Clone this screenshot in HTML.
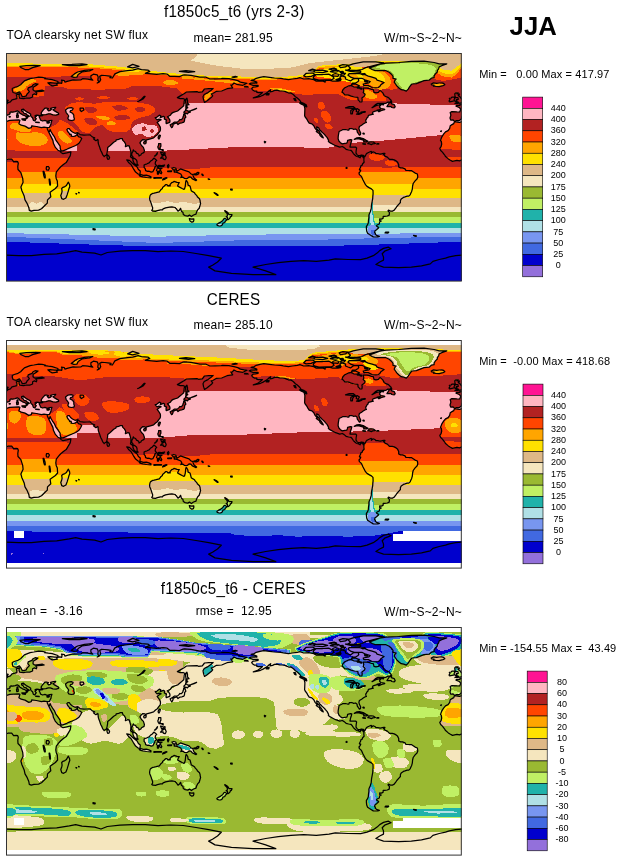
<!DOCTYPE html><html><head><meta charset="utf-8"><title>JJA TOA clearsky net SW flux</title><style>html,body{margin:0;padding:0;background:#fff}svg{display:block;will-change:transform}text{font-family:"Liberation Sans",sans-serif;fill:#000}</style></head><body><svg width="621" height="861" viewBox="0 0 621 861"><rect width="621" height="861" fill="#fff"/><defs><path id="landp" d="M-7.6 68.7L-2.5 69.4L3.8 67.3L12.7 66.9L13.9 67.4L12.9 70.7L15.2 72.2L19 73.1L22.8 75.4L25.3 74.7L25.7 72.8L30.4 73.5L35.5 74.7L38 74.2L41.2 74.5L41.3 76L42.8 79.2L45 83.6L46.9 87.4L47.4 90.3L49.4 94.4L51.9 97.2L54.5 98.4L55 99.4L57 100.7L60.8 99.8L64.9 98.9L64.3 102.6L62.1 106.4L60.2 109.6L57.4 111.5L54.5 114L52.6 116.2L50.3 119.1L49.8 122.9L50.2 125.4L51.3 127.9L51.6 133L49.4 135.5L46.2 137.8L44.1 139.3L44.8 143.8L41.5 146.9L41.3 150.1L39.3 152L35.5 155.8L32.6 157.1L27.9 157.3L25.3 158.1L23.3 157.3L22.8 154.5L20.9 150.1L19 146.9L18.2 143.1L15.8 137.4L14.9 134L17.1 129.2L16.7 125.4L15.5 121.6L14.9 119.7L12 116.5L11.8 113.4L12.3 110.2L11.7 108.7L10.1 108.3L7.6 108.6L5.7 106.1L2.5 106L0 106.9L-2.5 107.9L-5.1 107.4L-9.5 108.4L-12 107L-13.7 105.9L-16.7 103.2L-17.5 101.8L-19.6 99.1L-21.3 97.5L-22.2 95.4L-20.9 93.7L-20.3 91.2L-20.6 88.7L-21.5 87.4L-20.3 84.2L-18.4 81.1L-16.5 78.9L-13.9 77.6L-12.3 75.4L-11.8 72.8L-9.6 71.4L-8.2 70.6ZM448.4 68.7L453.5 69.4L459.8 67.3L468.7 66.9L469.9 67.4L468.9 70.7L471.2 72.2L475 73.1L478.8 75.4L481.3 74.7L481.7 72.8L486.4 73.5L491.5 74.7L494 74.2L497.2 74.5L497.3 76L498.8 79.2L501 83.6L502.9 87.4L503.4 90.3L505.4 94.4L507.9 97.2L510.5 98.4L511 99.4L513 100.7L516.8 99.8L520.9 98.9L520.3 102.6L518.1 106.4L516.2 109.6L513.4 111.5L510.5 114L508.6 116.2L506.3 119.1L505.8 122.9L506.2 125.4L507.3 127.9L507.6 133L505.4 135.5L502.2 137.8L500.1 139.3L500.8 143.8L497.5 146.9L497.3 150.1L495.3 152L491.5 155.8L488.6 157.1L483.9 157.3L481.3 158.1L479.3 157.3L478.8 154.5L476.9 150.1L475 146.9L474.2 143.1L471.8 137.4L470.9 134L473.1 129.2L472.7 125.4L471.5 121.6L470.9 119.7L468 116.5L467.8 113.4L468.3 110.2L467.7 108.7L466.1 108.3L463.6 108.6L461.7 106.1L458.5 106L456 106.9L453.5 107.9L450.9 107.4L446.5 108.4L444 107L442.3 105.9L439.3 103.2L438.5 101.8L436.4 99.1L434.7 97.5L433.8 95.4L435.1 93.7L435.7 91.2L435.4 88.7L434.5 87.4L435.7 84.2L437.6 81.1L439.5 78.9L442.1 77.6L443.7 75.4L444.2 72.8L446.4 71.4L447.8 70.6ZM-11.3 67.1L-12 65L-11.1 62.1L-11.8 59.5L-10.1 58.6L-5.1 58.9L-2.3 59L-1.5 57L-1.5 55.7L-2.8 54.5L-6 53.2L-5.7 52.4L-1.9 52.3L-2 51L0.3 51.3L2 49.7L4.4 48.9L6 46.9L8.9 46.2L10.8 45.6L10.9 43.7L10.3 41.8L13.4 40.9L13 43.1L13.7 45.2L15.2 45.3L17.7 45.6L20.9 45L23.7 45.1L26.6 44L26.6 41.8L28.5 40.9L30.4 41.8L30.8 40.2L29.8 39L31.4 38.6L35.5 38.5L38.3 38L36.1 37.2L32.9 37.5L28.5 38L27 36.7L27.2 34.2L31 31.9L32 31L29.1 30.7L27.2 31.7L26 33.3L22.2 34.8L21.8 36.7L23.4 38.6L20.9 41.2L20.3 42.8L18.1 43.7L16.3 43.7L14.9 40.9L13.4 38.9L10.1 40.4L7.1 39.5L6.3 37.4L6.3 35.5L8.2 34.5L12 33.3L14.6 31.7L16.5 29.8L18.4 27.9L20.9 26.9L24.1 25.6L27.9 25L32.7 24.1L36.1 24.3L39.3 25L38.6 25.7L42.4 26.2L46.2 26.6L51.9 28.5L51.9 29.8L48.8 30.1L44.3 29.6L41.8 29.8L44.1 31.7L46.2 32.9L48.1 32.6L51.3 32.2L50.7 30.7L53.8 29.8L55.7 30.3L56 28.5L55.5 27.1L58.3 27.5L58.9 29.1L62.1 28.1L67.1 26.9L69.7 27.2L74.7 27L76.6 25.7L81.7 26.2L86.8 27.2L84.9 25.3L84.9 22.8L87.4 21.2L91.2 21.8L92.2 24.1L91.8 27.2L93.1 29.1L91.2 30L93.7 28.5L94.7 26.6L93.7 23.4L95.6 22.4L98.8 22.5L102 22.8L105.1 23.4L103.9 24.7L106.4 25L108.9 20.9L114 18.6L121.6 17.7L126.7 17.1L132.1 15.6L135.5 16.7L141.9 17.1L143.8 18.4L139.3 20.3L143.1 20.6L150.7 21.3L157.1 20.6L160.9 21L164 23.4L168.5 23.4L173.5 23.6L176.7 22.2L178.6 21.8L184.9 22.4L190 23.3L193.8 24.2L200.1 24.2L203.9 26L209 25.8L215.3 25.6L216.6 25.3L222.9 25.6L228 26.7L231.8 27.6L234.3 29.1L241 30.3L236.9 32.3L230.5 31.3L228 30L226.1 32.2L224.8 32L226.7 34.8L221 35.7L215.7 38L210.5 38.3L206.8 40.5L205.2 40.8L206.7 42.8L205.2 44.6L202.7 46.6L200.5 48.3L198.5 49.4L197.6 46.9L197 43.7L198.2 41.5L201.4 39.9L204.8 37.6L207.1 35.5L202.7 35.7L198.5 36L196.3 38.9L192.5 39.3L191 38.6L184.3 38.8L180.5 39L178 40.8L174.8 42.6L171.4 44.6L174.2 45.6L177.1 45.5L179.1 46.6L178.2 47.8L178 50.7L177.7 52.8L175.1 55.1L171.6 58L167.2 59.4L165.6 60.4L164.3 62.3L161.5 63.8L162.8 65.2L163.9 67.1L163.9 69L163.1 69.7L160.2 70.6L160 68.8L160.5 67.1L158.3 65.9L158.6 64L157.4 63.3L154.2 64.6L154.8 62.8L153.3 62.2L150.7 64.3L149.2 64.6L150.1 65.9L151.1 66.8L153 66.1L155.2 66.8L153.3 67.8L151.1 69.4L152.6 71.3L154.3 74.1L154.5 76L154.2 77.9L152.6 79.8L151.4 81.7L149.5 83L147.6 84.9L144.4 85.8L140.6 86.8L139.7 88.3L139 86.8L136.8 86.6L135.2 87.9L133.9 89.9L135.5 92.5L137.4 94.4L138.4 97.5L138.1 99.4L135.5 100.8L134.9 102L133 103L132.7 101.3L130.5 100.1L129.6 98.5L127.8 97.9L127.3 96.9L126.7 98.8L125.7 100.7L125.8 102.3L127 103.9L127.3 105.1L128.6 105.4L130.5 107L131.1 108.9L131.1 110.8L132.1 112.2L131.1 112.4L128.3 110.5L127 107.7L127 106.4L126 104.8L124.5 103.9L124.8 102L124.9 98.8L123.8 95L123.1 92.8L121.6 92.7L119.4 93.7L119.7 91.2L118.4 88.9L116.8 87.4L116.3 85.5L114.6 85.5L112.7 86.3L110.2 86.8L109.9 88L107.7 89.3L104.2 92.5L101.7 94.4L101.6 96.9L101.1 99.4L100.7 101L100.1 102.2L99.1 102.7L98.2 103.7L96.6 101.6L95.6 99.1L94.7 97.5L93.7 94.4L92.5 91.2L92.2 89.9L92.1 87.4L91.8 86.4L89.9 87.7L87.4 85.8L88.7 84.9L86.5 84L84.9 82.6L84.2 81.8L81.1 82L77.9 82.1L74.1 81.6L72.5 80.1L71.6 79.7L69 80.3L66.5 79L64.6 77.5L63.3 75.7L61.8 75.6L60.8 76.6L61.7 78.5L63.3 80.3L63.7 81.7L64.9 81.1L65.4 82.3L65 83.2L67.1 83.5L69 83.2L70.9 81.7L71.4 80.7L71.6 82.6L72.8 83.9L74.2 84.1L75.7 85.5L74.5 88L73.2 89.9L71.6 91.2L69.7 92.5L66.1 94L63.3 95.1L60.8 96.3L57 97.8L55.1 97.9L54.2 95.3L54.1 93.1L51.9 89.9L49.7 86.8L48.5 83.9L46.9 81.7L45 78.5L44.1 76.6L43.4 78.8L42.1 77.6L41.3 76L41.2 74.6L43.4 74.4L44.3 72.5L45 71.1L45.3 68.9L45.9 67.4L43.7 67.5L41.2 68.3L38.9 67.4L36.7 68L34.6 67.1L33.9 65.2L33.2 64L33.3 63.1L34.8 62.8L36.7 62.7L36.9 61.8L39.9 61.7L42.4 60.8L44.3 60.8L46.9 61.8L50 62.1L52.6 61.3L52.6 60.2L50.3 58.9L48.1 57.6L46.9 56.7L48.8 55.7L49.7 54.3L47.5 54.5L44.6 55.4L45.3 56.6L44.3 57.3L42.6 57.8L41.3 56.5L42.4 55.7L40.3 55L38.9 55.2L37.6 56.6L36.4 58L35.5 59.3L35.1 60.2L35.6 61.3L36.6 61.9L34.8 62.1L33.2 63.2L32.9 62.3L31 62.2L29.1 62.7L30.4 63.3L28.9 64L29.5 65L30.4 65.9L30 66L29.4 66.6L29.1 67.8L28.4 67.8L27.5 67.4L26.9 66.1L26.6 64.7L25.3 63.7L24.6 62.7L24.7 61.2L23.4 60.2L20.8 58.9L19 57.6L18.1 56.7L17.2 57.1L17.4 56.1L15.6 56.6L15.7 58L17.1 58.8L18 60.3L20.3 60.9L20.3 61.6L21.5 62.1L23.4 63.2L22.7 63.5L21.7 62.7L21 63.6L21.8 64.6L20.9 65.4L19.9 66L20.1 65L20.4 64.5L19.8 63.3L18 62.3L16.5 61.8L15.5 61.1L13.9 60.2L13.3 59.5L13 58.8L11.3 57.8L9.2 58.6L6.7 59.2L5.1 58.9L3.9 59.5L4.1 60.8L2.8 61.6L1 62.1L0 63.6L-0.4 64.1L0.3 65L-0.6 65.5L-1 66.4L-2.4 67.3L-3.2 67.5L-5.6 67.5L-6.8 68.3L-8 67.8L-8.9 66.9ZM444.7 67.1L444 65L444.9 62.1L444.2 59.5L445.9 58.6L450.9 58.9L453.7 59L454.5 57L454.5 55.7L453.2 54.5L450 53.2L450.3 52.4L454.1 52.3L454 51L456.3 51.3L458 49.7L460.4 48.9L462 46.9L464.9 46.2L466.8 45.6L466.9 43.7L466.3 41.8L469.4 40.9L469 43.1L469.7 45.2L471.2 45.3L473.7 45.6L476.9 45L479.7 45.1L482.6 44L482.6 41.8L484.5 40.9L486.4 41.8L486.8 40.2L485.8 39L487.4 38.6L491.5 38.5L494.3 38L492.1 37.2L488.9 37.5L484.5 38L483 36.7L483.2 34.2L487 31.9L488 31L485.1 30.7L483.2 31.7L482 33.3L478.2 34.8L477.8 36.7L479.4 38.6L476.9 41.2L476.3 42.8L474.1 43.7L472.3 43.7L470.9 40.9L469.4 38.9L466.1 40.4L463.1 39.5L462.3 37.4L462.3 35.5L464.2 34.5L468 33.3L470.6 31.7L472.5 29.8L474.4 27.9L476.9 26.9L480.1 25.6L483.9 25L488.7 24.1L492.1 24.3L495.3 25L494.6 25.7L498.4 26.2L502.2 26.6L507.9 28.5L507.9 29.8L504.8 30.1L500.3 29.6L497.8 29.8L500.1 31.7L502.2 32.9L504.1 32.6L507.3 32.2L506.7 30.7L509.8 29.8L511.7 30.3L512 28.5L511.5 27.1L514.3 27.5L514.9 29.1L518.1 28.1L523.1 26.9L525.7 27.2L530.7 27L532.6 25.7L537.7 26.2L542.8 27.2L540.9 25.3L540.9 22.8L543.4 21.2L547.2 21.8L548.2 24.1L547.8 27.2L549.1 29.1L547.2 30L549.7 28.5L550.7 26.6L549.7 23.4L551.6 22.4L554.8 22.5L558 22.8L561.1 23.4L559.9 24.7L562.4 25L564.9 20.9L570 18.6L577.6 17.7L582.7 17.1L588.1 15.6L591.5 16.7L597.9 17.1L599.8 18.4L595.3 20.3L599.1 20.6L606.7 21.3L613.1 20.6L616.9 21L620 23.4L624.5 23.4L629.5 23.6L632.7 22.2L634.6 21.8L640.9 22.4L646 23.3L649.8 24.2L656.1 24.2L659.9 26L665 25.8L671.3 25.6L672.6 25.3L678.9 25.6L684 26.7L687.8 27.6L690.3 29.1L697 30.3L692.9 32.3L686.5 31.3L684 30L682.1 32.2L680.8 32L682.7 34.8L677 35.7L671.7 38L666.5 38.3L662.8 40.5L661.2 40.8L662.7 42.8L661.2 44.6L658.7 46.6L656.5 48.3L654.5 49.4L653.6 46.9L653 43.7L654.2 41.5L657.4 39.9L660.8 37.6L663.1 35.5L658.7 35.7L654.5 36L652.3 38.9L648.5 39.3L647 38.6L640.3 38.8L636.5 39L634 40.8L630.8 42.6L627.4 44.6L630.2 45.6L633.1 45.5L635.1 46.6L634.2 47.8L634 50.7L633.7 52.8L631.1 55.1L627.6 58L623.2 59.4L621.6 60.4L620.3 62.3L617.5 63.8L618.8 65.2L619.9 67.1L619.9 69L619.1 69.7L616.2 70.6L616 68.8L616.5 67.1L614.3 65.9L614.6 64L613.4 63.3L610.2 64.6L610.8 62.8L609.3 62.2L606.7 64.3L605.2 64.6L606.1 65.9L607.1 66.8L609 66.1L611.2 66.8L609.3 67.8L607.1 69.4L608.6 71.3L610.3 74.1L610.5 76L610.2 77.9L608.6 79.8L607.4 81.7L605.5 83L603.6 84.9L600.4 85.8L596.6 86.8L595.7 88.3L595 86.8L592.8 86.6L591.2 87.9L589.9 89.9L591.5 92.5L593.4 94.4L594.4 97.5L594.1 99.4L591.5 100.8L590.9 102L589 103L588.7 101.3L586.5 100.1L585.6 98.5L583.8 97.9L583.3 96.9L582.7 98.8L581.7 100.7L581.8 102.3L583 103.9L583.3 105.1L584.6 105.4L586.5 107L587.1 108.9L587.1 110.8L588.1 112.2L587.1 112.4L584.3 110.5L583 107.7L583 106.4L582 104.8L580.5 103.9L580.8 102L580.9 98.8L579.8 95L579.1 92.8L577.6 92.7L575.4 93.7L575.7 91.2L574.4 88.9L572.8 87.4L572.3 85.5L570.6 85.5L568.7 86.3L566.2 86.8L565.9 88L563.7 89.3L560.2 92.5L557.7 94.4L557.6 96.9L557.1 99.4L556.7 101L556.1 102.2L555.1 102.7L554.2 103.7L552.6 101.6L551.6 99.1L550.7 97.5L549.7 94.4L548.5 91.2L548.2 89.9L548.1 87.4L547.8 86.4L545.9 87.7L543.4 85.8L544.7 84.9L542.5 84L540.9 82.6L540.2 81.8L537.1 82L533.9 82.1L530.1 81.6L528.5 80.1L527.6 79.7L525 80.3L522.5 79L520.6 77.5L519.3 75.7L517.8 75.6L516.8 76.6L517.7 78.5L519.3 80.3L519.7 81.7L520.9 81.1L521.4 82.3L521 83.2L523.1 83.5L525 83.2L526.9 81.7L527.4 80.7L527.6 82.6L528.8 83.9L530.2 84.1L531.7 85.5L530.5 88L529.2 89.9L527.6 91.2L525.7 92.5L522.1 94L519.3 95.1L516.8 96.3L513 97.8L511.1 97.9L510.2 95.3L510.1 93.1L507.9 89.9L505.7 86.8L504.5 83.9L502.9 81.7L501 78.5L500.1 76.6L499.4 78.8L498.1 77.6L497.3 76L497.2 74.6L499.4 74.4L500.3 72.5L501 71.1L501.3 68.9L501.9 67.4L499.7 67.5L497.2 68.3L494.9 67.4L492.7 68L490.6 67.1L489.9 65.2L489.2 64L489.3 63.1L490.8 62.8L492.7 62.7L492.9 61.8L495.9 61.7L498.4 60.8L500.3 60.8L502.9 61.8L506 62.1L508.6 61.3L508.6 60.2L506.3 58.9L504.1 57.6L502.9 56.7L504.8 55.7L505.7 54.3L503.5 54.5L500.6 55.4L501.3 56.6L500.3 57.3L498.6 57.8L497.3 56.5L498.4 55.7L496.3 55L494.9 55.2L493.6 56.6L492.4 58L491.5 59.3L491.1 60.2L491.6 61.3L492.6 61.9L490.8 62.1L489.2 63.2L488.9 62.3L487 62.2L485.1 62.7L486.4 63.3L484.9 64L485.5 65L486.4 65.9L486 66L485.4 66.6L485.1 67.8L484.4 67.8L483.5 67.4L482.9 66.1L482.6 64.7L481.3 63.7L480.6 62.7L480.7 61.2L479.4 60.2L476.8 58.9L475 57.6L474.1 56.7L473.2 57.1L473.4 56.1L471.6 56.6L471.7 58L473.1 58.8L474 60.3L476.3 60.9L476.3 61.6L477.5 62.1L479.4 63.2L478.7 63.5L477.7 62.7L477 63.6L477.8 64.6L476.9 65.4L475.9 66L476.1 65L476.4 64.5L475.8 63.3L474 62.3L472.5 61.8L471.5 61.1L469.9 60.2L469.3 59.5L469 58.8L467.3 57.8L465.2 58.6L462.7 59.2L461.1 58.9L459.9 59.5L460.1 60.8L458.8 61.6L457 62.1L456 63.6L455.6 64.1L456.3 65L455.4 65.5L455 66.4L453.6 67.3L452.8 67.5L450.4 67.5L449.2 68.3L448 67.8L447.1 66.9ZM257.8 23.7L263.5 24.3L268.5 25L274.9 25.3L277.4 25.8L282.5 26.6L286.3 26L291.3 25.3L293.9 24.7L297.7 26L302.7 25.6L307.8 26.6L310.3 28.1L316.7 28L319.2 29.1L319.2 27.6L323 27.2L326.8 28.1L331.9 28.1L334.4 27.6L335 26.6L333.8 24.1L336.3 22.8L339.5 24.1L339.5 26L342 27L344.5 27.9L347.1 26L348.3 25.6L352.1 25.6L352.8 27.2L352.1 28.5L349.6 30L346.4 30L345.2 32.3L342 33.2L338.8 34.8L336.9 36.7L336 39.3L336.9 39.6L338.8 41.8L342 41.8L345.2 43.1L348.3 44L351.8 44.3L352.1 46.9L353.4 48.1L354 49L355.9 48.8L356.2 46.9L355.9 45L358.5 43.1L359.1 41.2L357.2 39.6L357.8 38L357.2 35.1L361 35.1L363.5 35.7L365.4 36.5L367.3 36.7L368 39.3L369.9 39.9L372.4 39.3L373.7 37.6L374.3 37.6L376.8 39.9L378.1 42.4L380 43.7L382.5 44.6L383.8 46L385.3 47.5L384.4 48.8L381.9 49.1L380 50.3L376.2 50.3L371.8 50.4L369.2 51.9L367.3 53.8L366.1 54.6L369.9 52.6L373.7 51.7L374.6 52.3L373.7 53.2L373.7 54.5L374.9 55.5L378.1 56.1L378.7 56.6L375.6 57.5L373 58.8L372.1 58L374.3 56.6L371.1 57L371.1 57.6L368.6 58.3L367.1 58.8L366.3 60.2L367.3 61.2L365.4 61.6L362.5 62.3L362.3 62.7L362 64L361 64.9L360.4 66.1L359.7 67.1L360.1 69L360.4 69.4L358.8 70L357.2 71.1L355.6 72.2L353.4 73.5L352.9 75.4L353.4 77.3L354 78.5L354.7 80.1L354.4 81.7L353.4 82.1L352.4 80.7L351.2 78.8L351.1 77.3L349.6 76L347.7 76.3L345.8 75.5L343.3 75.6L342.9 77L341.4 77L339.5 76.5L336.9 76.5L335.7 77.3L333.1 78.5L332.6 81.1L332.2 83.6L332.1 85.8L332.9 88L334.4 89.7L336.3 90.9L338.8 90.4L340.7 90.2L341.4 88.7L341.6 87.4L344.5 86.6L345.8 86.9L345.2 89.3L344.5 91.2L344.2 93.1L343.9 94L347.1 94L349.6 94L350.6 95L350.2 97.5L350 100.1L350.9 101.3L352.1 102.6L354 102.6L355.3 102L357.2 102.3L358.1 103.2L357.3 104.8L356.7 103.5L355.3 102.7L354 104.8L352.5 103.9L350.9 103.5L350 103L348.3 101.6L347.3 100.3L345.8 98.2L344.9 97.3L342.6 97L340.1 96.3L338.2 94.6L336.3 93.5L333.8 94.1L329.6 92.7L326.8 91.2L324.3 89.9L322.4 88.4L322.6 87.4L321.2 84.6L319.2 82.3L317.4 80.4L316 79.2L315.4 78.5L313.5 76.6L312.6 74.7L310.7 73.8L311 76L312.9 77.9L314.1 79.8L315.4 81.7L316.7 83.6L317.3 84.9L316.3 84.5L314.1 82.6L313.5 80.8L311.6 79.5L310.3 78.5L311.3 77.9L309.1 75.4L307.8 72.8L305.9 70.9L303.2 70.2L301.7 67.8L300.8 66.1L299.2 64L298.6 62.8L298.7 60.8L298.8 58.3L298.9 55.5L298.2 52.8L300.8 53.8L300.2 51.9L298.3 50.7L295.1 49.4L293.9 47.5L291.3 45L289.4 43.7L287.5 41.8L285 39.9L283.1 40.2L281.2 39.3L278.9 38.4L276.1 38L273.6 37.9L271.1 37.1L268.5 37.4L266.6 38.4L264.1 38.9L264.7 36.7L262.8 38L261.6 39.3L259.7 40.5L257.1 42.1L254.6 43.3L251.4 44.1L248.9 44.6L247.3 44.8L249.5 44L252.1 43.1L254.6 41.2L256.5 39.6L255.2 39.5L252.7 39.6L250.8 39.3L250.8 38L248.3 38L246.4 36.7L245.7 35.5L247 34.2L249.5 33.9L252.1 33.3L252.1 32.3L249.5 32.3L247 32.3L245.1 31.7L243.2 30.9L245.1 30.1L248.3 29.8L250.8 30.1L250.8 29.1L248.3 28.2L245.1 27.4L248.3 26.6L250.2 25.3L254 24.3ZM358.1 103.2L358.7 103.9L360.4 100.7L361.3 100.1L362 99.7L365.2 98.3L365.7 99.1L365.3 100.3L367.3 98.8L369.2 99.7L369.9 100.7L371.8 100.6L374.3 101.1L377.5 100.4L377.7 101.6L379 103.2L381.3 104.1L382.5 105.4L383.8 106.4L386.3 106.4L388.2 106.9L390.1 107.9L391.4 108.9L392.7 111.5L392.7 114L394.6 114.9L396.5 114.9L399 115.9L399.9 117.3L402.8 117.5L405.3 117.5L407.2 118.7L409.1 120.1L411.4 121L411.8 124.1L411 126L409.1 127.9L407.2 130.5L406.6 133L406.3 136.2L405.6 138.7L405 139.7L404.1 141.9L402.8 143.1L401.3 143.1L399 143.9L397.4 144.4L395.2 146L394.4 147.6L394.4 149.5L392.7 151.4L390.8 153.5L389.9 154.8L388.2 157.1L386.3 158.2L384.8 158.2L382.5 157.1L382 157.8L383.5 159.6L383.2 162.1L381.3 163L378.7 163.4L377.2 163.3L377.1 165.3L375.2 166.1L373.7 165.9L373.7 167.5L375.3 168L373.7 168.7L373.3 171L371.1 172L370.5 172.9L372.4 174.2L372.7 174.8L370.5 176.7L368.9 178L368.6 179.5L369.4 180.2L369.2 181.1L370.5 182.4L373.4 183.3L371.8 183.8L369.2 184L367.3 183.9L365.4 182.7L363.5 181.5L361.6 180.2L360.7 178L360.4 175.4L360.4 173.3L361.6 171.6L362.3 169.7L362.5 167.2L362.9 164.7L362.9 162.1L363.3 160.9L364.2 159L365.2 155.8L365.4 153.3L365.6 151.4L366.1 148.8L366.7 145.7L366.8 143.8L367.1 140.6L367 137.4L365.4 135.9L363.5 134.9L361 133.4L359.5 131.7L358.2 129.2L356.9 126.7L355.9 124.4L354.9 122.9L353.4 121.6L353 120L354.3 118.3L354.7 117.2L353.4 116.8L354 115.3L354.7 114L354.7 113L356.2 112.1L356.6 110.8L358.1 109.2L357.8 107L358 105.1L357.3 104.8ZM180.5 127.6L181.8 129.8L182.1 132.1L184 133L184.7 135.5L185.3 137.8L186.2 138.4L188.5 139.7L189.1 140.9L191 142.9L191.3 143.8L193.5 145.7L194.1 147.6L194.2 148.8L194.6 150.4L193.8 153.3L193.2 155.2L191.6 156.9L190.6 159L190 161.1L187.5 162L185.4 163.5L183.5 162.1L181.8 163.1L179.2 162.6L177.3 161.5L177 159.6L175.4 158.3L174.8 155.8L174.5 155.3L173.5 157.1L172.3 158.1L172 158.1L170.4 155.8L169.7 155.2L169.1 154.5L165.9 153.9L163.4 154.2L159.6 154.8L157.1 155.8L156.4 156.9L154.5 156.9L151.4 157.6L149.5 158.3L146.9 158.2L145.8 157.4L146.6 156.2L146.6 154.5L145.9 152.6L145.2 150.4L144.4 148.2L143.8 146.9L143.6 145L144.1 142.5L144.7 141.6L146.9 140.3L148.2 140.1L150.2 139.7L153.3 138.8L154.8 136.8L156.4 135.5L156.6 134.5L158.3 133L159.6 131.7L160.9 131.7L162.1 133L162.8 132.7L164.2 132.9L164 131.7L165.7 129.7L167.2 129.2L168 128.3L171 129.3L173.3 129.5L172.3 131.1L171.6 133L173.5 134.1L176.1 135.5L178 136.3L178.5 136L179.2 133.6L179.5 131.1L179.6 129.8L179.9 127.9ZM183.3 165.6L185.6 166.1L187.8 165.8L187.8 167.5L187.3 168.7L185.9 169.2L184.4 168.3L183.9 167.5ZM218.8 157.6L220.8 158.7L222.3 160.2L222.9 161.6L225.5 161.6L226.1 161.8L225.3 163.4L224.2 163.9L224.1 164.9L222.9 166.2L221.9 166.7L221.4 166.3L221.7 165.3L221.4 164.4L220.1 163.8L221.2 163.1L221.4 162.1L221.2 160.9L220.7 160.1L219.1 158.6ZM218.8 165.3L220.4 166.2L220.8 166.9L219.1 168.5L218.9 169.5L217 170.1L216.2 172L214.7 172.9L213.2 173L211.2 172.4L210.9 171.6L212.8 170.1L214.7 169.1L216.6 167.8L217.2 166.8L218 165.7ZM363.5 14.9L369.9 12.7L373.7 11.1L380 10.1L392.7 9.5L405.3 8.4L418 8.1L428.1 9.5L433.2 10.8L440.8 10.8L435.7 12.7L433.2 13.9L432.6 15.8L431.3 17.7L431.3 19L429.4 20.9L428.1 22.8L428.1 24.7L425.6 25.1L423.1 27.2L418 27.7L414.2 29.1L410.4 30.7L406 31L404.7 32.3L403.4 34.2L402.2 36.1L400.3 38.1L397.7 37.2L395.2 36.7L392.7 34.8L390.8 32.9L389.5 31L388.2 29.1L388.9 27.2L390.1 26L387 25.3L387 23.4L385.7 21.5L383.2 19.3L380 17.7L374.9 17.5L369.2 17.7L366.1 16.5ZM425.2 31L427.5 29.9L430.7 30.4L433.2 30L435.7 29.8L437.6 30.4L438.8 31.7L437 32.6L433.2 33.6L430 33.4L427.5 33.1L428.1 32.2L425.6 31.8ZM-7 50.5L-4.4 50.3L-1.3 49.8L1.6 49.1L0.9 48.6L2.2 47.4L0.4 46.9L0 46L-1.5 44.8L-2 43.7L-2.8 43.1L-3.8 42.7L-2.5 41L-4.4 40.9L-5.1 40.8L-3.8 39.8L-6.3 39.8L-7.3 41L-7.1 42.4L-7 43.7L-6.1 44.5L-4.2 44.5L-3.8 45.6L-3.8 46.4L-5.6 46.5L-5.8 47.1L-5.1 47.6L-6.6 48.4L-4.4 48.8L-3.8 49.1L-5.7 49.4ZM449 50.5L451.6 50.3L454.7 49.8L457.6 49.1L456.9 48.6L458.2 47.4L456.4 46.9L456 46L454.5 44.8L454 43.7L453.2 43.1L452.2 42.7L453.5 41L451.6 40.9L450.9 40.8L452.2 39.8L449.7 39.8L448.7 41L448.9 42.4L449 43.7L449.9 44.5L451.8 44.5L452.2 45.6L452.2 46.4L450.4 46.5L450.2 47.1L450.9 47.6L449.4 48.4L451.6 48.8L452.2 49.1L450.3 49.4ZM448.4 47.9L448.1 46.5L448.9 45.1L448 44.1L445.9 44.1L445.2 45L443.3 45.3L444 46.5L443 48.1L443.7 48.8L445.9 48.4ZM165.8 70.9L167.2 69.9L168.5 69L171.6 68.9L173.2 67.4L173.9 66.5L175.4 66.6L176.7 65.2L177.3 63.3L177.7 61.8L179.1 61.6L179.5 63.3L179.9 64L178.6 65.6L178.6 67.1L178.2 68.7L177.3 69.4L177 69.3L175.8 70L173.8 70.2L173.3 70.6L172 71.6L171.3 70.6L170.4 70L168.5 70.6L167.6 71.1L166.9 71.6L167.1 72.5L166.4 74.1L165.6 74.6L164.9 73.5L164.4 72.6L164.2 71.8L165.2 71.2ZM177.6 61.4L178.6 60.2L177.8 59.2L179.4 57.6L179.6 56.5L181.1 57.6L183 58.3L184 57.9L184.3 59.2L182.4 59.7L181.5 60.8L179.6 60.2L178.5 61.1ZM179.9 55.7L181.8 54.7L180.9 53.8L181.1 51.9L183 51.7L181.5 50L181.5 47.5L180.9 45.2L179.9 46.2L179.6 48.8L180 51.3L179.9 53.8ZM120.7 106.9L123.5 107.4L126.7 110.5L131.1 114L132.4 116.5L134.3 118.1L134 121.3L132.4 121.2L129.6 119.1L127.2 115.3L125.1 111.8L122.9 109.8ZM133.3 122.6L134.9 121.6L137.4 122.4L140.3 122.1L142.8 122.9L145 123.9L144.9 124.9L140.6 124.5L136.8 123.9L134.8 123.4ZM138.1 112.1L139 111.5L141 110.8L143.1 109.9L144.4 108.3L146.3 107L147.9 105.1L149.1 106L150.7 107.4L149.5 108.7L149.2 110.8L150.5 112.7L148.8 114L148.8 115.3L147.6 117.2L146.9 118.7L145.2 119.1L143.1 118.2L141.6 118.3L139.6 117.7L139.3 115.9L138.1 114.4ZM151.7 113.1L153 112.4L155.8 112.7L158.6 112L157.7 113.5L154.5 113.4L152.3 113.6L152.6 115.3L154.3 115.1L156.2 115.1L154.5 116.3L153.9 116.5L155.2 118.4L155.8 119.7L155.2 120.8L154 120L153.3 117.8L152.5 118.4L152.5 121L151.4 121L151.4 118.4L150.5 117.4L151.6 114.4ZM165.9 115L167.8 114.5L169.7 115L171 118.2L174.5 115.9L178.6 117.3L183 118.8L184.7 120.7L186.8 121.6L187.2 122.9L188.1 125.1L190.6 127L190 127.6L186.5 126L184.9 124.1L183 123.8L181.8 125.1L180.5 125.7L178.6 125.5L176.7 124.1L174.8 124.5L175.8 122.9L174.8 121L171.6 119.6L169.1 118.8L168.2 119.1L168.2 117.5L169.7 116.9L168.5 116.8L167.2 116.8ZM187.8 121.1L190 120.6L191.9 119.4L192.9 119.7L192.5 121L190.6 121.9L188.7 121.9ZM152.6 90.6L154.8 90.6L154.9 93.1L153.9 95L154.5 96.3L157.1 96.5L157.2 98L155.8 97L154.3 96.5L152.9 96.5L152.8 95.6L152 95L151.9 93.4L152.5 92.5ZM154.5 105.1L156.4 103.1L159 101.7L160.2 104.5L159.6 106.1L159 106.7L157.3 106.1L157.1 104.9ZM154.5 99.1L156.1 99.4L157.1 100.1L159 99.7L159 101.1L157.1 101.3L155.8 102.2L155.2 100.7ZM148.5 103.2L150.1 101.6L151.5 99.7L151.1 101.1L149.5 102.9ZM153.3 82.1L154.4 82.3L153.9 84.2L153 86.1L152.1 84.9L152.4 83.6ZM138.1 88.7L140.3 88.7L139.8 90.6L138.1 90.8L137.6 89.7ZM101.3 101.6L103 103.2L103.6 104.8L102.9 106.1L101.7 106.4L101 104.5L101.1 103.2ZM62.4 129.2L63.6 131.7L63.8 133.6L63 135.5L62.3 138.1L61.1 141.9L59.9 145L57.6 146.3L55.7 145.7L54.8 142.5L55.7 140L56.1 138.1L55.7 135.5L57 134.3L58.9 133.6L60.5 132.4L61.4 130.7ZM348.3 86.3L350.9 84.9L353.4 84.6L357.2 85.6L359.7 87.1L362 88.4L360.4 88.8L357.6 88.9L358.2 87.9L356.6 86.8L354 86.1L352.1 85.6L350.2 85.9ZM361.8 90.7L363.5 88.8L365.2 88.8L367.3 89L369.4 90.4L368.6 90.7L366.7 90.9L365.4 91.6L363.5 90.9ZM356.8 90.7L359.4 90.9L359.4 91.3L356.9 91.2ZM370.9 90.6L372.8 90.7L372.7 91.2L370.9 91.2ZM378.1 29.5L374.9 31.7L373.7 33.6L372.4 34.5L369.9 34.8L366.1 34.5L362.3 32.6L357.8 32.6L357.2 31L362.9 29.8L364.2 28.5L359.7 27.2L355.9 25.3L348.3 25.3L344.5 24.1L342 22.2L343.3 20.5L348.3 20.5L353.4 20.6L358.5 21.5L362.3 23.1L366.1 24.1L369.9 25.3L371.1 27.2L375.6 28.5ZM307.8 23.4L310.3 21.5L316.7 21.5L323 21.2L326.8 23.4L328.1 25.3L325.5 26.9L320.5 26.9L312.9 27.2L309.1 26.2L307.2 25ZM297.7 22.8L300.2 20.3L306.5 20L309.1 21.5L305.3 23.4L300.2 23.8ZM342 17.1L344.5 15.2L342 12.7L347.1 10.8L357.2 8.9L369.9 8.9L377.5 9.9L372.4 11.4L364.8 13.3L359.7 14.6L355.9 16.5L350.9 17.4ZM339.5 17.1L344.5 18.4L354.7 19.4L354.7 18L349.6 17.4ZM307.8 19L316.7 19.6L321.7 18.4L316.7 17.1L309.1 17.4ZM334.4 14.6L339.5 13.9L342 12L336.9 11.7L333.1 12.9ZM334.4 22.2L338.2 21.8L339.5 20.3L335.7 20.1ZM326.8 22.8L331.9 23.4L333.1 21.5L329.3 20.5L326.8 21.5ZM345.8 31L349.6 31L353.4 32.9L350.9 34.2L347.7 33.8L345.8 32.9ZM380.9 53.6L383.2 50L385.7 48.6L385.3 50.7L388.2 51.6L389.2 53.8L388.2 54.8L385.7 54.5L385.1 53.6ZM293.5 49.8L297.7 50.7L299.6 52.6L297.7 52.3L294.5 50.7ZM13.9 13.3L20.3 12.7L27.9 12.3L34.2 12.7L26.6 14.6L22.8 16.5L19 16.5L15.2 14.8ZM65.2 23.4L68.4 20.9L71.6 19L78.5 17.4L86.8 16.5L83.6 18L76 19L72.2 21.5L70.9 24.1L67.8 24.4ZM121.6 13.9L126.7 11.4L133 13.3L126.7 14.8ZM173.5 18.4L179.9 17.7L188.7 18.6L182.4 19.3ZM226.1 24.1L229.3 23.4L231.2 23.8L228 24.3ZM15.8 65.9L19.6 65.6L19.3 67.4L16.5 66.8ZM10.5 62.2L12.3 62.1L12.2 64.3L10.8 64.6ZM11 60L12 59.8L11.8 61.4L11 61.1ZM29.8 69L33.2 69.3L33.2 69.7L29.8 69.4ZM40.9 69.7L43.7 68.9L42.8 70L41.2 70ZM184.9 57.6L188.1 56.4L190.6 55.4L188.1 56.7ZM302.7 17.7L306.5 16.1L309.7 17L306.5 18ZM323 16.2L328.1 15.2L330.6 16.1L326.8 17ZM324.3 18.6L329.3 17.1L333.1 17.7L330.6 19L326.8 19.1ZM333.8 18.7L336.9 18.4L337.6 19.3L334.4 19.4ZM330 26.6L333.1 25.6L335 26.6L332.5 27.2ZM354.7 20.9L358.5 20.5L359.7 21.5L356.6 21.8ZM358.5 27.9L361 27.6L361.6 28.8L359.1 28.9ZM350.9 34.2L354 34.5L354.7 35.5L351.5 35.2ZM354 35.1L355.7 35.1L355.6 36.1L354.3 36ZM374.3 50.8L377.5 51.4L377.7 51.8L374.7 51.3ZM287.8 45.6L289.4 45.6L290.1 47.9L288.5 47.1ZM260.3 40.7L263.1 40.5L262.8 41.8L260.3 41.9ZM238.8 33.3L241.9 33.7L242.2 34.2L238.4 33.8ZM56.4 11.7L65.9 11.4L76 10.8L81.1 11.7L73.5 12.7L63.3 12.7ZM357.2 80.1L358.2 80.4L358.1 81.2L356.9 80.6ZM378.1 100.3L378.9 100.3L378.7 101.2L377.7 101.2ZM380 179L382.8 179.1L381.9 180.1L379 179.9ZM407.6 182.4L410.4 182.8L410.1 183.4L408.1 182.8ZM87 175.7L89.3 176.1L88.9 177L87.1 176.7ZM210.3 140.6L212.2 142.2L211.5 142.4L208.1 139.7ZM224.6 136L226.2 136.2L226.1 137.1L224.6 136.8ZM258.4 88.4L259.7 88.9L258.9 89.9L258.4 89.2ZM196 121L197.3 122.2L197 122.7L195.8 121.6ZM202.4 125.8L203.7 126.4L203 126.5L202.2 125.9ZM161.6 118.2L165.7 117.9L165.3 118.6L162.1 118.7ZM161.5 112.7L162.4 111.5L163 112.7L162.1 114.9L161.6 114ZM157.1 125.8L160.2 124.6L160.9 124.9L158.3 126.4L156.6 127ZM147.9 124.6L150.7 124.5L155.5 124.5L155.5 125.1L150.7 125.1L147.9 125.3ZM434.7 78L435.5 77.9L435.1 78.5L434.6 78.3ZM70 140.5L70.7 140.6L70.4 141.1L69.9 140.7ZM72.6 139.3L73.2 139.5L73 140L72.6 139.8ZM340.1 114.5L340.9 114.4L341 115.3L340.1 115.3ZM3.8 63.5L4.3 63.7L3.8 64.2L3 63.8Z"/><clipPath id="landc"><use href="#landp"/></clipPath><clipPath id="mapc"><rect x="0" y="0" width="456" height="228"/></clipPath><path id="coast" d="M-7.6 68.7L-2.5 69.4L3.8 67.3L12.7 66.9L13.9 67.4L12.9 70.7L15.2 72.2L19 73.1L22.8 75.4L25.3 74.7L25.7 72.8L30.4 73.5L35.5 74.7L38 74.2L41.2 74.5L41.3 76L42.8 79.2L45 83.6L46.9 87.4L47.4 90.3L49.4 94.4L51.9 97.2L54.5 98.4L55 99.4L57 100.7L60.8 99.8L64.9 98.9L64.3 102.6L62.1 106.4L60.2 109.6L57.4 111.5L54.5 114L52.6 116.2L50.3 119.1L49.8 122.9L50.2 125.4L51.3 127.9L51.6 133L49.4 135.5L46.2 137.8L44.1 139.3L44.8 143.8L41.5 146.9L41.3 150.1L39.3 152L35.5 155.8L32.6 157.1L27.9 157.3L25.3 158.1L23.3 157.3L22.8 154.5L20.9 150.1L19 146.9L18.2 143.1L15.8 137.4L14.9 134L17.1 129.2L16.7 125.4L15.5 121.6L14.9 119.7L12 116.5L11.8 113.4L12.3 110.2L11.7 108.7L10.1 108.3L7.6 108.6L5.7 106.1L2.5 106L0 106.9L-2.5 107.9L-5.1 107.4L-9.5 108.4L-12 107L-13.7 105.9L-16.7 103.2L-17.5 101.8L-19.6 99.1L-21.3 97.5L-22.2 95.4L-20.9 93.7L-20.3 91.2L-20.6 88.7L-21.5 87.4L-20.3 84.2L-18.4 81.1L-16.5 78.9L-13.9 77.6L-12.3 75.4L-11.8 72.8L-9.6 71.4L-8.2 70.6ZM448.4 68.7L453.5 69.4L459.8 67.3L468.7 66.9L469.9 67.4L468.9 70.7L471.2 72.2L475 73.1L478.8 75.4L481.3 74.7L481.7 72.8L486.4 73.5L491.5 74.7L494 74.2L497.2 74.5L497.3 76L498.8 79.2L501 83.6L502.9 87.4L503.4 90.3L505.4 94.4L507.9 97.2L510.5 98.4L511 99.4L513 100.7L516.8 99.8L520.9 98.9L520.3 102.6L518.1 106.4L516.2 109.6L513.4 111.5L510.5 114L508.6 116.2L506.3 119.1L505.8 122.9L506.2 125.4L507.3 127.9L507.6 133L505.4 135.5L502.2 137.8L500.1 139.3L500.8 143.8L497.5 146.9L497.3 150.1L495.3 152L491.5 155.8L488.6 157.1L483.9 157.3L481.3 158.1L479.3 157.3L478.8 154.5L476.9 150.1L475 146.9L474.2 143.1L471.8 137.4L470.9 134L473.1 129.2L472.7 125.4L471.5 121.6L470.9 119.7L468 116.5L467.8 113.4L468.3 110.2L467.7 108.7L466.1 108.3L463.6 108.6L461.7 106.1L458.5 106L456 106.9L453.5 107.9L450.9 107.4L446.5 108.4L444 107L442.3 105.9L439.3 103.2L438.5 101.8L436.4 99.1L434.7 97.5L433.8 95.4L435.1 93.7L435.7 91.2L435.4 88.7L434.5 87.4L435.7 84.2L437.6 81.1L439.5 78.9L442.1 77.6L443.7 75.4L444.2 72.8L446.4 71.4L447.8 70.6ZM-11.3 67.1L-12 65L-11.1 62.1L-11.8 59.5L-10.1 58.6L-5.1 58.9L-2.3 59L-1.5 57L-1.5 55.7L-2.8 54.5L-6 53.2L-5.7 52.4L-1.9 52.3L-2 51L0.3 51.3L2 49.7L4.4 48.9L6 46.9L8.9 46.2L10.8 45.6L10.9 43.7L10.3 41.8L13.4 40.9L13 43.1L13.7 45.2L15.2 45.3L17.7 45.6L20.9 45L23.7 45.1L26.6 44L26.6 41.8L28.5 40.9L30.4 41.8L30.8 40.2L29.8 39L31.4 38.6L35.5 38.5L38.3 38L36.1 37.2L32.9 37.5L28.5 38L27 36.7L27.2 34.2L31 31.9L32 31L29.1 30.7L27.2 31.7L26 33.3L22.2 34.8L21.8 36.7L23.4 38.6L20.9 41.2L20.3 42.8L18.1 43.7L16.3 43.7L14.9 40.9L13.4 38.9L10.1 40.4L7.1 39.5L6.3 37.4L6.3 35.5L8.2 34.5L12 33.3L14.6 31.7L16.5 29.8L18.4 27.9L20.9 26.9L24.1 25.6L27.9 25L32.7 24.1L36.1 24.3L39.3 25L38.6 25.7L42.4 26.2L46.2 26.6L51.9 28.5L51.9 29.8L48.8 30.1L44.3 29.6L41.8 29.8L44.1 31.7L46.2 32.9L48.1 32.6L51.3 32.2L50.7 30.7L53.8 29.8L55.7 30.3L56 28.5L55.5 27.1L58.3 27.5L58.9 29.1L62.1 28.1L67.1 26.9L69.7 27.2L74.7 27L76.6 25.7L81.7 26.2L86.8 27.2L84.9 25.3L84.9 22.8L87.4 21.2L91.2 21.8L92.2 24.1L91.8 27.2L93.1 29.1L91.2 30L93.7 28.5L94.7 26.6L93.7 23.4L95.6 22.4L98.8 22.5L102 22.8L105.1 23.4L103.9 24.7L106.4 25L108.9 20.9L114 18.6L121.6 17.7L126.7 17.1L132.1 15.6L135.5 16.7L141.9 17.1L143.8 18.4L139.3 20.3L143.1 20.6L150.7 21.3L157.1 20.6L160.9 21L164 23.4L168.5 23.4L173.5 23.6L176.7 22.2L178.6 21.8L184.9 22.4L190 23.3L193.8 24.2L200.1 24.2L203.9 26L209 25.8L215.3 25.6L216.6 25.3L222.9 25.6L228 26.7L231.8 27.6L234.3 29.1L241 30.3L236.9 32.3L230.5 31.3L228 30L226.1 32.2L224.8 32L226.7 34.8L221 35.7L215.7 38L210.5 38.3L206.8 40.5L205.2 40.8L206.7 42.8L205.2 44.6L202.7 46.6L200.5 48.3L198.5 49.4L197.6 46.9L197 43.7L198.2 41.5L201.4 39.9L204.8 37.6L207.1 35.5L202.7 35.7L198.5 36L196.3 38.9L192.5 39.3L191 38.6L184.3 38.8L180.5 39L178 40.8L174.8 42.6L171.4 44.6L174.2 45.6L177.1 45.5L179.1 46.6L178.2 47.8L178 50.7L177.7 52.8L175.1 55.1L171.6 58L167.2 59.4L165.6 60.4L164.3 62.3L161.5 63.8L162.8 65.2L163.9 67.1L163.9 69L163.1 69.7L160.2 70.6L160 68.8L160.5 67.1L158.3 65.9L158.6 64L157.4 63.3L154.2 64.6L154.8 62.8L153.3 62.2L150.7 64.3L149.2 64.6L150.1 65.9L151.1 66.8L153 66.1L155.2 66.8L153.3 67.8L151.1 69.4L152.6 71.3L154.3 74.1L154.5 76L154.2 77.9L152.6 79.8L151.4 81.7L149.5 83L147.6 84.9L144.4 85.8L140.6 86.8L139.7 88.3L139 86.8L136.8 86.6L135.2 87.9L133.9 89.9L135.5 92.5L137.4 94.4L138.4 97.5L138.1 99.4L135.5 100.8L134.9 102L133 103L132.7 101.3L130.5 100.1L129.6 98.5L127.8 97.9L127.3 96.9L126.7 98.8L125.7 100.7L125.8 102.3L127 103.9L127.3 105.1L128.6 105.4L130.5 107L131.1 108.9L131.1 110.8L132.1 112.2L131.1 112.4L128.3 110.5L127 107.7L127 106.4L126 104.8L124.5 103.9L124.8 102L124.9 98.8L123.8 95L123.1 92.8L121.6 92.7L119.4 93.7L119.7 91.2L118.4 88.9L116.8 87.4L116.3 85.5L114.6 85.5L112.7 86.3L110.2 86.8L109.9 88L107.7 89.3L104.2 92.5L101.7 94.4L101.6 96.9L101.1 99.4L100.7 101L100.1 102.2L99.1 102.7L98.2 103.7L96.6 101.6L95.6 99.1L94.7 97.5L93.7 94.4L92.5 91.2L92.2 89.9L92.1 87.4L91.8 86.4L89.9 87.7L87.4 85.8L88.7 84.9L86.5 84L84.9 82.6L84.2 81.8L81.1 82L77.9 82.1L74.1 81.6L72.5 80.1L71.6 79.7L69 80.3L66.5 79L64.6 77.5L63.3 75.7L61.8 75.6L60.8 76.6L61.7 78.5L63.3 80.3L63.7 81.7L64.9 81.1L65.4 82.3L65 83.2L67.1 83.5L69 83.2L70.9 81.7L71.4 80.7L71.6 82.6L72.8 83.9L74.2 84.1L75.7 85.5L74.5 88L73.2 89.9L71.6 91.2L69.7 92.5L66.1 94L63.3 95.1L60.8 96.3L57 97.8L55.1 97.9L54.2 95.3L54.1 93.1L51.9 89.9L49.7 86.8L48.5 83.9L46.9 81.7L45 78.5L44.1 76.6L43.4 78.8L42.1 77.6L41.3 76L41.2 74.6L43.4 74.4L44.3 72.5L45 71.1L45.3 68.9L45.9 67.4L43.7 67.5L41.2 68.3L38.9 67.4L36.7 68L34.6 67.1L33.9 65.2L33.2 64L33.3 63.1L34.8 62.8L36.7 62.7L36.9 61.8L39.9 61.7L42.4 60.8L44.3 60.8L46.9 61.8L50 62.1L52.6 61.3L52.6 60.2L50.3 58.9L48.1 57.6L46.9 56.7L48.8 55.7L49.7 54.3L47.5 54.5L44.6 55.4L45.3 56.6L44.3 57.3L42.6 57.8L41.3 56.5L42.4 55.7L40.3 55L38.9 55.2L37.6 56.6L36.4 58L35.5 59.3L35.1 60.2L35.6 61.3L36.6 61.9L34.8 62.1L33.2 63.2L32.9 62.3L31 62.2L29.1 62.7L30.4 63.3L28.9 64L29.5 65L30.4 65.9L30 66L29.4 66.6L29.1 67.8L28.4 67.8L27.5 67.4L26.9 66.1L26.6 64.7L25.3 63.7L24.6 62.7L24.7 61.2L23.4 60.2L20.8 58.9L19 57.6L18.1 56.7L17.2 57.1L17.4 56.1L15.6 56.6L15.7 58L17.1 58.8L18 60.3L20.3 60.9L20.3 61.6L21.5 62.1L23.4 63.2L22.7 63.5L21.7 62.7L21 63.6L21.8 64.6L20.9 65.4L19.9 66L20.1 65L20.4 64.5L19.8 63.3L18 62.3L16.5 61.8L15.5 61.1L13.9 60.2L13.3 59.5L13 58.8L11.3 57.8L9.2 58.6L6.7 59.2L5.1 58.9L3.9 59.5L4.1 60.8L2.8 61.6L1 62.1L0 63.6L-0.4 64.1L0.3 65L-0.6 65.5L-1 66.4L-2.4 67.3L-3.2 67.5L-5.6 67.5L-6.8 68.3L-8 67.8L-8.9 66.9ZM444.7 67.1L444 65L444.9 62.1L444.2 59.5L445.9 58.6L450.9 58.9L453.7 59L454.5 57L454.5 55.7L453.2 54.5L450 53.2L450.3 52.4L454.1 52.3L454 51L456.3 51.3L458 49.7L460.4 48.9L462 46.9L464.9 46.2L466.8 45.6L466.9 43.7L466.3 41.8L469.4 40.9L469 43.1L469.7 45.2L471.2 45.3L473.7 45.6L476.9 45L479.7 45.1L482.6 44L482.6 41.8L484.5 40.9L486.4 41.8L486.8 40.2L485.8 39L487.4 38.6L491.5 38.5L494.3 38L492.1 37.2L488.9 37.5L484.5 38L483 36.7L483.2 34.2L487 31.9L488 31L485.1 30.7L483.2 31.7L482 33.3L478.2 34.8L477.8 36.7L479.4 38.6L476.9 41.2L476.3 42.8L474.1 43.7L472.3 43.7L470.9 40.9L469.4 38.9L466.1 40.4L463.1 39.5L462.3 37.4L462.3 35.5L464.2 34.5L468 33.3L470.6 31.7L472.5 29.8L474.4 27.9L476.9 26.9L480.1 25.6L483.9 25L488.7 24.1L492.1 24.3L495.3 25L494.6 25.7L498.4 26.2L502.2 26.6L507.9 28.5L507.9 29.8L504.8 30.1L500.3 29.6L497.8 29.8L500.1 31.7L502.2 32.9L504.1 32.6L507.3 32.2L506.7 30.7L509.8 29.8L511.7 30.3L512 28.5L511.5 27.1L514.3 27.5L514.9 29.1L518.1 28.1L523.1 26.9L525.7 27.2L530.7 27L532.6 25.7L537.7 26.2L542.8 27.2L540.9 25.3L540.9 22.8L543.4 21.2L547.2 21.8L548.2 24.1L547.8 27.2L549.1 29.1L547.2 30L549.7 28.5L550.7 26.6L549.7 23.4L551.6 22.4L554.8 22.5L558 22.8L561.1 23.4L559.9 24.7L562.4 25L564.9 20.9L570 18.6L577.6 17.7L582.7 17.1L588.1 15.6L591.5 16.7L597.9 17.1L599.8 18.4L595.3 20.3L599.1 20.6L606.7 21.3L613.1 20.6L616.9 21L620 23.4L624.5 23.4L629.5 23.6L632.7 22.2L634.6 21.8L640.9 22.4L646 23.3L649.8 24.2L656.1 24.2L659.9 26L665 25.8L671.3 25.6L672.6 25.3L678.9 25.6L684 26.7L687.8 27.6L690.3 29.1L697 30.3L692.9 32.3L686.5 31.3L684 30L682.1 32.2L680.8 32L682.7 34.8L677 35.7L671.7 38L666.5 38.3L662.8 40.5L661.2 40.8L662.7 42.8L661.2 44.6L658.7 46.6L656.5 48.3L654.5 49.4L653.6 46.9L653 43.7L654.2 41.5L657.4 39.9L660.8 37.6L663.1 35.5L658.7 35.7L654.5 36L652.3 38.9L648.5 39.3L647 38.6L640.3 38.8L636.5 39L634 40.8L630.8 42.6L627.4 44.6L630.2 45.6L633.1 45.5L635.1 46.6L634.2 47.8L634 50.7L633.7 52.8L631.1 55.1L627.6 58L623.2 59.4L621.6 60.4L620.3 62.3L617.5 63.8L618.8 65.2L619.9 67.1L619.9 69L619.1 69.7L616.2 70.6L616 68.8L616.5 67.1L614.3 65.9L614.6 64L613.4 63.3L610.2 64.6L610.8 62.8L609.3 62.2L606.7 64.3L605.2 64.6L606.1 65.9L607.1 66.8L609 66.1L611.2 66.8L609.3 67.8L607.1 69.4L608.6 71.3L610.3 74.1L610.5 76L610.2 77.9L608.6 79.8L607.4 81.7L605.5 83L603.6 84.9L600.4 85.8L596.6 86.8L595.7 88.3L595 86.8L592.8 86.6L591.2 87.9L589.9 89.9L591.5 92.5L593.4 94.4L594.4 97.5L594.1 99.4L591.5 100.8L590.9 102L589 103L588.7 101.3L586.5 100.1L585.6 98.5L583.8 97.9L583.3 96.9L582.7 98.8L581.7 100.7L581.8 102.3L583 103.9L583.3 105.1L584.6 105.4L586.5 107L587.1 108.9L587.1 110.8L588.1 112.2L587.1 112.4L584.3 110.5L583 107.7L583 106.4L582 104.8L580.5 103.9L580.8 102L580.9 98.8L579.8 95L579.1 92.8L577.6 92.7L575.4 93.7L575.7 91.2L574.4 88.9L572.8 87.4L572.3 85.5L570.6 85.5L568.7 86.3L566.2 86.8L565.9 88L563.7 89.3L560.2 92.5L557.7 94.4L557.6 96.9L557.1 99.4L556.7 101L556.1 102.2L555.1 102.7L554.2 103.7L552.6 101.6L551.6 99.1L550.7 97.5L549.7 94.4L548.5 91.2L548.2 89.9L548.1 87.4L547.8 86.4L545.9 87.7L543.4 85.8L544.7 84.9L542.5 84L540.9 82.6L540.2 81.8L537.1 82L533.9 82.1L530.1 81.6L528.5 80.1L527.6 79.7L525 80.3L522.5 79L520.6 77.5L519.3 75.7L517.8 75.6L516.8 76.6L517.7 78.5L519.3 80.3L519.7 81.7L520.9 81.1L521.4 82.3L521 83.2L523.1 83.5L525 83.2L526.9 81.7L527.4 80.7L527.6 82.6L528.8 83.9L530.2 84.1L531.7 85.5L530.5 88L529.2 89.9L527.6 91.2L525.7 92.5L522.1 94L519.3 95.1L516.8 96.3L513 97.8L511.1 97.9L510.2 95.3L510.1 93.1L507.9 89.9L505.7 86.8L504.5 83.9L502.9 81.7L501 78.5L500.1 76.6L499.4 78.8L498.1 77.6L497.3 76L497.2 74.6L499.4 74.4L500.3 72.5L501 71.1L501.3 68.9L501.9 67.4L499.7 67.5L497.2 68.3L494.9 67.4L492.7 68L490.6 67.1L489.9 65.2L489.2 64L489.3 63.1L490.8 62.8L492.7 62.7L492.9 61.8L495.9 61.7L498.4 60.8L500.3 60.8L502.9 61.8L506 62.1L508.6 61.3L508.6 60.2L506.3 58.9L504.1 57.6L502.9 56.7L504.8 55.7L505.7 54.3L503.5 54.5L500.6 55.4L501.3 56.6L500.3 57.3L498.6 57.8L497.3 56.5L498.4 55.7L496.3 55L494.9 55.2L493.6 56.6L492.4 58L491.5 59.3L491.1 60.2L491.6 61.3L492.6 61.9L490.8 62.1L489.2 63.2L488.9 62.3L487 62.2L485.1 62.7L486.4 63.3L484.9 64L485.5 65L486.4 65.9L486 66L485.4 66.6L485.1 67.8L484.4 67.8L483.5 67.4L482.9 66.1L482.6 64.7L481.3 63.7L480.6 62.7L480.7 61.2L479.4 60.2L476.8 58.9L475 57.6L474.1 56.7L473.2 57.1L473.4 56.1L471.6 56.6L471.7 58L473.1 58.8L474 60.3L476.3 60.9L476.3 61.6L477.5 62.1L479.4 63.2L478.7 63.5L477.7 62.7L477 63.6L477.8 64.6L476.9 65.4L475.9 66L476.1 65L476.4 64.5L475.8 63.3L474 62.3L472.5 61.8L471.5 61.1L469.9 60.2L469.3 59.5L469 58.8L467.3 57.8L465.2 58.6L462.7 59.2L461.1 58.9L459.9 59.5L460.1 60.8L458.8 61.6L457 62.1L456 63.6L455.6 64.1L456.3 65L455.4 65.5L455 66.4L453.6 67.3L452.8 67.5L450.4 67.5L449.2 68.3L448 67.8L447.1 66.9ZM257.8 23.7L263.5 24.3L268.5 25L274.9 25.3L277.4 25.8L282.5 26.6L286.3 26L291.3 25.3L293.9 24.7L297.7 26L302.7 25.6L307.8 26.6L310.3 28.1L316.7 28L319.2 29.1L319.2 27.6L323 27.2L326.8 28.1L331.9 28.1L334.4 27.6L335 26.6L333.8 24.1L336.3 22.8L339.5 24.1L339.5 26L342 27L344.5 27.9L347.1 26L348.3 25.6L352.1 25.6L352.8 27.2L352.1 28.5L349.6 30L346.4 30L345.2 32.3L342 33.2L338.8 34.8L336.9 36.7L336 39.3L336.9 39.6L338.8 41.8L342 41.8L345.2 43.1L348.3 44L351.8 44.3L352.1 46.9L353.4 48.1L354 49L355.9 48.8L356.2 46.9L355.9 45L358.5 43.1L359.1 41.2L357.2 39.6L357.8 38L357.2 35.1L361 35.1L363.5 35.7L365.4 36.5L367.3 36.7L368 39.3L369.9 39.9L372.4 39.3L373.7 37.6L374.3 37.6L376.8 39.9L378.1 42.4L380 43.7L382.5 44.6L383.8 46L385.3 47.5L384.4 48.8L381.9 49.1L380 50.3L376.2 50.3L371.8 50.4L369.2 51.9L367.3 53.8L366.1 54.6L369.9 52.6L373.7 51.7L374.6 52.3L373.7 53.2L373.7 54.5L374.9 55.5L378.1 56.1L378.7 56.6L375.6 57.5L373 58.8L372.1 58L374.3 56.6L371.1 57L371.1 57.6L368.6 58.3L367.1 58.8L366.3 60.2L367.3 61.2L365.4 61.6L362.5 62.3L362.3 62.7L362 64L361 64.9L360.4 66.1L359.7 67.1L360.1 69L360.4 69.4L358.8 70L357.2 71.1L355.6 72.2L353.4 73.5L352.9 75.4L353.4 77.3L354 78.5L354.7 80.1L354.4 81.7L353.4 82.1L352.4 80.7L351.2 78.8L351.1 77.3L349.6 76L347.7 76.3L345.8 75.5L343.3 75.6L342.9 77L341.4 77L339.5 76.5L336.9 76.5L335.7 77.3L333.1 78.5L332.6 81.1L332.2 83.6L332.1 85.8L332.9 88L334.4 89.7L336.3 90.9L338.8 90.4L340.7 90.2L341.4 88.7L341.6 87.4L344.5 86.6L345.8 86.9L345.2 89.3L344.5 91.2L344.2 93.1L343.9 94L347.1 94L349.6 94L350.6 95L350.2 97.5L350 100.1L350.9 101.3L352.1 102.6L354 102.6L355.3 102L357.2 102.3L358.1 103.2L357.3 104.8L356.7 103.5L355.3 102.7L354 104.8L352.5 103.9L350.9 103.5L350 103L348.3 101.6L347.3 100.3L345.8 98.2L344.9 97.3L342.6 97L340.1 96.3L338.2 94.6L336.3 93.5L333.8 94.1L329.6 92.7L326.8 91.2L324.3 89.9L322.4 88.4L322.6 87.4L321.2 84.6L319.2 82.3L317.4 80.4L316 79.2L315.4 78.5L313.5 76.6L312.6 74.7L310.7 73.8L311 76L312.9 77.9L314.1 79.8L315.4 81.7L316.7 83.6L317.3 84.9L316.3 84.5L314.1 82.6L313.5 80.8L311.6 79.5L310.3 78.5L311.3 77.9L309.1 75.4L307.8 72.8L305.9 70.9L303.2 70.2L301.7 67.8L300.8 66.1L299.2 64L298.6 62.8L298.7 60.8L298.8 58.3L298.9 55.5L298.2 52.8L300.8 53.8L300.2 51.9L298.3 50.7L295.1 49.4L293.9 47.5L291.3 45L289.4 43.7L287.5 41.8L285 39.9L283.1 40.2L281.2 39.3L278.9 38.4L276.1 38L273.6 37.9L271.1 37.1L268.5 37.4L266.6 38.4L264.1 38.9L264.7 36.7L262.8 38L261.6 39.3L259.7 40.5L257.1 42.1L254.6 43.3L251.4 44.1L248.9 44.6L247.3 44.8L249.5 44L252.1 43.1L254.6 41.2L256.5 39.6L255.2 39.5L252.7 39.6L250.8 39.3L250.8 38L248.3 38L246.4 36.7L245.7 35.5L247 34.2L249.5 33.9L252.1 33.3L252.1 32.3L249.5 32.3L247 32.3L245.1 31.7L243.2 30.9L245.1 30.1L248.3 29.8L250.8 30.1L250.8 29.1L248.3 28.2L245.1 27.4L248.3 26.6L250.2 25.3L254 24.3ZM358.1 103.2L358.7 103.9L360.4 100.7L361.3 100.1L362 99.7L365.2 98.3L365.7 99.1L365.3 100.3L367.3 98.8L369.2 99.7L369.9 100.7L371.8 100.6L374.3 101.1L377.5 100.4L377.7 101.6L379 103.2L381.3 104.1L382.5 105.4L383.8 106.4L386.3 106.4L388.2 106.9L390.1 107.9L391.4 108.9L392.7 111.5L392.7 114L394.6 114.9L396.5 114.9L399 115.9L399.9 117.3L402.8 117.5L405.3 117.5L407.2 118.7L409.1 120.1L411.4 121L411.8 124.1L411 126L409.1 127.9L407.2 130.5L406.6 133L406.3 136.2L405.6 138.7L405 139.7L404.1 141.9L402.8 143.1L401.3 143.1L399 143.9L397.4 144.4L395.2 146L394.4 147.6L394.4 149.5L392.7 151.4L390.8 153.5L389.9 154.8L388.2 157.1L386.3 158.2L384.8 158.2L382.5 157.1L382 157.8L383.5 159.6L383.2 162.1L381.3 163L378.7 163.4L377.2 163.3L377.1 165.3L375.2 166.1L373.7 165.9L373.7 167.5L375.3 168L373.7 168.7L373.3 171L371.1 172L370.5 172.9L372.4 174.2L372.7 174.8L370.5 176.7L368.9 178L368.6 179.5L369.4 180.2L369.2 181.1L370.5 182.4L373.4 183.3L371.8 183.8L369.2 184L367.3 183.9L365.4 182.7L363.5 181.5L361.6 180.2L360.7 178L360.4 175.4L360.4 173.3L361.6 171.6L362.3 169.7L362.5 167.2L362.9 164.7L362.9 162.1L363.3 160.9L364.2 159L365.2 155.8L365.4 153.3L365.6 151.4L366.1 148.8L366.7 145.7L366.8 143.8L367.1 140.6L367 137.4L365.4 135.9L363.5 134.9L361 133.4L359.5 131.7L358.2 129.2L356.9 126.7L355.9 124.4L354.9 122.9L353.4 121.6L353 120L354.3 118.3L354.7 117.2L353.4 116.8L354 115.3L354.7 114L354.7 113L356.2 112.1L356.6 110.8L358.1 109.2L357.8 107L358 105.1L357.3 104.8ZM180.5 127.6L181.8 129.8L182.1 132.1L184 133L184.7 135.5L185.3 137.8L186.2 138.4L188.5 139.7L189.1 140.9L191 142.9L191.3 143.8L193.5 145.7L194.1 147.6L194.2 148.8L194.6 150.4L193.8 153.3L193.2 155.2L191.6 156.9L190.6 159L190 161.1L187.5 162L185.4 163.5L183.5 162.1L181.8 163.1L179.2 162.6L177.3 161.5L177 159.6L175.4 158.3L174.8 155.8L174.5 155.3L173.5 157.1L172.3 158.1L172 158.1L170.4 155.8L169.7 155.2L169.1 154.5L165.9 153.9L163.4 154.2L159.6 154.8L157.1 155.8L156.4 156.9L154.5 156.9L151.4 157.6L149.5 158.3L146.9 158.2L145.8 157.4L146.6 156.2L146.6 154.5L145.9 152.6L145.2 150.4L144.4 148.2L143.8 146.9L143.6 145L144.1 142.5L144.7 141.6L146.9 140.3L148.2 140.1L150.2 139.7L153.3 138.8L154.8 136.8L156.4 135.5L156.6 134.5L158.3 133L159.6 131.7L160.9 131.7L162.1 133L162.8 132.7L164.2 132.9L164 131.7L165.7 129.7L167.2 129.2L168 128.3L171 129.3L173.3 129.5L172.3 131.1L171.6 133L173.5 134.1L176.1 135.5L178 136.3L178.5 136L179.2 133.6L179.5 131.1L179.6 129.8L179.9 127.9ZM183.3 165.6L185.6 166.1L187.8 165.8L187.8 167.5L187.3 168.7L185.9 169.2L184.4 168.3L183.9 167.5ZM218.8 157.6L220.8 158.7L222.3 160.2L222.9 161.6L225.5 161.6L226.1 161.8L225.3 163.4L224.2 163.9L224.1 164.9L222.9 166.2L221.9 166.7L221.4 166.3L221.7 165.3L221.4 164.4L220.1 163.8L221.2 163.1L221.4 162.1L221.2 160.9L220.7 160.1L219.1 158.6ZM218.8 165.3L220.4 166.2L220.8 166.9L219.1 168.5L218.9 169.5L217 170.1L216.2 172L214.7 172.9L213.2 173L211.2 172.4L210.9 171.6L212.8 170.1L214.7 169.1L216.6 167.8L217.2 166.8L218 165.7ZM363.5 14.9L369.9 12.7L373.7 11.1L380 10.1L392.7 9.5L405.3 8.4L418 8.1L428.1 9.5L433.2 10.8L440.8 10.8L435.7 12.7L433.2 13.9L432.6 15.8L431.3 17.7L431.3 19L429.4 20.9L428.1 22.8L428.1 24.7L425.6 25.1L423.1 27.2L418 27.7L414.2 29.1L410.4 30.7L406 31L404.7 32.3L403.4 34.2L402.2 36.1L400.3 38.1L397.7 37.2L395.2 36.7L392.7 34.8L390.8 32.9L389.5 31L388.2 29.1L388.9 27.2L390.1 26L387 25.3L387 23.4L385.7 21.5L383.2 19.3L380 17.7L374.9 17.5L369.2 17.7L366.1 16.5ZM425.2 31L427.5 29.9L430.7 30.4L433.2 30L435.7 29.8L437.6 30.4L438.8 31.7L437 32.6L433.2 33.6L430 33.4L427.5 33.1L428.1 32.2L425.6 31.8ZM-7 50.5L-4.4 50.3L-1.3 49.8L1.6 49.1L0.9 48.6L2.2 47.4L0.4 46.9L0 46L-1.5 44.8L-2 43.7L-2.8 43.1L-3.8 42.7L-2.5 41L-4.4 40.9L-5.1 40.8L-3.8 39.8L-6.3 39.8L-7.3 41L-7.1 42.4L-7 43.7L-6.1 44.5L-4.2 44.5L-3.8 45.6L-3.8 46.4L-5.6 46.5L-5.8 47.1L-5.1 47.6L-6.6 48.4L-4.4 48.8L-3.8 49.1L-5.7 49.4ZM449 50.5L451.6 50.3L454.7 49.8L457.6 49.1L456.9 48.6L458.2 47.4L456.4 46.9L456 46L454.5 44.8L454 43.7L453.2 43.1L452.2 42.7L453.5 41L451.6 40.9L450.9 40.8L452.2 39.8L449.7 39.8L448.7 41L448.9 42.4L449 43.7L449.9 44.5L451.8 44.5L452.2 45.6L452.2 46.4L450.4 46.5L450.2 47.1L450.9 47.6L449.4 48.4L451.6 48.8L452.2 49.1L450.3 49.4ZM448.4 47.9L448.1 46.5L448.9 45.1L448 44.1L445.9 44.1L445.2 45L443.3 45.3L444 46.5L443 48.1L443.7 48.8L445.9 48.4ZM165.8 70.9L167.2 69.9L168.5 69L171.6 68.9L173.2 67.4L173.9 66.5L175.4 66.6L176.7 65.2L177.3 63.3L177.7 61.8L179.1 61.6L179.5 63.3L179.9 64L178.6 65.6L178.6 67.1L178.2 68.7L177.3 69.4L177 69.3L175.8 70L173.8 70.2L173.3 70.6L172 71.6L171.3 70.6L170.4 70L168.5 70.6L167.6 71.1L166.9 71.6L167.1 72.5L166.4 74.1L165.6 74.6L164.9 73.5L164.4 72.6L164.2 71.8L165.2 71.2ZM177.6 61.4L178.6 60.2L177.8 59.2L179.4 57.6L179.6 56.5L181.1 57.6L183 58.3L184 57.9L184.3 59.2L182.4 59.7L181.5 60.8L179.6 60.2L178.5 61.1ZM179.9 55.7L181.8 54.7L180.9 53.8L181.1 51.9L183 51.7L181.5 50L181.5 47.5L180.9 45.2L179.9 46.2L179.6 48.8L180 51.3L179.9 53.8ZM120.7 106.9L123.5 107.4L126.7 110.5L131.1 114L132.4 116.5L134.3 118.1L134 121.3L132.4 121.2L129.6 119.1L127.2 115.3L125.1 111.8L122.9 109.8ZM133.3 122.6L134.9 121.6L137.4 122.4L140.3 122.1L142.8 122.9L145 123.9L144.9 124.9L140.6 124.5L136.8 123.9L134.8 123.4ZM138.1 112.1L139 111.5L141 110.8L143.1 109.9L144.4 108.3L146.3 107L147.9 105.1L149.1 106L150.7 107.4L149.5 108.7L149.2 110.8L150.5 112.7L148.8 114L148.8 115.3L147.6 117.2L146.9 118.7L145.2 119.1L143.1 118.2L141.6 118.3L139.6 117.7L139.3 115.9L138.1 114.4ZM151.7 113.1L153 112.4L155.8 112.7L158.6 112L157.7 113.5L154.5 113.4L152.3 113.6L152.6 115.3L154.3 115.1L156.2 115.1L154.5 116.3L153.9 116.5L155.2 118.4L155.8 119.7L155.2 120.8L154 120L153.3 117.8L152.5 118.4L152.5 121L151.4 121L151.4 118.4L150.5 117.4L151.6 114.4ZM165.9 115L167.8 114.5L169.7 115L171 118.2L174.5 115.9L178.6 117.3L183 118.8L184.7 120.7L186.8 121.6L187.2 122.9L188.1 125.1L190.6 127L190 127.6L186.5 126L184.9 124.1L183 123.8L181.8 125.1L180.5 125.7L178.6 125.5L176.7 124.1L174.8 124.5L175.8 122.9L174.8 121L171.6 119.6L169.1 118.8L168.2 119.1L168.2 117.5L169.7 116.9L168.5 116.8L167.2 116.8ZM187.8 121.1L190 120.6L191.9 119.4L192.9 119.7L192.5 121L190.6 121.9L188.7 121.9ZM152.6 90.6L154.8 90.6L154.9 93.1L153.9 95L154.5 96.3L157.1 96.5L157.2 98L155.8 97L154.3 96.5L152.9 96.5L152.8 95.6L152 95L151.9 93.4L152.5 92.5ZM154.5 105.1L156.4 103.1L159 101.7L160.2 104.5L159.6 106.1L159 106.7L157.3 106.1L157.1 104.9ZM154.5 99.1L156.1 99.4L157.1 100.1L159 99.7L159 101.1L157.1 101.3L155.8 102.2L155.2 100.7ZM148.5 103.2L150.1 101.6L151.5 99.7L151.1 101.1L149.5 102.9ZM153.3 82.1L154.4 82.3L153.9 84.2L153 86.1L152.1 84.9L152.4 83.6ZM138.1 88.7L140.3 88.7L139.8 90.6L138.1 90.8L137.6 89.7ZM101.3 101.6L103 103.2L103.6 104.8L102.9 106.1L101.7 106.4L101 104.5L101.1 103.2ZM62.4 129.2L63.6 131.7L63.8 133.6L63 135.5L62.3 138.1L61.1 141.9L59.9 145L57.6 146.3L55.7 145.7L54.8 142.5L55.7 140L56.1 138.1L55.7 135.5L57 134.3L58.9 133.6L60.5 132.4L61.4 130.7ZM348.3 86.3L350.9 84.9L353.4 84.6L357.2 85.6L359.7 87.1L362 88.4L360.4 88.8L357.6 88.9L358.2 87.9L356.6 86.8L354 86.1L352.1 85.6L350.2 85.9ZM361.8 90.7L363.5 88.8L365.2 88.8L367.3 89L369.4 90.4L368.6 90.7L366.7 90.9L365.4 91.6L363.5 90.9ZM356.8 90.7L359.4 90.9L359.4 91.3L356.9 91.2ZM370.9 90.6L372.8 90.7L372.7 91.2L370.9 91.2ZM378.1 29.5L374.9 31.7L373.7 33.6L372.4 34.5L369.9 34.8L366.1 34.5L362.3 32.6L357.8 32.6L357.2 31L362.9 29.8L364.2 28.5L359.7 27.2L355.9 25.3L348.3 25.3L344.5 24.1L342 22.2L343.3 20.5L348.3 20.5L353.4 20.6L358.5 21.5L362.3 23.1L366.1 24.1L369.9 25.3L371.1 27.2L375.6 28.5ZM307.8 23.4L310.3 21.5L316.7 21.5L323 21.2L326.8 23.4L328.1 25.3L325.5 26.9L320.5 26.9L312.9 27.2L309.1 26.2L307.2 25ZM297.7 22.8L300.2 20.3L306.5 20L309.1 21.5L305.3 23.4L300.2 23.8ZM342 17.1L344.5 15.2L342 12.7L347.1 10.8L357.2 8.9L369.9 8.9L377.5 9.9L372.4 11.4L364.8 13.3L359.7 14.6L355.9 16.5L350.9 17.4ZM339.5 17.1L344.5 18.4L354.7 19.4L354.7 18L349.6 17.4ZM307.8 19L316.7 19.6L321.7 18.4L316.7 17.1L309.1 17.4ZM334.4 14.6L339.5 13.9L342 12L336.9 11.7L333.1 12.9ZM334.4 22.2L338.2 21.8L339.5 20.3L335.7 20.1ZM326.8 22.8L331.9 23.4L333.1 21.5L329.3 20.5L326.8 21.5ZM345.8 31L349.6 31L353.4 32.9L350.9 34.2L347.7 33.8L345.8 32.9ZM380.9 53.6L383.2 50L385.7 48.6L385.3 50.7L388.2 51.6L389.2 53.8L388.2 54.8L385.7 54.5L385.1 53.6ZM293.5 49.8L297.7 50.7L299.6 52.6L297.7 52.3L294.5 50.7ZM13.9 13.3L20.3 12.7L27.9 12.3L34.2 12.7L26.6 14.6L22.8 16.5L19 16.5L15.2 14.8ZM65.2 23.4L68.4 20.9L71.6 19L78.5 17.4L86.8 16.5L83.6 18L76 19L72.2 21.5L70.9 24.1L67.8 24.4ZM121.6 13.9L126.7 11.4L133 13.3L126.7 14.8ZM173.5 18.4L179.9 17.7L188.7 18.6L182.4 19.3ZM226.1 24.1L229.3 23.4L231.2 23.8L228 24.3ZM15.8 65.9L19.6 65.6L19.3 67.4L16.5 66.8ZM10.5 62.2L12.3 62.1L12.2 64.3L10.8 64.6ZM11 60L12 59.8L11.8 61.4L11 61.1ZM29.8 69L33.2 69.3L33.2 69.7L29.8 69.4ZM40.9 69.7L43.7 68.9L42.8 70L41.2 70ZM184.9 57.6L188.1 56.4L190.6 55.4L188.1 56.7ZM302.7 17.7L306.5 16.1L309.7 17L306.5 18ZM323 16.2L328.1 15.2L330.6 16.1L326.8 17ZM324.3 18.6L329.3 17.1L333.1 17.7L330.6 19L326.8 19.1ZM333.8 18.7L336.9 18.4L337.6 19.3L334.4 19.4ZM330 26.6L333.1 25.6L335 26.6L332.5 27.2ZM354.7 20.9L358.5 20.5L359.7 21.5L356.6 21.8ZM358.5 27.9L361 27.6L361.6 28.8L359.1 28.9ZM350.9 34.2L354 34.5L354.7 35.5L351.5 35.2ZM354 35.1L355.7 35.1L355.6 36.1L354.3 36ZM374.3 50.8L377.5 51.4L377.7 51.8L374.7 51.3ZM287.8 45.6L289.4 45.6L290.1 47.9L288.5 47.1ZM260.3 40.7L263.1 40.5L262.8 41.8L260.3 41.9ZM238.8 33.3L241.9 33.7L242.2 34.2L238.4 33.8ZM56.4 11.7L65.9 11.4L76 10.8L81.1 11.7L73.5 12.7L63.3 12.7ZM357.2 80.1L358.2 80.4L358.1 81.2L356.9 80.6ZM378.1 100.3L378.9 100.3L378.7 101.2L377.7 101.2ZM380 179L382.8 179.1L381.9 180.1L379 179.9ZM407.6 182.4L410.4 182.8L410.1 183.4L408.1 182.8ZM87 175.7L89.3 176.1L88.9 177L87.1 176.7ZM210.3 140.6L212.2 142.2L211.5 142.4L208.1 139.7ZM224.6 136L226.2 136.2L226.1 137.1L224.6 136.8ZM258.4 88.4L259.7 88.9L258.9 89.9L258.4 89.2ZM196 121L197.3 122.2L197 122.7L195.8 121.6ZM202.4 125.8L203.7 126.4L203 126.5L202.2 125.9ZM161.6 118.2L165.7 117.9L165.3 118.6L162.1 118.7ZM161.5 112.7L162.4 111.5L163 112.7L162.1 114.9L161.6 114ZM157.1 125.8L160.2 124.6L160.9 124.9L158.3 126.4L156.6 127ZM147.9 124.6L150.7 124.5L155.5 124.5L155.5 125.1L150.7 125.1L147.9 125.3ZM434.7 78L435.5 77.9L435.1 78.5L434.6 78.3ZM70 140.5L70.7 140.6L70.4 141.1L69.9 140.7ZM72.6 139.3L73.2 139.5L73 140L72.6 139.8ZM340.1 114.5L340.9 114.4L341 115.3L340.1 115.3ZM3.8 63.5L4.3 63.7L3.8 64.2L3 63.8ZM59.5 57L62.1 55.1L65.2 54.7L67.1 55.4L66.5 57L64.6 57.6L64 58.9L66.5 60.2L67.8 62.1L67.8 64L68.4 65.9L67.8 67.1L65.2 67.5L62.7 66.8L61.8 65.2L62.7 63L61.4 61.1L60.2 59.5ZM74.1 55.1L77.3 55.1L77.9 57L75.4 58.5L74.1 57.3ZM131.7 48.5L134.3 47.5L137.4 45.6L139.1 43.4L138.1 43.4L135.5 46.2L133 48.1ZM339.5 54.8L343.3 53.5L347.1 53.5L349 55.1L346.4 55.4L343.3 55.1ZM344.8 60.8L344.8 57.6L347.1 56L348.3 56.1L346.7 58.3L346.4 60.8ZM349 56L351.5 55.7L353.4 57L352.1 59.3L350.2 58.5L350.5 57ZM350.5 61.1L353.4 60.2L355.9 59.8L355.9 60.2L352.8 61.4ZM355 59.2L358.5 58.5L359.4 58.9L358.5 59.3ZM40.5 113.6L42.4 113.5L43.4 115L42.4 117.2L40.5 116.9L40.2 115.3ZM37.1 118.4L37.9 118.4L39.1 122.2L39.3 124.8L38.5 124.8L37.7 122.2ZM43.1 126.2L43.7 126.2L44.3 129.2L44.5 132L43.8 132L43.4 129.2ZM0 202L12.7 202.7L25.3 202.7L38 201.4L50.7 200.8L63.3 198.9L69.7 197.6L76 199.2L88.7 200.1L95 202L101.3 199.5L114 198.2L126.7 197.6L139.3 197.6L152 198.6L164.7 198L177.3 198.5L190 200.5L202.7 202.7L209 203.9L215.3 205.2L211.5 209L206.5 212.2L202.7 214.1L209 217.9L225.5 220.4L247 221.7L269.8 221.7L259.7 217.9L247 214.1L259.7 211.5L272.3 209.6L285 208.4L297.7 207.7L310.3 208.4L323 207.1L329.3 205.8L342 206.5L354.7 206.7L361 205.2L367.3 202.7L371.1 200.1L373.7 197.6L377.5 195.4L382.5 194.2L385.1 195.7L378.7 198.2L376.2 200.8L377.5 203.9L377.5 207.1L373.7 209L369.9 211.5L377.5 214.1L392.7 214.7L405.3 214.1L415.5 212.8L424.3 210.9L426.9 208.4L433.2 206.5L439.5 205.2L443.3 203.9L449.7 202.7L456 202"/></defs><g transform="translate(6,53)"><g clip-path="url(#mapc)" shape-rendering="crispEdges"><rect x="0" y="0" width="456" height="228" fill="#DEB887"/><path d="M190 -1.3L191.3 2.5L184.9 7.6L200.1 10.8L215.3 13.3L234.3 15.5L262.2 15.8L285 14.6L304 10.1L331.9 7L367.3 3.2L390.1 -1.3Z" fill="#F5E6BE"/><path d="M0 10.1L60.8 11L86.1 11.4L110.2 13.4L126.7 15.2L152 18.6L177.3 21.3L202.7 22.8L228 23.3L259.7 24.3L285 23.4L304 20.8L312.9 12.7L342 10.8L380 7.6L418 7.6L428.1 11.4L437 16.5L445.9 17.7L450.9 13.9L456 10.1L456 229.3L0 229.3Z" fill="#FFE100"/><path d="M0 12.7L60.8 12.9L86.1 13.6L110.2 15.5L126.7 17.4L152 20.5L177.3 22.8L202.7 24.2L228 25L259.7 25.7L285 24.8L304 22.4L312.9 13.9L342 12L380 8.9L418 10.1L428.1 15.2L437 20.3L445.9 21.5L450.9 17.7L456 12.7L456 229.3L0 229.3Z" fill="#FFA500"/><path d="M0 13.9L60.8 14.2L86.1 14.9L110.2 16.8L126.7 18.7L152 21.8L177.3 23.8L202.7 25.3L228 26.1L259.7 26.9L285 26L304 23.6L312.9 15.2L342 13.3L380 10.1L418 12.7L428.1 18.4L437 23.4L445.9 24.7L450.9 20.9L456 13.9L456 229.3L0 229.3Z" fill="#FF4500"/><path d="M0 24.4L38 24.1L76 22.8L152 27.9L190 34.2L228 34.8L253.3 35.5L304 35.5L354.7 32.9L373.7 35.5L386.3 36.7L402.8 32.9L411.7 27.9L424.3 25.3L437 27.9L445.9 26.6L456 24.4L456 229.3L0 229.3Z" fill="#B22222"/><path d="M298.9 22.8C300 21.4 305.3 19.3 310.3 17.7C315.4 16.2 321.9 14.1 329.3 13.3C336.7 12.5 347.9 12.3 354.7 12.7C361.4 13 365.6 13.9 369.9 15.2C374.1 16.5 377.5 18.2 380 20.3C382.5 22.4 384.6 25.5 385.1 27.9C385.5 30.2 384.2 32.7 382.5 34.2C380.8 35.7 378.5 36.7 374.9 36.7C371.3 36.7 365.4 35 361 34.2C356.6 33.4 353.2 32.5 348.3 31.7C343.5 30.8 337.1 29.9 331.9 29.1C326.6 28.4 321.3 27.8 316.7 27.2C312 26.7 307 26.7 304 26C301 25.2 297.9 24.2 298.9 22.8Z" fill="#FFA500"/><path d="M304 21.5C304.8 20.2 311.4 17.7 316.7 16.5C321.9 15.2 328.9 14.2 335.7 13.9C342.4 13.6 351.5 13.9 357.2 14.6C362.9 15.2 366.5 16.4 369.9 17.7C373.2 19.1 376 21 377.5 22.8C378.9 24.6 379.6 27.2 378.7 28.5C377.9 29.8 375.4 30.5 372.4 30.4C369.4 30.3 365.6 28.3 361 27.9C356.4 27.4 350.2 28.2 344.5 27.9C338.8 27.6 332.3 26.5 326.8 26C321.3 25.4 315.4 25.4 311.6 24.7C307.8 24 303.2 22.9 304 21.5Z" fill="#FFE100"/><path d="M0 52.6L70.9 54.5L71.1 97.5L100.1 97.5L100.2 85.5L125.4 85.5L125.5 54.5L164.7 53.2L181.1 50.2L297.7 50.2L380 50.2L418 51.3L456 52.6L456 229.3L0 229.3Z" fill="#FFB6C1"/><path d="M0 82.3L40.5 82.3L41.8 97.5L125.4 97.5L152 97.9L181.1 96.6L228 94.2L291.3 94.2L319.2 95.5L331.9 92.5L335.7 90.6L380 87.4L435.7 82L456 82.3L456 229.3L0 229.3Z" fill="#B22222"/><path d="M0 108.9L15.2 110.2L25.3 114L152 114.6L171 115.9L190 115.9L209 114L456 114L456 229.3L0 229.3Z" fill="#FF4500"/><path d="M0 125L456 125L456 229.3L0 229.3Z" fill="#FFA500"/><path d="M0 135.5L456 135.5L456 229.3L0 229.3Z" fill="#FFE100"/><path d="M0 145.3L456 145.3L456 229.3L0 229.3Z" fill="#DEB887"/><path d="M0 154.4L456 154.4L456 229.3L0 229.3Z" fill="#F5E6BE"/><path d="M0 159.2L456 159.2L456 229.3L0 229.3Z" fill="#9AB932"/><path d="M0 164.2L456 164.2L456 229.3L0 229.3Z" fill="#C0F064"/><path d="M0 169.7L456 169.7L456 229.3L0 229.3Z" fill="#20B2AA"/><path d="M0 174.7L456 174.7L456 229.3L0 229.3Z" fill="#B0E0E6"/><path d="M0 180.1L76 181.8L152 183.7L228 181.8L304 181.1L380 180.6L456 180.1L456 229.3L0 229.3Z" fill="#7896F0"/><path d="M0 183.7L76 186.8L152 190L228 187.5L304 187L380 184.9L456 183.7L456 229.3L0 229.3Z" fill="#4169E1"/><path d="M0 188.7L76 191.3L152 193.5L228 193L304 193.5L380 191.3L456 188.7L456 229.3L0 229.3Z" fill="#0000CD"/><g clip-path="url(#landc)"><rect x="0" y="0" width="456" height="228" fill="#DEB887"/><path d="M190 -1.3L191.3 2.5L184.9 7.6L200.1 10.8L215.3 13.3L234.3 15.5L262.2 15.8L285 14.6L304 10.1L331.9 7L367.3 3.2L390.1 -1.3Z" fill="#F5E6BE"/><path d="M0 10.1L60.8 11L86.1 11.4L110.2 13.4L126.7 15.2L152 18.6L177.3 21.3L202.7 22.8L228 23.3L259.7 24.3L285 23.4L304 20.8L312.9 12.7L342 10.8L380 7.6L418 7.6L428.1 11.4L437 16.5L445.9 17.7L450.9 13.9L456 10.1L456 229.3L0 229.3Z" fill="#FFE100"/><path d="M0 12.7L60.8 12.9L86.1 13.6L110.2 15.5L126.7 17.4L152 20.5L177.3 22.8L202.7 24.2L228 25L259.7 25.7L285 24.8L304 22.4L312.9 13.9L342 12L380 8.9L418 10.1L428.1 15.2L437 20.3L445.9 21.5L450.9 17.7L456 12.7L456 229.3L0 229.3Z" fill="#FFA500"/><path d="M0 13.9L60.8 14.2L86.1 14.9L110.2 16.8L126.7 18.7L152 21.8L177.3 23.8L202.7 25.3L228 26.1L259.7 26.9L285 26L304 23.6L312.9 15.2L342 13.3L380 10.1L418 12.7L428.1 18.4L437 23.4L445.9 24.7L450.9 20.9L456 13.9L456 229.3L0 229.3Z" fill="#FF4500"/><path d="M0 40.5L5.1 40.5L6.3 45.6L38 43.1L39.3 32.9L57 34.2L63.3 36.1L95 36.7L120.3 35.5L126.7 32.9L152 32.9L171 35.5L177.3 41.8L209 50.7L240.7 50.7L247 38L272.3 38L285 39.9L297.7 41.8L316.7 41.2L331.9 40.5L336.9 43.7L344.5 46.9L361 48.1L380 48.1L381.3 40.5L430.7 40.5L456 40.5L456 229.3L0 229.3Z" fill="#B22222"/><path d="M7.6 36.1C7.8 35.4 9.9 35.1 11.4 34.2C12.9 33.2 14.8 31.6 16.5 30.4C18.2 29.2 19.8 27.9 21.5 27.2C23.2 26.5 25.1 26.1 26.6 26.2C28.1 26.3 30.6 27.2 30.4 27.9C30.2 28.6 27 29.4 25.3 30.4C23.6 31.3 21.5 32.5 20.3 33.6C19 34.6 18.8 35.9 17.7 36.7C16.7 37.6 15.2 38.3 13.9 38.6C12.7 39 11.2 39.1 10.1 38.6C9.1 38.2 7.4 36.8 7.6 36.1Z" fill="#FFA500"/><path d="M108.9 20.3C110 19.3 116.5 17.9 120.3 17.1C124.1 16.3 127.9 15.3 131.7 15.5C135.5 15.6 141.4 16.8 143.1 17.7C144.8 18.6 144.6 20.2 141.9 20.9C139.1 21.6 131.3 21.9 126.7 22.2C122 22.5 117 23.1 114 22.8C111 22.5 107.9 21.2 108.9 20.3Z" fill="#FFA500"/><path d="M114 19C114.2 18.6 119.9 17.4 122.9 16.8C125.8 16.3 129 15.6 131.7 15.7C134.5 15.8 139.3 16.8 139.3 17.4C139.3 17.9 134.7 18.4 131.7 18.7C128.8 19.1 124.6 19.5 121.6 19.5C118.6 19.5 113.8 19.4 114 19Z" fill="#FFE100"/><path d="M65.9 23.4C65.7 22.8 68 21.2 69.7 20.3C71.4 19.3 73.3 18.4 76 17.7C78.7 17.1 84.9 16.4 86.1 16.5C87.4 16.6 85.5 17.6 83.6 18.2C81.7 18.9 76.8 19.3 74.7 20.3C72.6 21.2 72.4 23.5 70.9 24.1C69.5 24.6 66.1 24.1 65.9 23.4Z" fill="#FFA500"/><path d="M177.3 24.1C179.4 23.9 184.7 24.3 190 24.7C195.3 25.1 202.7 26.1 209 26.6C215.3 27.1 223.1 27.3 228 27.9C232.9 28.4 238.1 29.3 238.1 29.8C238.1 30.2 232.9 30.6 228 30.4C223.1 30.2 215.3 29.1 209 28.5C202.7 27.9 195.3 27 190 26.6C184.7 26.2 179.4 26.4 177.3 26C175.2 25.5 175.2 24.3 177.3 24.1Z" fill="#FFA500"/><path d="M158.3 27.9C159.8 27.2 164.9 26.8 167.2 27.2C169.5 27.7 172.7 29.6 172.3 30.4C171.8 31.2 167 32.2 164.7 32.3C162.3 32.4 159.4 31.8 158.3 31C157.3 30.3 156.9 28.5 158.3 27.9Z" fill="#FFA500"/><path d="M198.9 43.1C199.5 41.8 201.4 40.6 202.7 39.9C203.9 39.2 206.3 38.1 206.5 38.6C206.7 39.2 204.8 41.8 203.9 43.1C203.1 44.3 202.2 45.5 201.4 46.2C200.6 47 199.3 48 198.9 47.5C198.4 47 198.2 44.3 198.9 43.1Z" fill="#FFA500"/><path d="M59.5 54.5C60 53.3 64.2 50.5 65.9 50C67.5 49.5 73.7 49.3 76 49.4C78.3 49.5 86.1 50.7 88.7 50.7C91.2 50.6 98.5 49 101.3 48.8C104.1 48.6 113.5 48.7 116.5 48.8C119.6 48.8 128.9 49.1 131.7 49.4C134.5 49.7 142.6 51.2 144.4 51.9C146.2 52.7 149.5 56 149.5 57C149.5 58 145.9 61.3 144.4 62.1C142.9 62.8 136 64 134.3 64.6C132.5 65.2 127.7 67.3 126.7 68.4C125.7 69.5 124.9 74.9 124.1 76C123.4 77.1 120.6 78.8 119.1 79.2C117.5 79.5 110.7 79.4 108.9 79.2C107.2 78.9 102.6 77.3 101.3 76.6C100.1 75.9 97.5 72.4 96.3 72.2C95 72 89.9 74 88.7 74.7C87.4 75.5 84.9 79.4 83.6 79.8C82.3 80.2 77.3 79.3 76 78.5C74.7 77.8 71.9 73.3 70.9 72.2C69.9 71.1 66.9 68.1 65.9 67.1C64.9 66.1 61.4 63.3 60.8 62.1C60.2 60.8 59 55.7 59.5 54.5Z" fill="#FF4500"/><path d="M78.5 55.1C79 54 84 53.4 86.1 53.8C88.2 54.3 91.6 56.6 91.2 57.6C90.8 58.7 85.7 60.6 83.6 60.2C81.5 59.7 78.1 56.2 78.5 55.1Z" fill="#B22222"/><path d="M106.4 53.2C107.2 52.4 114 52.1 116.5 52.6C119.1 53 122.4 54.9 121.6 55.7C120.8 56.6 114 58.1 111.5 57.6C108.9 57.2 105.6 54 106.4 53.2Z" fill="#B22222"/><path d="M129.2 55.1C130 54.4 135.1 54 136.8 54.5C138.5 54.9 140.2 56.9 139.3 57.6C138.5 58.4 133.4 59.3 131.7 58.9C130 58.5 128.4 55.8 129.2 55.1Z" fill="#B22222"/><path d="M78.5 65.9C79.4 64.9 84 64.7 86.1 65.2C88.2 65.8 90.8 67.9 91.2 69C91.6 70.2 90.4 71.9 88.7 72.2C87 72.5 82.8 72 81.1 70.9C79.4 69.9 77.7 66.8 78.5 65.9Z" fill="#B22222"/><path d="M108.9 63.3C110.4 62.6 116.5 61.8 119.1 62.1C121.6 62.4 124.6 64.4 124.1 65.2C123.7 66.1 118.9 66.9 116.5 67.1C114.2 67.3 111.5 67.1 110.2 66.5C108.9 65.9 107.5 64.1 108.9 63.3Z" fill="#B22222"/><path d="M89.9 63.3C90.4 62.8 93.9 62.4 96.3 62.7C98.6 63 103 64.5 103.9 65.2C104.7 66 103 67 101.3 67.1C99.6 67.2 95.6 66.5 93.7 65.9C91.8 65.2 89.5 63.9 89.9 63.3Z" fill="#FFA500"/><path d="M101.3 69C102.2 68.5 104.9 68.2 106.4 68.4C107.9 68.6 110.2 69.7 110.2 70.3C110.2 70.9 107.9 72 106.4 72.2C104.9 72.4 102.2 72.1 101.3 71.6C100.5 71 100.5 69.6 101.3 69Z" fill="#FFA500"/><path d="M68.4 45.6C68.4 45.1 71.8 44.3 73.5 44.3C75.2 44.3 78.5 45.1 78.5 45.6C78.5 46.1 75.2 47.5 73.5 47.5C71.8 47.5 68.4 46.1 68.4 45.6Z" fill="#FF4500"/><path d="M91.2 44.3C91.6 43.8 96.7 43 98.8 43.1C100.9 43.2 104.3 44.4 103.9 45C103.4 45.5 98.4 46.3 96.3 46.2C94.2 46.1 90.8 44.9 91.2 44.3Z" fill="#FF4500"/><path d="M121.6 45C122.4 44.5 127.5 44.1 129.2 44.3C130.9 44.5 132.6 45.8 131.7 46.2C130.9 46.7 125.8 47.1 124.1 46.9C122.4 46.7 120.8 45.4 121.6 45Z" fill="#FF4500"/><path d="M125.4 76C125.5 75 129.3 72.1 130.5 71.6C131.6 71 135.5 70.2 136.8 70.3C138.1 70.4 141.7 71.9 143.1 72.2C144.5 72.5 149.8 72.2 150.7 72.8C151.6 73.5 152.3 77.6 152 78.5C151.7 79.5 149.2 81.8 148.2 82.3C147.2 82.9 143.1 84.4 141.9 84.2C140.6 84.1 136.8 81.3 135.5 81.1C134.3 80.8 130.2 82.2 129.2 81.7C128.2 81.2 125.3 77 125.4 76Z" fill="#FFB6C1"/><path d="M135.5 74.7C136 74 138.5 73.2 139.3 73.5C140.2 73.8 141 75.9 140.6 76.6C140.2 77.4 137.6 78.2 136.8 77.9C136 77.6 135.1 75.5 135.5 74.7Z" fill="#B22222"/><path d="M144.4 76.6C144.7 76 146.4 75.6 146.9 76C147.5 76.4 147.9 78.5 147.6 79.2C147.2 79.8 145.6 80.2 145 79.8C144.5 79.4 144.1 77.3 144.4 76.6Z" fill="#B22222"/><path d="M-22.8 67.8L15.2 66.5L44.3 68.4L55.7 67.1L60.8 69.7L73.5 79.8L76 86.1L69.7 93.7L55.7 97.9L38 98.4L19 98.2L0 96.9L-22.8 96Z" fill="#FF4500"/><path d="M433.2 67.8L471.2 66.5L500.3 68.4L511.7 67.1L516.8 69.7L529.5 79.8L532 86.1L525.7 93.7L511.7 97.9L494 98.4L475 98.2L456 96.9L433.2 96Z" fill="#FF4500"/><path d="M5.1 70.9C6.5 70.2 9.7 69.9 12.7 70.3C15.6 70.7 20.7 72.2 22.8 73.5C24.9 74.7 26.2 77 25.3 77.9C24.5 78.9 20.3 79.3 17.7 79.2C15.2 79.1 12.5 78 10.1 77.3C7.8 76.5 4.6 75.8 3.8 74.7C3 73.7 3.6 71.7 5.1 70.9Z" fill="#FFA500"/><path d="M10.1 79.8C11.6 78.6 16.9 80.5 20.3 80.4C23.6 80.3 27.2 78.8 30.4 79.2C33.6 79.5 37.4 81 39.3 82.3C41.2 83.7 42 85.8 41.8 87.4C41.6 89 40.3 90.9 38 91.8C35.7 92.8 31.2 93.2 27.9 93.1C24.5 93 20.5 92.2 17.7 91.2C15 90.2 12.7 89.3 11.4 87.4C10.1 85.5 8.7 81 10.1 79.8Z" fill="#FFA500"/><path d="M-12.7 83C-12 81.9 -8.4 81.6 -6.3 81.7C-4.2 81.8 -1.3 82.6 0 83.6C1.3 84.5 1.9 86.5 1.3 87.4C0.6 88.4 -1.9 89.2 -3.8 89.3C-5.7 89.4 -8.7 89.1 -10.1 88C-11.6 87 -13.3 84 -12.7 83Z" fill="#FFA500"/><path d="M443.3 83C444 81.9 447.6 81.6 449.7 81.7C451.8 81.8 454.7 82.6 456 83.6C457.3 84.5 457.9 86.5 457.3 87.4C456.6 88.4 454.1 89.2 452.2 89.3C450.3 89.4 447.3 89.1 445.9 88C444.4 87 442.7 84 443.3 83Z" fill="#FFA500"/><path d="M51.9 79.2C52.6 78.2 55.3 77.8 57 78.5C58.7 79.3 60.6 82 62.1 83.6C63.5 85.2 65.9 86.9 65.9 88C65.9 89.2 63.5 90.5 62.1 90.6C60.6 90.7 58.5 89.7 57 88.7C55.5 87.6 54 85.8 53.2 84.2C52.4 82.7 51.3 80.1 51.9 79.2Z" fill="#FFA500"/><path d="M38 71.6C38.2 70.4 43.1 68 45.6 67.1C48.1 66.3 52.4 65.9 53.2 66.5C54 67.1 52.1 69.7 50.7 70.9C49.2 72.2 46.4 74 44.3 74.1C42.2 74.2 37.8 72.7 38 71.6Z" fill="#B22222"/><path d="M0 104.5L38 105.1L65.9 105.1L76 114L354.7 114L380 114.6L418 114L431.9 112.7L432.1 103.9L456 104.5L456 229.3L0 229.3Z" fill="#FF4500"/><path d="M0 119.1L69.7 119.1L76 125L139.3 125L145.7 126.7L202.7 126.7L209 125L342 125L348.3 119.1L418 119.1L424.3 125L456 125L456 229.3L0 229.3Z" fill="#FFA500"/><path d="M0 131.1L69.7 131.1L76 135.5L139.3 135.5L141.9 133.6L198.9 133.6L202.7 135.5L342 135.5L348.3 131.1L418 131.1L424.3 135.5L456 135.5L456 229.3L0 229.3Z" fill="#FFE100"/><path d="M0 139.7L50.7 139.7L53.2 138.1L69.7 138.1L76 145.3L139.3 145.3L141.9 139.7L198.9 139.7L202.7 145.3L342 145.3L348.3 141.9L418 141.9L424.3 145.3L456 145.3L456 229.3L0 229.3Z" fill="#DEB887"/><path d="M0 159.6L76 159.6L139.3 154.4L141.9 148.8L152 150.1L162.1 148.2L169.7 150.1L177.3 148.8L187.5 150.7L198.9 150.1L202.7 154.4L342 154.4L348.3 152L418 152L424.3 154.4L456 154.4L456 229.3L0 229.3Z" fill="#F5E6BE"/><path d="M0 160.9L139.3 159.2L141.9 156.8L198.9 156.8L202.7 159.2L205.2 157.1L228 157.1L230.5 159.2L342 159.2L348.3 157.8L418 157.8L424.3 159.2L456 159.2L456 229.3L0 229.3Z" fill="#9AB932"/><path d="M0 164.2L205.2 164.2L207.7 162.1L228 162.1L230.5 164.2L342 164.2L348.3 164.9L418 164.9L424.3 164.2L456 164.2L456 229.3L0 229.3Z" fill="#C0F064"/><path d="M0 169.7L205.2 169.7L207.7 165.9L228 165.9L230.5 169.7L342 169.7L348.3 169.7L418 169.7L424.3 169.7L456 169.7L456 229.3L0 229.3Z" fill="#20B2AA"/><path d="M0 174.7L205.2 174.7L207.7 171L228 171L230.5 174.7L342 174.7L348.3 174.7L418 174.7L424.3 174.7L456 174.7L456 229.3L0 229.3Z" fill="#B0E0E6"/><path d="M0 180.1L342 181.1L348.3 180.5L418 180.5L424.3 180.1L456 180.1L456 229.3L0 229.3Z" fill="#7896F0"/><path d="M0 183.7L152 190L342 187L348.3 184.9L418 184.9L424.3 183.7L456 183.7L456 229.3L0 229.3Z" fill="#4169E1"/><path d="M0 188.7L152 193.5L342 193.5L348.3 190L418 190L424.3 188.7L456 188.7L456 229.3L0 229.3Z" fill="#0000CD"/><path d="M364.8 100.7C366.3 100.1 370.1 100.8 372.4 101.3C374.7 101.9 378.1 102.9 378.7 103.9C379.4 104.8 377.9 106.4 376.2 107C374.5 107.7 370.7 108 368.6 107.7C366.5 107.3 364.2 106.3 363.5 105.1C362.9 104 363.3 101.3 364.8 100.7Z" fill="#FF4500"/><path d="M380 107.7C381.3 107.1 385.7 107.7 387.6 108.3C389.5 108.9 391.8 110.6 391.4 111.5C391 112.3 387 113.4 385.1 113.4C383.2 113.4 380.8 112.4 380 111.5C379.2 110.5 378.7 108.2 380 107.7Z" fill="#FF4500"/><path d="M23.4 151.4C23.7 150.7 25.9 148.9 26.6 148.8C27.3 148.8 29.6 150.7 30.4 150.7C31.2 150.7 33.4 148.8 34.2 148.8C35 148.9 37.9 150.7 38 151.4C38.1 152.1 36.5 155.2 35.5 155.8C34.5 156.4 29 157.8 27.9 157.8C26.7 157.8 24.5 156.4 24.1 155.8C23.6 155.2 23.2 152.1 23.4 151.4Z" fill="#F5E6BE"/><path d="M363.5 149.5C364.2 147.8 366.1 147.8 366.7 149.5C367.3 151.2 367 156.4 367.3 159.6C367.7 162.8 368.2 165.7 368.6 168.5C369 171.2 370.1 174.2 369.9 176.1C369.7 178 368.4 179.2 367.3 179.9C366.3 180.5 364.4 181.3 363.5 179.9C362.7 178.4 362.4 174.4 362.3 171C362.1 167.6 362.4 163.2 362.6 159.6C362.9 156 362.9 151.2 363.5 149.5Z" fill="#20B2AA"/><path d="M363.9 155.8C364.3 154.3 365.6 154.3 366.1 155.8C366.5 157.3 366.4 161.9 366.7 164.7C367 167.4 368.2 170.8 368 172.3C367.8 173.7 366.1 174.8 365.4 173.5C364.8 172.3 364.2 167.6 363.9 164.7C363.7 161.7 363.6 157.3 363.9 155.8Z" fill="#B0E0E6"/><path d="M362.9 172.9C364.1 172.3 367.1 171.5 368.6 172.3C370.1 173 371.3 175.6 371.8 177.3C372.2 179 372.1 181.2 371.1 182.4C370.2 183.6 367.5 184.5 366.1 184.3C364.6 184.1 363 182.5 362.3 181.1C361.5 179.8 361.5 177.4 361.6 176.1C361.7 174.7 361.7 173.5 362.9 172.9Z" fill="#7896F0"/><path d="M364.8 177.3C365.2 176.5 367.9 176.7 368.6 177.3C369.3 178 369.7 180.3 369.2 181.1C368.8 182 366.8 183 366.1 182.4C365.3 181.8 364.4 178.2 364.8 177.3Z" fill="#4169E1"/><path d="M311.6 50.7C312 49.5 314.1 48.3 315.4 48.8C316.7 49.2 319 51.9 319.2 53.2C319.4 54.5 317.7 55.9 316.7 56.4C315.6 56.8 313.7 56.7 312.9 55.7C312 54.8 311.2 51.8 311.6 50.7Z" fill="#FF4500"/><path d="M315.4 58.9C316.2 58.1 319 57.7 320.5 58.3C321.9 58.8 323.4 60.6 324.3 62.1C325.1 63.5 326 65.9 325.5 67.1C325.1 68.4 323 69.7 321.7 69.7C320.5 69.7 319 68.2 317.9 67.1C316.9 66.1 315.8 64.7 315.4 63.3C315 62 314.6 59.7 315.4 58.9Z" fill="#FF4500"/><path d="M319.2 70.9C320 70.5 323 70.9 324.3 71.6C325.5 72.2 327 74 326.8 74.7C326.6 75.5 324.3 76.1 323 76C321.7 75.9 319.8 74.9 319.2 74.1C318.6 73.3 318.4 71.4 319.2 70.9Z" fill="#FF4500"/><path d="M307.8 64.6C308.2 64.1 311 65 311.6 65.9C312.2 66.7 312 69.1 311.6 69.7C311.2 70.2 309.7 69.9 309.1 69C308.4 68.2 307.4 65.1 307.8 64.6Z" fill="#FF4500"/><path d="M355.9 37.4C356.8 36.6 359.1 36.3 361 36.7C362.9 37.2 365.6 38.7 367.3 39.9C369 41.1 371.3 42.6 371.1 43.7C370.9 44.8 368 46.1 366.1 46.2C364.2 46.3 361.4 45.2 359.7 44.3C358 43.5 356.6 42.3 355.9 41.2C355.3 40 355.1 38.1 355.9 37.4Z" fill="#FFA500"/><path d="M263.5 35.5C263.7 35 269.4 34.6 272.3 34.8C275.3 35 278.5 36.1 281.2 36.7C283.9 37.4 288.8 38.3 288.8 38.6C288.8 39 284.2 38.8 281.2 38.6C278.2 38.4 274 37.9 271.1 37.4C268.1 36.8 263.3 35.9 263.5 35.5Z" fill="#FFA500"/><path d="M271.1 36.4C271.3 36.2 276.6 36.5 278.7 36.7C280.8 37 283.9 37.8 283.7 38C283.5 38.2 279.5 38 277.4 37.7C275.3 37.5 270.9 36.5 271.1 36.4Z" fill="#FFE100"/><path d="M301.5 17.7C304 16.5 311 14.9 316.7 13.9C322.4 13 329.3 12 335.7 12C342 12 350.4 12.6 354.7 13.9C358.9 15.3 360.4 18.2 361 20.3C361.6 22.4 360.6 25 358.5 26.6C356.4 28.2 351.9 29.6 348.3 29.8C344.7 30 340.9 28.6 336.9 27.9C332.9 27.1 328.7 26.1 324.3 25.3C319.8 24.6 314.1 24.1 310.3 23.4C306.5 22.8 302.9 22.5 301.5 21.5C300 20.6 298.9 19 301.5 17.7Z" fill="#FFE100"/><path d="M323 21.5C324.1 20.5 331.4 19.2 335.7 19C339.9 18.8 345.6 19.2 348.3 20.3C351.1 21.3 353.2 24.2 352.1 25.3C351.1 26.5 345.8 27.2 342 27.2C338.2 27.2 332.5 26.3 329.3 25.3C326.2 24.4 321.9 22.6 323 21.5Z" fill="#FFA500"/><path d="M357.2 22.8C358.7 22 364.6 21.5 367.3 22.2C370.1 22.8 372.4 25 373.7 26.6C374.9 28.2 375.8 30.4 374.9 31.7C374.1 32.9 370.7 34.3 368.6 34.2C366.5 34.1 364 32.2 362.3 31C360.6 29.9 359.3 28.6 358.5 27.2C357.6 25.9 355.7 23.6 357.2 22.8Z" fill="#FFA500"/><path d="M342 8.2C345.2 7.6 355.1 8 361 8.2C366.9 8.4 376.4 8.8 377.5 9.5C378.5 10.2 371.6 11.9 367.3 12.7C363.1 13.4 356.4 14 352.1 13.9C347.9 13.8 343.7 13 342 12C340.3 11.1 338.8 8.9 342 8.2Z" fill="#DEB887"/><path d="M363.5 14.9L369.9 12.7L373.7 11.1L380 10.1L392.7 9.5L405.3 8.4L418 8.1L428.1 9.5L433.2 10.8L440.8 10.8L435.7 12.7L433.2 13.9L432.6 15.8L431.3 17.7L431.3 19L429.4 20.9L428.1 22.8L428.1 24.7L425.6 25.1L423.1 27.2L418 27.7L414.2 29.1L410.4 30.7L406 31L404.7 32.3L403.4 34.2L402.2 36.1L400.3 38.1L397.7 37.2L395.2 36.7L392.7 34.8L390.8 32.9L389.5 31L388.2 29.1L388.9 27.2L390.1 26L387 25.3L387 23.4L385.7 21.5L383.2 19.3L380 17.7L374.9 17.5L369.2 17.7L366.1 16.5Z" fill="#9AB932"/><path d="M369.9 13.9C370.7 13.2 375.1 12 380 11.4C384.9 10.8 392.7 10.5 399 10.4C405.3 10.3 413.1 10.3 418 10.8C422.9 11.3 426.2 12.1 428.1 13.3C430 14.5 429.6 16.2 429.4 17.7C429.2 19.3 427.9 21.3 426.9 22.8C425.8 24.3 425.6 25.7 423.1 26.6C420.5 27.6 414.6 27.7 411.7 28.5C408.7 29.3 406.8 30.5 405.3 31.7C403.9 32.8 403.6 34.5 402.8 35.5C402 36.5 401.3 37.6 400.3 37.6C399.2 37.6 397.7 36.7 396.5 35.5C395.2 34.3 393.9 31.9 392.7 30.4C391.4 28.9 389.7 28.1 388.9 26.6C388 25.1 388.4 23 387.6 21.5C386.8 20.1 385.9 18.7 383.8 17.7C381.7 16.8 377.3 16.5 374.9 15.8C372.6 15.2 369 14.7 369.9 13.9Z" fill="#C0F064"/><path d="M426.9 30.4C427.7 30 431.3 30.2 433.2 30.4C435.1 30.6 438.5 31.1 438.3 31.7C438.1 32.2 433.6 33.4 431.9 33.6C430.2 33.7 429 33.2 428.1 32.7C427.3 32.2 426 30.8 426.9 30.4Z" fill="#FFA500"/></g><path d="M59.5 57L62.1 55.1L65.2 54.7L67.1 55.4L66.5 57L64.6 57.6L64 58.9L66.5 60.2L67.8 62.1L67.8 64L68.4 65.9L67.8 67.1L65.2 67.5L62.7 66.8L61.8 65.2L62.7 63L61.4 61.1L60.2 59.5Z" fill="#FFB6C1"/></g><g clip-path="url(#mapc)"><use href="#coast" fill="none" stroke="#000" stroke-width="1.25" stroke-linejoin="round"/></g><rect x="0.5" y="0.5" width="454.8" height="227.6" fill="none" stroke="#333" stroke-width="1"/></g><g transform="translate(6,340)"><g clip-path="url(#mapc)" shape-rendering="crispEdges"><rect x="0" y="0" width="456" height="228" fill="#DEB887"/><path d="M217.9 3.8L222.9 7.6L240.7 9.5L266 10.1L293.9 10.1L307.8 8.9L314.1 6.3L311.6 3.8Z" fill="#F5E6BE"/><path d="M0 9.8L12.7 10.4L27.9 9.8L53.2 9.5L81.1 9.8L110.2 10.8L117.8 12L126.7 13.2L152 14.8L171 15.7L202.7 17.1L228 18.4L259.7 20.3L285 20.9L297.7 20.3L306.5 12.7L342 9.5L380 8.2L418 8.9L437 9.5L456 9.8L456 229.3L0 229.3Z" fill="#FFE100"/><path d="M0 10.9L12.7 13.3L22.8 13.3L30.4 11.1L50.7 11.4L58.3 13.9L81.1 14.2L110.2 15.2L117.8 16.5L126.7 17.4L152 19L171 19.9L202.7 20.5L228 21.5L259.7 22.8L285 22.8L297.7 21.8L306.5 13.9L342 10.8L380 9.5L418 10.1L437 10.8L456 10.9L456 229.3L0 229.3Z" fill="#FFA500"/><path d="M0 11.9L12.7 14.2L22.8 14.2L30.4 12.2L50.7 12.4L58.3 15.2L81.1 15.6L110.2 16.5L117.8 17.7L126.7 18.6L152 20.3L171 21.2L202.7 22.2L228 23.3L259.7 24.3L285 24.1L297.7 23.1L306.5 15.2L342 12L380 10.8L418 11.4L437 12L456 11.9L456 229.3L0 229.3Z" fill="#FF4500"/><path d="M0 34.2L38 32.9L50.7 35.5L73.5 39.9L97.5 36.7L152 36.7L171 38L209 35.5L221.7 30.4L228 27L249.5 27L253.3 34.2L304 36.7L331.9 34.2L342 30.4L354.7 32.9L373.7 35.5L386.3 38L402.8 36.7L411.7 35.5L424.3 36.1L437 35.5L445.9 34.8L456 34.2L456 229.3L0 229.3Z" fill="#B22222"/><path d="M304 20.3C304.8 19.1 309.5 17 314.1 15.8C318.8 14.7 325.1 13.7 331.9 13.3C338.6 12.9 348.8 12.8 354.7 13.3C360.6 13.8 364.4 15.1 367.3 16.5C370.3 17.8 372.4 20.2 372.4 21.5C372.4 22.9 370.3 24.5 367.3 24.7C364.4 24.9 359.3 23.1 354.7 22.8C350 22.5 345 22.9 339.5 22.8C334 22.7 326.8 22.2 321.7 22.2C316.7 22.2 312 23.1 309.1 22.8C306.1 22.5 303.2 21.4 304 20.3Z" fill="#FFA500"/><path d="M326.8 19C326.8 18.2 331 16.5 334.4 15.8C337.8 15.2 342.8 15 347.1 15.2C351.3 15.4 357.2 16.3 359.7 17.1C362.3 17.9 364 19.6 362.3 20.3C360.6 20.9 354.2 20.8 349.6 20.9C345 21 338.2 21.2 334.4 20.9C330.6 20.6 326.8 19.8 326.8 19Z" fill="#FFE100"/><path d="M0 52.6L70.9 54.5L71.1 84.9L92.5 84.9L92.6 97.5L100.1 97.5L100.2 85.5L125.4 85.5L125.5 54.5L164.7 53.2L181.1 51.4L297.7 51.4L380 50.2L418 51.3L456 52.6L456 229.3L0 229.3Z" fill="#FFB6C1"/><path d="M0 82.3L40.5 82.3L41.8 97.5L70.9 97.5L71.1 93.1L92.5 93.1L92.6 97.5L125.4 97.5L152 97.9L181.1 95.5L228 95L291.3 92.5L319.2 91.8L331.9 92.5L335.7 91.8L380 90.6L435.7 88.2L456 86.1L456 229.3L0 229.3Z" fill="#B22222"/><path d="M0 108.9L15.2 110.2L25.3 114L152 114.6L171 115.9L190 115.9L209 114L456 114L456 229.3L0 229.3Z" fill="#FF4500"/><path d="M0 125L456 125L456 229.3L0 229.3Z" fill="#FFA500"/><path d="M0 135.3L456 135.3L456 229.3L0 229.3Z" fill="#FFE100"/><path d="M0 145.2L456 145.2L456 229.3L0 229.3Z" fill="#DEB887"/><path d="M0 153.6L456 153.6L456 229.3L0 229.3Z" fill="#F5E6BE"/><path d="M0 159.2L456 159.2L456 229.3L0 229.3Z" fill="#9AB932"/><path d="M0 164.3L456 164.3L456 229.3L0 229.3Z" fill="#C0F064"/><path d="M0 169.7L456 169.7L456 229.3L0 229.3Z" fill="#20B2AA"/><path d="M0 174.5L456 174.5L456 229.3L0 229.3Z" fill="#B0E0E6"/><path d="M0 180.9L456 180.9L456 229.3L0 229.3Z" fill="#7896F0"/><path d="M0 186.2L456 186.2L456 229.3L0 229.3Z" fill="#4169E1"/><path d="M0 191.3L76 191.9L152 192.9L221.7 192.5L230.5 195.1L253.3 196.3L272.3 195.1L291.3 196.7L316.7 195.7L342 196.7L367.3 195.7L380 193.8L392.7 191.3L456 191.3L456 229.3L0 229.3Z" fill="#0000CD"/><path d="M73.5 12C74.7 11.4 79.4 11.2 83.6 11C87.8 10.9 93.7 10.9 98.8 11C103.9 11.2 109.4 11.5 114 12C118.6 12.5 123.9 13.1 126.7 13.9C129.4 14.8 131.3 16.3 130.5 17.1C129.6 17.9 126 18.5 121.6 18.6C117.2 18.8 109.8 18.2 103.9 18C98 17.7 90.8 17.7 86.1 17.1C81.5 16.5 78.1 15.4 76 14.6C73.9 13.7 72.2 12.6 73.5 12Z" fill="#FFA500"/><path d="M83.6 11.4C85.3 10.9 92.9 10.9 96.3 11.1C99.6 11.4 103.9 12.4 103.9 12.9C103.9 13.5 99.2 14.4 96.3 14.6C93.3 14.7 88.2 14.5 86.1 13.9C84 13.4 81.9 11.9 83.6 11.4Z" fill="#FFE100"/><path d="M108.9 12.3C110.8 11.9 117.6 12.4 120.3 12.9C123.1 13.4 126 14.8 125.4 15.5C124.8 16.1 119.3 16.8 116.5 16.7C113.8 16.7 110.2 15.9 108.9 15.2C107.7 14.5 107 12.7 108.9 12.3Z" fill="#FFE100"/><g clip-path="url(#landc)"><rect x="0" y="0" width="456" height="228" fill="#DEB887"/><path d="M217.9 3.8L222.9 7.6L240.7 9.5L266 10.1L293.9 10.1L307.8 8.9L314.1 6.3L311.6 3.8Z" fill="#F5E6BE"/><path d="M0 9.8L12.7 10.4L27.9 9.8L53.2 9.5L81.1 9.8L110.2 10.8L117.8 12L126.7 13.2L152 14.8L171 15.7L202.7 17.1L228 18.4L259.7 20.3L285 20.9L297.7 20.3L306.5 12.7L342 9.5L380 8.2L418 8.9L437 9.5L456 9.8L456 229.3L0 229.3Z" fill="#FFE100"/><path d="M0 10.9L12.7 13.3L22.8 13.3L30.4 11.1L50.7 11.4L58.3 13.9L81.1 14.2L110.2 15.2L117.8 16.5L126.7 17.4L152 19L171 19.9L202.7 20.5L228 21.5L259.7 22.8L285 22.8L297.7 21.8L306.5 13.9L342 10.8L380 9.5L418 10.1L437 10.8L456 10.9L456 229.3L0 229.3Z" fill="#FFA500"/><path d="M0 11.9L12.7 14.2L22.8 14.2L30.4 12.2L50.7 12.4L58.3 15.2L81.1 15.6L110.2 16.5L117.8 17.7L126.7 18.6L152 20.3L171 21.2L202.7 22.2L228 23.3L259.7 24.3L285 24.1L297.7 23.1L306.5 15.2L342 12L380 10.8L418 11.4L437 12L456 11.9L456 229.3L0 229.3Z" fill="#FF4500"/><path d="M0 40.5L5.1 40.5L6.3 45.6L15.2 45.6L16.5 36.7L38 35.5L50.7 36.7L73.5 40.5L97.5 37.4L126.7 36.7L152 36.7L171 38L190 39.3L209 40.5L240.7 40.5L247 36.7L272.3 36.1L285 38L297.7 39.3L316.7 38L331.9 36.7L336.9 40.5L344.5 44.3L361 45.6L380 45.6L381.3 40.5L430.7 40.5L456 40.5L456 229.3L0 229.3Z" fill="#B22222"/><path d="M111.5 19.6C110.8 19.1 117 17.8 120.3 17.1C123.7 16.4 128.1 15.3 131.7 15.5C135.3 15.6 141 17 141.9 17.7C142.7 18.4 139.8 19.2 136.8 19.6C133.8 20.1 128.4 20.3 124.1 20.3C119.9 20.3 112.1 20.2 111.5 19.6Z" fill="#FFA500"/><path d="M116.5 18.4C115.7 18.1 121.6 17.2 124.1 16.7C126.7 16.3 129.6 15.6 131.7 15.7C133.8 15.8 137.2 16.9 136.8 17.4C136.4 17.8 132.6 18.1 129.2 18.2C125.8 18.4 117.4 18.6 116.5 18.4Z" fill="#FFE100"/><path d="M67.1 23.4C67.1 22.8 69.2 21.2 70.9 20.3C72.6 19.3 74.7 18.4 77.3 17.7C79.8 17.1 85.1 16.4 86.1 16.5C87.2 16.6 85.5 17.6 83.6 18.2C81.7 18.9 76.8 19.3 74.7 20.3C72.6 21.2 72.2 23.3 70.9 23.8C69.7 24.3 67.1 24 67.1 23.4Z" fill="#FFA500"/><path d="M162.1 22.8C163.6 22.5 168 23 171 22.8C174 22.6 176.7 21.7 179.9 21.8C183 21.9 186.2 22.9 190 23.4C193.8 23.9 200.6 24.3 202.7 24.7C204.8 25.1 205.2 26 202.7 26C200.1 26 192.1 25 187.5 24.7C182.8 24.4 179 24.1 174.8 24.1C170.6 24 164.2 24.5 162.1 24.3C160 24.1 160.7 23.1 162.1 22.8Z" fill="#FFA500"/><path d="M68.4 55.7C69 54.3 71.6 53.9 73.5 53.8C75.4 53.7 78.1 54.1 79.8 55.1C81.5 56.1 83.4 58 83.6 59.5C83.8 61.1 82.5 63.5 81.1 64.6C79.6 65.7 76.6 66.2 74.7 65.9C72.8 65.5 70.7 64.4 69.7 62.7C68.6 61 67.8 57.2 68.4 55.7Z" fill="#FF4500"/><path d="M78.5 72.8C79.2 71.6 82.8 71.4 84.9 71.6C87 71.8 89.9 72.8 91.2 74.1C92.5 75.4 93.1 78 92.5 79.2C91.8 80.3 89.3 81.1 87.4 81.1C85.5 81.1 82.5 80.5 81.1 79.2C79.6 77.8 77.9 74.1 78.5 72.8Z" fill="#FF4500"/><path d="M96.3 63.3C97.1 61.9 100.9 61.4 103.9 61.2C106.8 61 110.8 61.5 114 62.1C117.2 62.6 121.6 63.3 122.9 64.6C124.1 65.9 123.1 68.4 121.6 69.7C120.1 70.9 116.7 71.7 114 72.2C111.3 72.7 107.7 73.3 105.1 72.8C102.6 72.4 100.3 71.2 98.8 69.7C97.3 68.1 95.4 64.7 96.3 63.3Z" fill="#FF4500"/><path d="M129.2 57.6C130.5 56.8 134.3 56.3 136.8 56.4C139.3 56.5 143.6 57.3 144.4 58.3C145.2 59.2 143.6 61.2 141.9 62.1C140.2 62.9 136.4 63.4 134.3 63.3C132.2 63.2 130 62.4 129.2 61.4C128.4 60.5 127.9 58.5 129.2 57.6Z" fill="#FF4500"/><path d="M55.7 64.6C56.2 63.6 59.1 63.4 60.8 64C62.5 64.5 64.2 66.4 65.9 67.8C67.6 69.1 69.7 70.6 70.9 72.2C72.2 73.8 73.9 76.2 73.5 77.3C73 78.3 70.1 79 68.4 78.5C66.7 78.1 65 76.2 63.3 74.7C61.6 73.3 59.5 71.4 58.3 69.7C57 68 55.3 65.5 55.7 64.6Z" fill="#FF4500"/><path d="M-22.8 67.8L15.2 66.5L44.3 68.4L53.2 67.1L59.5 70.9L72.2 79.8L76 86.1L69.7 93.7L55.7 97.9L38 98.2L19 97.9L0 97.5L-22.8 96.9Z" fill="#FF4500"/><path d="M433.2 67.8L471.2 66.5L500.3 68.4L509.2 67.1L515.5 70.9L528.2 79.8L532 86.1L525.7 93.7L511.7 97.9L494 98.2L475 97.9L456 97.5L433.2 96.9Z" fill="#FF4500"/><path d="M5.1 71.6C6.5 70.7 9.7 70.4 11.4 70.9C13.1 71.5 14.8 73.3 15.2 74.7C15.6 76.2 15 78.3 13.9 79.8C12.9 81.3 10.6 83.4 8.9 83.6C7.2 83.8 4.9 82.3 3.8 81.1C2.7 79.8 2.3 77.6 2.5 76C2.7 74.4 3.6 72.4 5.1 71.6Z" fill="#FFA500"/><path d="M21.5 77.3C23 75.6 26.4 75.8 29.1 76C31.9 76.2 36.1 76.8 38 78.5C39.9 80.2 40.5 83.6 40.5 86.1C40.5 88.7 39.7 92.2 38 93.7C36.3 95.3 32.9 95.5 30.4 95.3C27.9 95 24.5 94 22.8 92.5C21.1 90.9 20.5 88.7 20.3 86.1C20.1 83.6 20.1 79 21.5 77.3Z" fill="#FFA500"/><path d="M-15.2 79.2C-13.6 77.9 -9.9 77.8 -7.6 77.9C-5.3 78 -3 78.5 -1.3 79.8C0.4 81.1 2.3 83.6 2.5 85.5C2.7 87.4 1.7 89.9 0 91.2C-1.7 92.5 -5.3 93.1 -7.6 93.1C-9.9 93.1 -12.4 92.5 -13.9 91.2C-15.5 89.9 -16.9 87.5 -17.1 85.5C-17.3 83.5 -16.8 80.4 -15.2 79.2Z" fill="#FFA500"/><path d="M440.8 79.2C442.4 77.9 446.1 77.8 448.4 77.9C450.7 78 453 78.5 454.7 79.8C456.4 81.1 458.3 83.6 458.5 85.5C458.7 87.4 457.7 89.9 456 91.2C454.3 92.5 450.7 93.1 448.4 93.1C446.1 93.1 443.6 92.5 442.1 91.2C440.5 89.9 439.1 87.5 438.9 85.5C438.7 83.5 439.2 80.4 440.8 79.2Z" fill="#FFA500"/><path d="M445.9 83.6C446.6 83 448.7 82.7 449.7 83C450.6 83.3 451.7 84.8 451.6 85.5C451.5 86.2 450.1 87.2 449 87.4C448 87.6 445.8 87.4 445.2 86.8C444.7 86.1 445.1 84.2 445.9 83.6Z" fill="#FFE100"/><path d="M50.7 72.2C51.5 70.3 54 70.3 55.7 70.9C57.4 71.6 58.9 74.1 60.8 76C62.7 77.9 65.4 80.2 67.1 82.3C68.8 84.4 71.1 86.8 70.9 88.7C70.7 90.6 68 92.7 65.9 93.7C63.8 94.8 60.4 95.4 58.3 95C56.2 94.6 54.5 93.3 53.2 91.2C51.9 89.1 51.1 85.5 50.7 82.3C50.2 79.2 49.8 74.1 50.7 72.2Z" fill="#FFA500"/><path d="M38 71.6C38.2 70.5 43.1 68 45.6 67.1C48.1 66.3 52.4 66.1 53.2 66.5C54 66.9 52.1 68.5 50.7 69.7C49.2 70.9 46.4 73.4 44.3 73.7C42.2 74 37.8 72.7 38 71.6Z" fill="#B22222"/><path d="M16.5 98.8C17.3 98.2 21.5 98.1 24.1 98.2C26.6 98.3 31 98.8 31.7 99.4C32.3 100.1 30 101.6 27.9 102C25.8 102.3 20.9 102.2 19 101.7C17.1 101.2 15.6 99.4 16.5 98.8Z" fill="#B22222"/><path d="M0 101.6L38 102L65.9 102.6L76 114L354.7 114L358.5 102.6L392.7 102.6L395.2 114L418 114L431.9 112.7L432.1 101.3L456 101.6L456 229.3L0 229.3Z" fill="#FF4500"/><path d="M0 119.1L69.7 119.1L76 125L139.3 125L145.7 126.7L202.7 126.7L209 125L342 125L348.3 120.6L418 120.6L424.3 125L456 125L456 229.3L0 229.3Z" fill="#FFA500"/><path d="M0 131.7L69.7 131.7L76 135.3L139.3 135.3L141.9 132.4L198.9 132.4L202.7 135.3L342 135.3L348.3 132.1L418 132.1L424.3 135.3L456 135.3L456 229.3L0 229.3Z" fill="#FFE100"/><path d="M0 138.7L50.7 138.7L53.2 138.1L69.7 138.1L76 145.2L139.3 145.2L141.9 140.6L198.9 140.6L202.7 145.2L342 145.2L348.3 141.9L418 141.9L424.3 145.2L456 145.2L456 229.3L0 229.3Z" fill="#DEB887"/><path d="M0 159.6L76 159.6L139.3 153.6L141.9 148.8L152 150.1L162.1 148.2L169.7 150.1L177.3 148.8L187.5 150.7L198.9 150.1L202.7 153.6L342 153.6L348.3 152L418 152L424.3 153.6L456 153.6L456 229.3L0 229.3Z" fill="#F5E6BE"/><path d="M0 160.9L139.3 159.2L141.9 157.7L198.9 157.7L202.7 159.2L205.2 157.1L228 157.1L230.5 159.2L342 159.2L348.3 157.8L418 157.8L424.3 159.2L456 159.2L456 229.3L0 229.3Z" fill="#9AB932"/><path d="M0 164.3L205.2 164.3L207.7 162.1L228 162.1L230.5 164.3L342 164.3L348.3 164.9L418 164.9L424.3 164.3L456 164.3L456 229.3L0 229.3Z" fill="#C0F064"/><path d="M0 169.7L205.2 169.7L207.7 165.9L228 165.9L230.5 169.7L342 169.7L348.3 169.7L418 169.7L424.3 169.7L456 169.7L456 229.3L0 229.3Z" fill="#20B2AA"/><path d="M0 174.5L205.2 174.5L207.7 171L228 171L230.5 174.5L342 174.5L348.3 174.5L418 174.5L424.3 174.5L456 174.5L456 229.3L0 229.3Z" fill="#B0E0E6"/><path d="M0 180.9L342 180.9L348.3 180.5L418 180.5L424.3 180.9L456 180.9L456 229.3L0 229.3Z" fill="#7896F0"/><path d="M0 186.2L342 186.2L348.3 184.9L418 184.9L424.3 186.2L456 186.2L456 229.3L0 229.3Z" fill="#4169E1"/><path d="M0 191.3L152 192.9L342 196.3L456 191.3L456 229.3L0 229.3Z" fill="#0000CD"/><path d="M24.1 151.4C24.9 150.5 27.4 150 29.1 149.8C30.8 149.7 32.6 150.4 34.2 150.7C35.8 151.1 38.4 151.2 38.6 152C38.8 152.8 37.3 154.9 35.5 155.8C33.7 156.8 29.8 157.8 27.9 157.7C26 157.6 24.7 156.2 24.1 155.2C23.4 154.1 23.2 152.3 24.1 151.4Z" fill="#F5E6BE"/><path d="M363.5 149.5C364.2 147.8 366.1 147.8 366.7 149.5C367.3 151.2 367 156.4 367.3 159.6C367.7 162.8 368.2 165.7 368.6 168.5C369 171.2 370.1 174.2 369.9 176.1C369.7 178 368.4 179.2 367.3 179.9C366.3 180.5 364.4 181.3 363.5 179.9C362.7 178.4 362.4 174.4 362.3 171C362.1 167.6 362.4 163.2 362.6 159.6C362.9 156 362.9 151.2 363.5 149.5Z" fill="#20B2AA"/><path d="M363.9 155.8C364.3 154.3 365.6 154.3 366.1 155.8C366.5 157.3 366.4 161.9 366.7 164.7C367 167.4 368.2 170.8 368 172.3C367.8 173.7 366.1 174.8 365.4 173.5C364.8 172.3 364.2 167.6 363.9 164.7C363.7 161.7 363.6 157.3 363.9 155.8Z" fill="#B0E0E6"/><path d="M362.9 172.9C364.1 172.3 367.1 171.5 368.6 172.3C370.1 173 371.3 175.6 371.8 177.3C372.2 179 372.1 181.2 371.1 182.4C370.2 183.6 367.5 184.5 366.1 184.3C364.6 184.1 363 182.5 362.3 181.1C361.5 179.8 361.5 177.4 361.6 176.1C361.7 174.7 361.7 173.5 362.9 172.9Z" fill="#7896F0"/><path d="M364.8 177.3C365.2 176.5 367.9 176.7 368.6 177.3C369.3 178 369.7 180.3 369.2 181.1C368.8 182 366.8 183 366.1 182.4C365.3 181.8 364.4 178.2 364.8 177.3Z" fill="#4169E1"/><path d="M73.5 12C74.7 11.4 79.4 11.2 83.6 11C87.8 10.9 93.7 10.9 98.8 11C103.9 11.2 109.4 11.5 114 12C118.6 12.5 123.9 13.1 126.7 13.9C129.4 14.8 131.3 16.3 130.5 17.1C129.6 17.9 126 18.5 121.6 18.6C117.2 18.8 109.8 18.2 103.9 18C98 17.7 90.8 17.7 86.1 17.1C81.5 16.5 78.1 15.4 76 14.6C73.9 13.7 72.2 12.6 73.5 12Z" fill="#FFA500"/><path d="M83.6 11.4C85.3 10.9 92.9 10.9 96.3 11.1C99.6 11.4 103.9 12.4 103.9 12.9C103.9 13.5 99.2 14.4 96.3 14.6C93.3 14.7 88.2 14.5 86.1 13.9C84 13.4 81.9 11.9 83.6 11.4Z" fill="#FFE100"/><path d="M108.9 12.3C110.8 11.9 117.6 12.4 120.3 12.9C123.1 13.4 126 14.8 125.4 15.5C124.8 16.1 119.3 16.8 116.5 16.7C113.8 16.7 110.2 15.9 108.9 15.2C107.7 14.5 107 12.7 108.9 12.3Z" fill="#FFE100"/><path d="M315.4 58.9C315.8 57.7 318.1 57.7 319.2 58.3C320.3 58.8 321.5 60.8 321.7 62.1C321.9 63.3 321.3 65.3 320.5 65.9C319.6 66.4 317.5 66.4 316.7 65.2C315.8 64.1 315 60.1 315.4 58.9Z" fill="#FF4500"/><path d="M307.8 65.2C308.2 64.6 310.8 65.5 311.6 66.5C312.4 67.5 313.3 70.3 312.9 70.9C312.4 71.6 309.9 71.2 309.1 70.3C308.2 69.3 307.4 65.9 307.8 65.2Z" fill="#FF4500"/><path d="M358.5 39.3C359.1 38.6 362.1 38.3 363.5 38.6C365 39 367.1 40.3 367.3 41.2C367.5 42 366.1 43.5 364.8 43.7C363.5 43.9 360.8 43.2 359.7 42.4C358.7 41.7 357.8 39.9 358.5 39.3Z" fill="#FFA500"/><path d="M268.5 36.1C269.2 35.8 273.6 35.6 276.1 35.8C278.7 36.1 281.6 36.9 283.7 37.4C285.8 37.8 289.2 38.5 288.8 38.6C288.4 38.8 283.9 38.6 281.2 38.4C278.5 38.2 274.4 37.7 272.3 37.4C270.2 37 267.9 36.4 268.5 36.1Z" fill="#FFA500"/><path d="M304 19C305.7 17.9 311.4 16.1 316.7 15.2C321.9 14.2 329.8 13.4 335.7 13.3C341.6 13.2 348.5 13.6 352.1 14.6C355.7 15.5 357.6 17.6 357.2 19C356.8 20.4 353.4 22.3 349.6 22.8C345.8 23.3 339.5 22.4 334.4 22.2C329.3 22 323.8 21.6 319.2 21.5C314.6 21.4 309.1 22 306.5 21.5C304 21.1 302.3 20.1 304 19Z" fill="#FFA500"/><path d="M321.7 17.7C322.6 17 328.1 15.6 331.9 15.2C335.7 14.8 341.6 14.7 344.5 15.2C347.5 15.7 350.4 17.5 349.6 18.4C348.8 19.2 343.3 20.1 339.5 20.3C335.7 20.5 329.8 20.1 326.8 19.6C323.8 19.2 320.9 18.5 321.7 17.7Z" fill="#FFE100"/><path d="M331.9 24.1C332.7 23.4 337.8 23 339.5 23.4C341.2 23.9 342.8 26 342 26.6C341.2 27.2 336.1 27.7 334.4 27.2C332.7 26.8 331 24.7 331.9 24.1Z" fill="#FFA500"/><path d="M331.9 26.6C333.1 25.8 339 25.1 342 25.3C345 25.5 349.2 26.9 349.6 27.9C350 28.8 347.1 30.6 344.5 31C342 31.5 336.5 31.1 334.4 30.4C332.3 29.7 330.6 27.4 331.9 26.6Z" fill="#FF4500"/><path d="M357.2 22.8C358.3 22.1 363.5 21.7 366.1 22.2C368.6 22.6 371.6 24.2 372.4 25.3C373.2 26.5 372.4 28.4 371.1 29.1C369.9 29.9 366.7 30.2 364.8 29.8C362.9 29.3 361 27.8 359.7 26.6C358.5 25.4 356.1 23.5 357.2 22.8Z" fill="#FFE100"/><path d="M339.5 8.2C343.1 7.6 354.7 8 361 8.2C367.3 8.4 376.4 8.8 377.5 9.5C378.5 10.2 371.6 11.9 367.3 12.7C363.1 13.4 356.8 14 352.1 13.9C347.5 13.8 341.6 13 339.5 12C337.4 11.1 335.9 8.9 339.5 8.2Z" fill="#DEB887"/><path d="M363.5 14.9L369.9 12.7L373.7 11.1L380 10.1L392.7 9.5L405.3 8.4L418 8.1L428.1 9.5L433.2 10.8L440.8 10.8L435.7 12.7L433.2 13.9L432.6 15.8L431.3 17.7L431.3 19L429.4 20.9L428.1 22.8L428.1 24.7L425.6 25.1L423.1 27.2L418 27.7L414.2 29.1L410.4 30.7L406 31L404.7 32.3L403.4 34.2L402.2 36.1L400.3 38.1L397.7 37.2L395.2 36.7L392.7 34.8L390.8 32.9L389.5 31L388.2 29.1L388.9 27.2L390.1 26L387 25.3L387 23.4L385.7 21.5L383.2 19.3L380 17.7L374.9 17.5L369.2 17.7L366.1 16.5Z" fill="#DEB887"/><path d="M368.6 13.3C369.7 12.6 374.9 11.4 380 10.8C385.1 10.2 392.2 9.9 399 9.8C405.8 9.6 415.3 9.6 420.5 10.1C425.8 10.6 428.8 11.4 430.7 12.7C432.6 13.9 432.4 15.9 431.9 17.7C431.5 19.5 429.4 22 428.1 23.4C426.9 24.9 426.9 25.7 424.3 26.6C421.8 27.5 415.9 27.9 412.9 28.8C410 29.6 408.3 30.5 406.6 31.7C404.9 32.8 403.9 34.5 402.8 35.5C401.7 36.4 401.3 37.5 400.3 37.4C399.2 37.3 397.7 36 396.5 34.8C395.2 33.7 393.9 31.9 392.7 30.4C391.4 28.9 389.7 27.4 388.9 26C388 24.5 388.7 23 387.6 21.5C386.5 20.1 384.9 18.2 382.5 17.1C380.2 16 376 15.8 373.7 15.2C371.3 14.6 367.5 14 368.6 13.3Z" fill="#F5E6BE"/><path d="M374.9 14.6C374.9 13.8 380.8 12.6 385.1 12C389.3 11.4 394.8 11.1 400.3 11C405.8 11 413.6 11.1 418 11.7C422.4 12.2 425.4 13.2 426.9 14.6C428.3 15.9 427.5 17.9 426.9 19.6C426.2 21.3 425.4 23.4 423.1 24.7C420.7 26 415.7 26.3 412.9 27.2C410.2 28.2 408.2 29.3 406.6 30.4C405 31.5 404.5 32.7 403.4 33.6C402.4 34.4 401.2 35.6 400.3 35.5C399.3 35.4 398.7 34 397.7 32.9C396.8 31.9 395.6 30.5 394.6 29.1C393.5 27.8 392.1 26.2 391.4 24.7C390.7 23.2 391.2 21.6 390.1 20.3C389.1 18.9 387.6 17.4 385.1 16.5C382.5 15.5 374.9 15.3 374.9 14.6Z" fill="#9AB932"/><path d="M381.3 14.6C381.3 13.8 386.5 13 390.1 12.7C393.7 12.3 398.4 12.2 402.8 12.3C407.2 12.4 413.4 12.6 416.7 13.3C420.1 14 422.1 15.2 423.1 16.5C424 17.7 423.3 19.5 422.4 20.9C421.6 22.3 420 24 418 25C416 25.9 412.5 25.9 410.4 26.6C408.3 27.3 406.7 28.3 405.3 29.1C404 30 403.1 31.6 402.2 31.7C401.2 31.8 400.6 30.7 399.6 29.8C398.7 28.8 397.4 27.3 396.5 26C395.5 24.6 395 23 393.9 21.5C392.9 20.1 392.2 18.3 390.1 17.1C388 15.9 381.3 15.3 381.3 14.6Z" fill="#C0F064"/><path d="M426.9 30.4C427.7 30 431.3 30.2 433.2 30.4C435.1 30.6 438.5 31.1 438.3 31.7C438.1 32.2 433.6 33.4 431.9 33.6C430.2 33.7 429 33.2 428.1 32.7C427.3 32.2 426 30.8 426.9 30.4Z" fill="#FFA500"/></g><path d="M59.5 57L62.1 55.1L65.2 54.7L67.1 55.4L66.5 57L64.6 57.6L64 58.9L66.5 60.2L67.8 62.1L67.8 64L68.4 65.9L67.8 67.1L65.2 67.5L62.7 66.8L61.8 65.2L62.7 63L61.4 61.1L60.2 59.5Z" fill="#FFB6C1"/><rect x="0" y="-1.3" width="456" height="6.3" fill="#FFFFFF"/><rect x="0" y="223.2" width="456" height="6.1" fill="#FFFFFF"/><rect x="8.2" y="190.9" width="10" height="6.8" fill="#FFFFFF"/><path d="M-69.2 194.2L-58.9 194.2L-58.9 190.9L1.3 190.9L1.3 201.4L-69.2 201.4Z" fill="#FFFFFF"/><path d="M386.8 194.2L397.1 194.2L397.1 190.9L457.3 190.9L457.3 201.4L386.8 201.4Z" fill="#FFFFFF"/><path d="M5.3 212.8L7.3 212.8L5.3 215.3Z" fill="#9370DB"/><path d="M36.7 212.8L38.8 212.8L36.7 215.3Z" fill="#9370DB"/></g><g clip-path="url(#mapc)"><use href="#coast" fill="none" stroke="#000" stroke-width="1.25" stroke-linejoin="round"/></g><rect x="0.5" y="0.5" width="454.8" height="227.6" fill="none" stroke="#333" stroke-width="1"/></g><g transform="translate(6,627)"><g clip-path="url(#mapc)" shape-rendering="crispEdges"><rect x="0" y="0" width="456" height="228" fill="#9AB932"/><path d="M0 5.1L456 5.1L456 8.9L380 7.6L304 11.4L293.9 17.7L285 12.7L222.9 7.6L152 10.1L76 9.5L0 9.5Z" fill="#F5E6BE"/><path d="M0 5.1L15.2 5.1L15.2 9.5L0 9.5Z" fill="#C0F064"/><path d="M304 5.1L456 5.1L456 8.5L380 7.6L304 7.6Z" fill="#9AB932"/><path d="M152 5.7C156.2 5.1 171 5.3 177.3 5.7C183.7 6.1 191.1 7.5 190 8.2C188.9 9 177.3 9.9 171 10.1C164.7 10.3 155.2 10.2 152 9.5C148.8 8.8 147.8 6.3 152 5.7Z" fill="#DEB887"/><path d="M282.5 8.9C283.7 7.7 288.2 7.2 291.3 7C294.5 6.8 299.4 6.6 301.5 7.6C303.6 8.5 304.6 11 304 12.7C303.4 14.4 300.2 17 297.7 17.7C295.1 18.5 291.1 17.7 288.8 17.1C286.5 16.5 284.8 15.3 283.7 13.9C282.7 12.6 281.2 10 282.5 8.9Z" fill="#DEB887"/><path d="M184.9 4.4C189.8 3 210.3 3.8 221.7 3.8C233.1 3.8 243 3.8 253.3 4.4C263.7 5.1 278.2 5.8 283.7 7.6C289.2 9.4 288.2 12.9 286.3 15.2C284.4 17.5 277.8 20.8 272.3 21.5C266.8 22.3 260.7 20.3 253.3 19.6C245.9 19 235.4 18.4 228 17.7C220.6 17.1 214.9 16.7 209 15.8C203.1 15 196.5 14.6 192.5 12.7C188.5 10.8 180.1 5.9 184.9 4.4Z" fill="#C0F064"/><path d="M192.5 5.7C196.5 4.5 212.6 4.5 221.7 4.4C230.7 4.3 238.8 4.3 247 5.1C255.2 5.8 266.6 7 271.1 8.9C275.5 10.8 275.3 14.7 273.6 16.5C271.9 18.3 266.4 19.3 260.9 19.6C255.4 19.9 247 18.9 240.7 18.4C234.3 17.8 228.4 17.1 222.9 16.5C217.4 15.8 212 15.4 207.7 14.6C203.5 13.7 200.1 12.9 197.6 11.4C195.1 9.9 188.5 6.9 192.5 5.7Z" fill="#20B2AA"/><path d="M205.2 8.2C206.3 7.4 216.6 7 221.7 7C226.7 7 230.7 7.5 235.6 8.2C240.5 9 248.7 10.3 250.8 11.4C252.9 12.5 251.6 14.2 248.3 14.6C244.9 14.9 236 13.7 230.5 13.3C225 12.9 219.6 12.9 215.3 12C211.1 11.2 204.1 9.1 205.2 8.2Z" fill="#B0E0E6"/><path d="M258.4 7C260.7 6.8 268.5 7.8 271.1 8.9C273.6 9.9 274.9 12.7 273.6 13.3C272.3 13.9 266.2 13.2 263.5 12.7C260.7 12.1 258 11.1 257.1 10.1C256.3 9.2 256.1 7.2 258.4 7Z" fill="#C0F064"/><path d="M2.5 8.9L76 8.9L126.7 9.2L152 9.9L171 12.4L190 15.6L209 16.8L228 18.1L253.3 20L285 22.5L285 27.4L272.3 29.9L253.3 31.8L234.3 33.7L215.3 32.4L202.7 29.9L190 26.7L158.3 25.5L145.7 24.8L141.9 31.2L120.3 31.2L110.2 29.5L76 29.5L63.3 28.6L54.5 22.9L38 20.4L25.3 19.8L2.5 18.5Z" fill="#C0F064"/><path d="M6.3 9L76 9L126.7 9.4L152 10L171 12.5L190 15.7L209 17L228 18.2L253.3 20.1L283.7 22.7L283.7 26.6L272.3 29.1L253.3 31L234.3 32.9L215.3 31.7L202.7 29.1L190 26L158.3 24.7L145.7 24.1L141.9 30.4L120.3 30.4L110.2 28.8L76 28.8L63.3 27.9L54.5 22.2L38 19.6L25.3 19L6.3 17.7Z" fill="#20B2AA"/><path d="M10.1 9.1L76 9.1L126.7 9.5L152 10.1L171 12.7L190 15.8L209 17.1L228 18.4L253.3 20.3L282.5 22.8L282.5 26L272.3 28.5L253.3 30.4L234.3 32.3L215.3 31L202.7 28.5L190 25.3L158.3 24.1L145.7 23.4L141.9 29.8L120.3 29.8L110.2 28.1L76 28.1L63.3 27.2L54.5 21.5L38 19L25.3 18.4L10.1 17.1Z" fill="#7896F0"/><path d="M13.9 9.5L76 9.5L126.7 9.9L152 10.5L171 13L190 16.2L209 17.5L228 18.7L253.3 20.6L281.2 23.2L281.2 25.1L272.3 27.6L253.3 29.5L234.3 31.4L215.3 30.1L202.7 27.6L190 24.4L158.3 23.2L145.7 22.5L141.9 28.9L120.3 28.9L110.2 27.2L76 27.2L63.3 26.3L54.5 20.6L38 18.1L25.3 17.5L13.9 16.2Z" fill="#4169E1"/><path d="M17.7 10.4L76 10.4L126.7 10.8L152 11.4L171 13.9L190 17.1L209 18.4L228 19.6L253.3 21.5L276.1 24.1L276.1 23.7L272.3 26.2L253.3 28.1L234.3 30L215.3 28.8L202.7 26.2L190 23.1L158.3 21.8L145.7 21.2L141.9 27.5L120.3 27.5L110.2 25.8L76 25.8L63.3 25L54.5 19.3L38 16.7L25.3 16.1L17.7 14.8Z" fill="#0000CD"/><path d="M27.9 10.8C31 10 43.5 10.2 50.7 10.1C57.8 10.1 64.8 10.3 70.9 10.6C77.1 11 84.9 11.4 87.4 12.3C89.9 13.2 89.7 15.2 86.1 16.1C82.5 16.9 72.2 17.2 65.9 17.4C59.5 17.5 53.8 17.2 48.1 16.7C42.4 16.3 35 15.6 31.7 14.6C28.3 13.6 24.7 11.5 27.9 10.8Z" fill="#9370DB"/><path d="M67.1 15.5C69.2 14.7 76.2 15.1 81.1 15.5C85.9 15.8 91.2 16.6 96.3 17.4C101.3 18.1 109.1 18.7 111.5 19.9C113.8 21.1 113.2 23.6 110.2 24.6C107.2 25.5 99.2 25.5 93.7 25.6C88.2 25.7 81.5 25.8 77.3 25C73 24.1 70.1 21.8 68.4 20.3C66.7 18.7 65 16.3 67.1 15.5Z" fill="#9370DB"/><path d="M112.7 10.5C114.8 9.8 123.3 9.9 126.7 10.5C130 11.1 133.4 13 133 13.9C132.6 14.9 127.3 16 124.1 16.2C121 16.4 115.9 15.9 114 14.9C112.1 14 110.6 11.3 112.7 10.5Z" fill="#9370DB"/><path d="M148.2 13.9C151.2 12.9 164 14 171 14.6C178 15.1 185.1 16 190 17.1C194.9 18.2 199.9 19.7 200.1 20.9C200.3 22.1 196.1 23.6 191.3 24.1C186.4 24.5 177.3 24 171 23.4C164.7 22.9 157.1 22.5 153.3 20.9C149.5 19.3 145.2 15 148.2 13.9Z" fill="#9370DB"/><path d="M228 19C229.9 17.9 236 18.3 240.7 18.6C245.3 19 253.5 19.9 255.9 21.2C258.2 22.4 257.1 25.2 254.6 26.3C252.1 27.5 244.9 28 240.7 27.9C236.4 27.7 231.4 26.8 229.3 25.3C227.2 23.9 226.1 20.1 228 19Z" fill="#9370DB"/><path d="M131.7 12.7C133 11.8 138.9 11.9 141.9 12.3C144.8 12.7 149 14.2 149.5 15.2C149.9 16.2 146.9 17.9 144.4 18.4C141.9 18.8 136.4 18.7 134.3 17.7C132.2 16.8 130.5 13.6 131.7 12.7Z" fill="#4169E1"/><path d="M202.7 17.1C204.4 16.3 211.5 16.8 215.3 17.4C219.1 17.9 225 19.3 225.5 20.3C225.9 21.3 221.2 23.1 217.9 23.4C214.5 23.8 207.7 23.2 205.2 22.2C202.7 21.1 201 17.9 202.7 17.1Z" fill="#4169E1"/><path d="M116.5 19C117.6 17.7 122.9 17.9 126.7 18.4C130.5 18.8 136.8 20.2 139.3 21.5C141.9 22.9 143.1 25.5 141.9 26.6C140.6 27.7 135.3 28 131.7 27.9C128.1 27.8 122.9 27.4 120.3 26C117.8 24.5 115.5 20.3 116.5 19Z" fill="#7896F0"/><path d="M121.6 21.5C122 20.8 127.1 20.5 129.2 20.9C131.3 21.3 134.7 23.3 134.3 24.1C133.8 24.8 128.8 25.8 126.7 25.3C124.6 24.9 121.2 22.3 121.6 21.5Z" fill="#20B2AA"/><path d="M200.1 27.2C202.9 26.9 210.3 27.6 215.3 27.9C220.4 28.2 227.2 28.4 230.5 29.1C233.9 29.9 236.9 31.5 235.6 32.3C234.3 33.1 227.6 34.2 222.9 34.2C218.3 34.2 211.7 33 207.7 32.3C203.7 31.6 200.1 30.6 198.9 29.8C197.6 28.9 197.4 27.6 200.1 27.2Z" fill="#4169E1"/><path d="M293.9 13.9C295.6 12.5 301 12.5 304 12.7C307 12.9 310.8 13.1 311.6 15.2C312.4 17.3 311.2 23.6 309.1 25.3C307 27 301.5 26 298.9 25.3C296.4 24.7 294.7 23.4 293.9 21.5C293 19.6 292.2 15.4 293.9 13.9Z" fill="#4169E1"/><path d="M288.8 20.9C289.6 20 296.1 16.9 298.9 15.8C301.7 14.8 313.4 11.1 316.7 10.1C320 9.1 328.1 6.2 331.9 5.7C335.7 5.2 350.1 5 354.7 5.1C359.2 5.1 374.4 5.6 377.5 6.3C380.5 7.1 383.9 11 385.1 12.7C386.2 14.3 388.4 20.5 388.9 22.8C389.4 25.1 390.4 33.1 390.1 35.5C389.9 37.9 387.3 45.4 386.3 46.9C385.3 48.3 381.4 50 380 50C378.6 50 374.2 46.8 372.4 46.9C370.6 46.9 364.3 50.3 362.3 50.7C360.2 51 354.2 51 352.1 50.7C350.1 50.3 343.8 48.1 342 46.9C340.2 45.6 335.4 39.6 334.4 38C333.4 36.4 333.6 31.3 331.9 30.4C330.1 29.4 319.7 28.9 316.7 28.5C313.6 28.1 304 26.3 301.5 26C298.9 25.6 292.6 25.2 291.3 24.7C290.1 24.2 288 21.8 288.8 20.9Z" fill="#C0F064"/><path d="M290.1 21.5C290.8 20.8 297.4 17.5 300.2 16.5C303 15.4 314.8 11.8 317.9 10.8C321.1 9.8 328.2 6.8 331.9 6.3C335.5 5.8 350.2 5.6 354.7 5.7C359.1 5.8 373.3 6.3 376.2 7C379.1 7.7 382.7 11.1 383.8 12.7C384.9 14.2 387.1 20.5 387.6 22.8C388.1 25.1 389.1 33.2 388.9 35.5C388.6 37.7 386 44.3 385.1 45.6C384.2 46.9 381.3 48.3 380 48.1C378.7 48 374.2 44.2 372.4 44.3C370.6 44.5 364.3 48.9 362.3 49.4C360.2 49.9 354 49.8 352.1 49.4C350.2 49 344.9 46.8 343.3 45.6C341.6 44.4 336.7 39 335.7 37.4C334.7 35.8 335 30.7 333.1 29.8C331.2 28.8 319.8 28.3 316.7 27.9C313.5 27.4 303.9 25.7 301.5 25.3C299.1 25 293.7 24.4 292.6 24.1C291.5 23.7 289.3 22.3 290.1 21.5Z" fill="#20B2AA"/><path d="M291.3 21.5C292.1 20.9 298.7 18.1 301.5 17.1C304.3 16.1 315.9 12.4 319.2 11.4C322.5 10.4 330.9 7.7 334.4 7.2C337.9 6.7 350.6 6.3 354.7 6.3C358.7 6.4 372.1 7 374.9 7.6C377.7 8.2 381.4 11.1 382.5 12.7C383.7 14.2 385.8 20.5 386.3 22.8C386.8 25.1 387.9 33.3 387.6 35.5C387.3 37.6 384.6 43.3 383.8 44.3C383 45.4 380.9 46.5 380 46.2C379.1 46 375.9 42.9 374.9 41.8C373.9 40.7 371.4 36.1 369.9 35.5C368.3 34.8 361.5 35.2 359.7 35.5C358 35.7 353.7 38 352.1 38C350.6 38 346.1 36 344.5 35.5C343 35 337.9 33.6 336.9 32.9C335.9 32.3 336.4 29.7 334.4 29.1C332.4 28.5 320 27.4 316.7 27C313.4 26.5 303.7 25.1 301.5 24.7C299.2 24.3 294.9 23.8 293.9 23.4C292.9 23.1 290.6 22.2 291.3 21.5Z" fill="#0000CD"/><path d="M374.9 15.2C376.2 13.5 381.9 15.2 383.8 17.7C385.7 20.3 386.1 26.6 386.3 30.4C386.5 34.2 385.9 38.2 385.1 40.5C384.2 42.9 382.5 44.8 381.3 44.3C380 43.9 378.3 40.7 377.5 38C376.6 35.3 376.6 31.7 376.2 27.9C375.8 24.1 373.7 16.9 374.9 15.2Z" fill="#4169E1"/><path d="M293.9 21.2C294.1 19.8 300.2 17.7 304 16.5C307.8 15.2 312.7 13.8 316.7 13.6C320.7 13.3 326 13.3 328.1 14.8C330.2 16.4 331.2 21 329.3 22.8C327.4 24.6 321.1 25.3 316.7 25.6C312.2 25.8 306.5 25.1 302.7 24.3C298.9 23.6 293.7 22.5 293.9 21.2Z" fill="#9370DB"/><path d="M326.8 12.7C327.9 11.2 331 9.4 334.4 8.9C337.8 8.3 344.5 8.6 347.1 9.5C349.6 10.4 350.4 12.7 349.6 14.6C348.8 16.5 345 19.7 342 20.9C339 22.1 334.2 22.1 331.9 21.5C329.5 21 328.9 19.2 328.1 17.7C327.2 16.3 325.7 14.1 326.8 12.7Z" fill="#9370DB"/><path d="M342 20.9C344.1 20.1 350 20.1 354.7 20.3C359.3 20.5 366.3 20.9 369.9 22.2C373.5 23.4 375.8 26 376.2 27.9C376.6 29.8 375.1 32.6 372.4 33.6C369.7 34.5 363.7 34.1 359.7 33.6C355.7 33 351.3 31.8 348.3 30.4C345.4 29 343.1 26.9 342 25.3C340.9 23.8 339.9 21.7 342 20.9Z" fill="#9370DB"/><path d="M354.7 9.5C356.8 8.6 366.1 8.3 369.9 8.9C373.7 9.4 377.5 11.4 377.5 12.7C377.5 13.9 373.2 16.1 369.9 16.5C366.5 16.8 359.7 15.7 357.2 14.6C354.7 13.4 352.6 10.4 354.7 9.5Z" fill="#9370DB"/><path d="M336.9 32.3C338.2 30.7 343.5 30.3 347.1 30.4C350.7 30.5 355.5 31.7 358.5 32.9C361.4 34.2 364.2 36 364.8 38C365.4 40 364 43.3 362.3 45C360.6 46.7 357.2 48 354.7 48.1C352.1 48.2 349.6 47 347.1 45.6C344.5 44.2 341.2 42.1 339.5 39.9C337.8 37.7 335.7 33.9 336.9 32.3Z" fill="#4169E1"/><path d="M339.5 35.5C340.7 34.5 345.4 33.4 348.3 33.6C351.3 33.8 355.3 35.4 357.2 36.7C359.1 38.1 360.4 40.3 359.7 41.8C359.1 43.3 355.7 45.4 353.4 45.6C351.1 45.8 347.9 44.1 345.8 43.1C343.7 42 341.8 40.5 340.7 39.3C339.7 38 338.2 36.4 339.5 35.5Z" fill="#7896F0"/><path d="M344.5 39.9C344.7 39.1 349.2 38.3 350.9 38.6C352.6 39 354.9 41 354.7 41.8C354.5 42.6 351.3 44 349.6 43.7C347.9 43.4 344.3 40.7 344.5 39.9Z" fill="#B0E0E6"/><path d="M350.9 16.2C351.3 16 353 16 353.4 16.2C353.8 16.4 353.8 17.3 353.4 17.5C353 17.7 351.3 17.7 350.9 17.5C350.4 17.3 350.4 16.4 350.9 16.2Z" fill="#FFE100"/><path d="M-38 5.7C-34 4.2 -20.3 5.8 -12.7 6.3C-5.1 6.9 3.6 7.4 7.6 8.9C11.6 10.3 12.2 12.9 11.4 15.2C10.6 17.5 6.5 20.6 2.5 22.8C-1.5 25 -8 27.1 -12.7 28.5C-17.3 29.9 -21.7 31.6 -25.3 31C-28.9 30.5 -32.3 28 -34.2 25.3C-36.1 22.7 -36.1 18.5 -36.7 15.2C-37.4 11.9 -42 7.2 -38 5.7Z" fill="#C0F064"/><path d="M418 5.7C422 4.2 435.7 5.8 443.3 6.3C450.9 6.9 459.6 7.4 463.6 8.9C467.6 10.3 468.2 12.9 467.4 15.2C466.6 17.5 462.5 20.6 458.5 22.8C454.5 25 448 27.1 443.3 28.5C438.7 29.9 434.3 31.6 430.7 31C427.1 30.5 423.7 28 421.8 25.3C419.9 22.7 419.9 18.5 419.3 15.2C418.6 11.9 414 7.2 418 5.7Z" fill="#C0F064"/><path d="M-36.7 6.3C-32.9 5 -19.4 6.4 -12.7 7C-5.9 7.5 0.6 8.1 3.8 9.5C7 10.9 7 13.1 6.3 15.2C5.7 17.3 3.2 20.2 0 22.2C-3.2 24.2 -8.4 26 -12.7 27.2C-16.9 28.5 -22 30.1 -25.3 29.8C-28.7 29.5 -31.2 27.8 -32.9 25.3C-34.6 22.9 -34.8 18.4 -35.5 15.2C-36.1 12 -40.5 7.7 -36.7 6.3Z" fill="#20B2AA"/><path d="M419.3 6.3C423.1 5 436.6 6.4 443.3 7C450.1 7.5 456.6 8.1 459.8 9.5C463 10.9 463 13.1 462.3 15.2C461.7 17.3 459.2 20.2 456 22.2C452.8 24.2 447.6 26 443.3 27.2C439.1 28.5 434 30.1 430.7 29.8C427.3 29.5 424.8 27.8 423.1 25.3C421.4 22.9 421.2 18.4 420.5 15.2C419.9 12 415.5 7.7 419.3 6.3Z" fill="#20B2AA"/><path d="M421.8 7.6C425 6.4 437.9 7.8 443.3 8.2C448.7 8.7 452.1 9 454.1 10.1C456.1 11.3 455.9 13.3 455.4 15.2C454.8 17.1 453.4 19.7 450.9 21.5C448.5 23.3 444 24.9 440.8 26C437.6 27 434.3 28.4 431.9 27.9C429.6 27.3 428.1 24.9 426.9 22.8C425.6 20.7 425.2 17.7 424.3 15.2C423.5 12.7 418.6 8.8 421.8 7.6Z" fill="#0000CD"/><path d="M426.9 9.5C429.2 8.2 439.1 9.6 443.3 10.1C447.6 10.7 450.9 11.4 452.2 12.7C453.5 13.9 452.8 16 450.9 17.7C449 19.4 443.8 21.9 440.8 22.8C437.8 23.8 435.1 24.3 433.2 23.4C431.3 22.6 430.5 20.1 429.4 17.7C428.3 15.4 424.5 10.8 426.9 9.5Z" fill="#9370DB"/><path d="M-46.9 30.4C-43.9 29.6 -32.3 31.9 -25.3 31.7C-18.4 31.5 -10.6 30.2 -5.1 29.1C0.4 28.1 5.1 24.7 7.6 25.3C10.1 26 11 30.4 10.1 32.9C9.3 35.5 6.8 38.8 2.5 40.5C-1.7 42.2 -10.1 43.1 -15.2 43.1C-20.3 43.1 -23.2 41.6 -27.9 40.5C-32.5 39.5 -39.9 38.4 -43.1 36.7C-46.2 35 -49.8 31.2 -46.9 30.4Z" fill="#F5E6BE"/><path d="M409.1 30.4C412.1 29.6 423.7 31.9 430.7 31.7C437.6 31.5 445.4 30.2 450.9 29.1C456.4 28.1 461.1 24.7 463.6 25.3C466.1 26 467 30.4 466.1 32.9C465.3 35.5 462.8 38.8 458.5 40.5C454.3 42.2 445.9 43.1 440.8 43.1C435.7 43.1 432.8 41.6 428.1 40.5C423.5 39.5 416.1 38.4 412.9 36.7C409.8 35 406.2 31.2 409.1 30.4Z" fill="#F5E6BE"/><path d="M-44.3 29.8C-42.2 28.6 -33.1 28.2 -27.9 28.1C-22.6 28 -17.3 29.1 -12.7 29.1C-8 29.2 -3.4 28.3 0 28.5C3.4 28.7 6.8 29.1 7.6 30.4C8.4 31.7 8 34.8 5.1 36.1C2.1 37.4 -4.6 37.8 -10.1 38C-15.6 38.2 -22.8 37.9 -27.9 37.4C-32.9 36.8 -37.8 36.1 -40.5 34.8C-43.3 33.6 -46.4 30.9 -44.3 29.8Z" fill="#DEB887"/><path d="M411.7 29.8C413.8 28.6 422.9 28.2 428.1 28.1C433.4 28 438.7 29.1 443.3 29.1C448 29.2 452.6 28.3 456 28.5C459.4 28.7 462.8 29.1 463.6 30.4C464.4 31.7 464 34.8 461.1 36.1C458.1 37.4 451.4 37.8 445.9 38C440.4 38.2 433.2 37.9 428.1 37.4C423.1 36.8 418.2 36.1 415.5 34.8C412.7 33.6 409.6 30.9 411.7 29.8Z" fill="#DEB887"/><path d="M0 24.1C4.2 22.9 15.8 23.2 25.3 23.4C34.8 23.6 48.6 24.6 57 25.3C65.4 26.1 72.8 26.9 76 27.9C79.2 28.8 80.2 30.4 76 31C71.8 31.7 59.1 31.8 50.7 31.7C42.2 31.6 33.8 30.6 25.3 30.4C16.9 30.2 4.2 31.5 0 30.4C-4.2 29.3 -4.2 25.2 0 24.1Z" fill="#F5E6BE"/><path d="M-10.1 25.3C-8.9 23.8 -3.8 22.6 0 22.2C3.8 21.7 9.9 21.4 12.7 22.8C15.4 24.2 16.3 27.7 16.5 30.4C16.7 33.1 15.8 37.5 13.9 39.3C12 41.1 7.8 41.4 5.1 41.2C2.3 41 -0.4 39.6 -2.5 38C-4.6 36.4 -6.3 33.8 -7.6 31.7C-8.9 29.6 -11.4 26.9 -10.1 25.3Z" fill="#FFE100"/><path d="M445.9 25.3C447.1 23.8 452.2 22.6 456 22.2C459.8 21.7 465.9 21.4 468.7 22.8C471.4 24.2 472.3 27.7 472.5 30.4C472.7 33.1 471.8 37.5 469.9 39.3C468 41.1 463.8 41.4 461.1 41.2C458.3 41 455.6 39.6 453.5 38C451.4 36.4 449.7 33.8 448.4 31.7C447.1 29.6 444.6 26.9 445.9 25.3Z" fill="#FFE100"/><path d="M-62.1 43.1C-59.7 41.3 -53.8 39.5 -48.1 38.6C-42.4 37.8 -34.2 37.7 -27.9 38C-21.5 38.3 -15.6 39.7 -10.1 40.5C-4.6 41.4 2.1 41 5.1 43.1C8 45.2 8.9 50.8 7.6 53.2C6.3 55.6 2.1 56.7 -2.5 57.6C-7.2 58.6 -14.4 59 -20.3 58.9C-26.2 58.8 -32.5 57.8 -38 57C-43.5 56.2 -49.2 55.1 -53.2 53.8C-57.2 52.6 -60.6 51.2 -62.1 49.4C-63.5 47.6 -64.4 44.9 -62.1 43.1Z" fill="#F5E6BE"/><path d="M393.9 43.1C396.3 41.3 402.2 39.5 407.9 38.6C413.6 37.8 421.8 37.7 428.1 38C434.5 38.3 440.4 39.7 445.9 40.5C451.4 41.4 458.1 41 461.1 43.1C464 45.2 464.9 50.8 463.6 53.2C462.3 55.6 458.1 56.7 453.5 57.6C448.8 58.6 441.6 59 435.7 58.9C429.8 58.8 423.5 57.8 418 57C412.5 56.2 406.8 55.1 402.8 53.8C398.8 52.6 395.4 51.2 393.9 49.4C392.5 47.6 391.6 44.9 393.9 43.1Z" fill="#F5E6BE"/><path d="M380 63.3C381.3 62.5 390.6 61.4 395.2 61.4C399.8 61.4 406.6 62.6 407.9 63.3C409.1 64.1 406.2 65.3 402.8 65.9C399.4 66.4 391.4 66.9 387.6 66.5C383.8 66.1 378.7 64.2 380 63.3Z" fill="#F5E6BE"/><path d="M372.4 80.4C375.4 79 385.5 78.6 392.7 78.5C399.8 78.4 408.3 79 415.5 79.8C422.6 80.6 432.8 82 435.7 83.6C438.7 85.2 437 88.1 433.2 89.3C429.4 90.5 420.1 90.5 412.9 90.6C405.8 90.7 396.5 90.5 390.1 89.9C383.8 89.4 377.9 89 374.9 87.4C372 85.8 369.4 81.9 372.4 80.4Z" fill="#C0F064"/><path d="M149.5 78.5C149.2 77.8 157.8 70.2 159.6 68.4C161.4 66.6 165.4 62.3 167.2 60.8C169 59.3 176.6 55 177.3 53.2C178.1 51.4 174.2 44.8 174.8 43.1C175.4 41.3 180.2 36.5 183.7 35.5C187.1 34.5 203.3 33.2 209 32.9C214.7 32.7 234.3 32.7 240.7 32.9C247 33.2 266.6 35 272.3 35.5C278 36 293.2 36.7 297.7 38C302.1 39.3 314 45.3 316.7 48.1C319.3 50.9 322.7 62.8 324.3 65.9C325.8 68.9 331.6 76.3 331.9 78.5C332.1 80.8 328.1 86.9 326.8 88.7C325.5 90.4 321.5 94.9 319.2 96.3C316.9 97.6 307.4 101.3 304 102C300.6 102.6 288.2 102.5 285 102.6C281.8 102.7 273.9 103.2 272.3 102.6C270.8 102 270.1 98.2 269.8 96.3C269.5 94.4 269.4 85.8 269.2 83.6C268.9 81.4 268.3 76 267.3 74.7C266.2 73.5 261.1 71.4 258.4 70.9C255.7 70.5 244.2 70 240.7 69.9C237.1 69.9 226 70.1 222.9 70.3C219.9 70.5 212.3 71.2 210.3 71.6C208.2 71.9 206 73.8 202.7 74.1C199.4 74.4 181.4 73.9 177.3 74.1C173.3 74.3 164.9 75.6 162.1 76C159.3 76.4 149.7 79.3 149.5 78.5Z" fill="#F5E6BE"/><path d="M207.7 51.3C209.6 50.5 214.9 50.2 217.9 50.7C220.8 51.1 224.6 52.6 225.5 53.8C226.3 55.1 225 57.4 222.9 58.3C220.8 59.1 215.5 59.3 212.8 58.9C210.1 58.5 207.3 57 206.5 55.7C205.6 54.5 205.8 52.1 207.7 51.3Z" fill="#DEB887"/><path d="M278.7 83C280.8 82.1 287.5 81.6 291.3 81.7C295.1 81.8 300.2 82.4 301.5 83.6C302.7 84.8 301.5 87.7 298.9 88.7C296.4 89.6 289.6 89.6 286.3 89.3C282.9 89 279.9 87.8 278.7 86.8C277.4 85.7 276.6 83.8 278.7 83Z" fill="#DEB887"/><path d="M288.8 72.2C290.5 71.1 296.4 70.3 298.9 70.9C301.5 71.6 304.4 74.5 304 76C303.6 77.5 298.9 79.6 296.4 79.8C293.9 80 290.1 78.5 288.8 77.3C287.5 76 287.1 73.3 288.8 72.2Z" fill="#9AB932"/><path d="M222.9 30.4C224.4 29.4 231 28.8 234.3 29.1C237.7 29.4 243 31.2 243.2 32.3C243.4 33.4 238.6 35 235.6 35.5C232.6 35.9 227.6 35.7 225.5 34.8C223.4 34 221.5 31.3 222.9 30.4Z" fill="#C0F064"/><path d="M131.7 83.6C134 82.1 146.4 81 149.5 81.1C152.5 81.1 159.3 83.8 162.1 84.2C164.9 84.7 173.5 85.4 177.3 85.5C181.1 85.6 196.7 84.9 200.1 85.1C203.6 85.3 210 86.3 211.5 87.4C213.1 88.5 214.8 94.2 215.3 96.3C215.8 98.3 216.3 105.5 216.6 107.7C216.9 109.8 218.5 116.4 217.9 117.8C217.2 119.2 211.8 121.3 210.3 121.6C208.7 121.9 204.3 121 202.7 120.3C201 119.6 196.3 115.3 193.8 114.6C191.3 114 180 114.4 177.3 114C174.7 113.6 169.2 110.7 167.2 110.2C165.2 109.7 159.6 108.8 157.1 108.9C154.5 109.1 144.5 111.7 141.9 111.5C139.2 111.2 132 107.9 130.5 106.4C128.9 104.9 126.5 98.5 126.7 96.3C126.8 94 129.5 85.1 131.7 83.6Z" fill="#F5E6BE"/><ellipse cx="232.2" cy="107.7" rx="6.7" ry="4.3" fill="#F5E6BE"/><ellipse cx="252.1" cy="107.3" rx="5.1" ry="3.8" fill="#F5E6BE"/><ellipse cx="270.4" cy="106.7" rx="6.1" ry="4.3" fill="#F5E6BE"/><ellipse cx="288.8" cy="106.7" rx="5.1" ry="4.3" fill="#F5E6BE"/><path d="M293.9 101.3C296.4 100.4 306.1 99.4 311.6 98.8C317.1 98.2 323.4 97.3 326.8 97.5C330.2 97.7 332.3 98.9 331.9 100.1C331.4 101.2 328.1 103.7 324.3 104.5C320.5 105.3 313.7 105.1 309.1 105.1C304.4 105.1 298.9 105.1 296.4 104.5C293.9 103.9 291.3 102.3 293.9 101.3Z" fill="#F5E6BE"/><path d="M65.9 96.3C66.7 92.5 72.6 88.2 76 86.1C79.4 84 82.8 82.3 86.1 83.6C89.5 84.9 93.9 90.4 96.3 93.7C98.6 97.1 96.7 104.7 100.1 103.9C103.4 103 112.3 89.9 116.5 88.7C120.8 87.4 124.3 92.9 125.4 96.3C126.5 99.6 124.8 105.6 122.9 108.9C121 112.3 118 115.7 114 116.5C110 117.4 103.9 114 98.8 114C93.7 114 88.2 117.4 83.6 116.5C79 115.7 73.9 112.3 70.9 108.9C68 105.6 65 100.1 65.9 96.3Z" fill="#F5E6BE"/><path d="M301.5 104.5C304.4 103.8 313.3 103.8 319.2 103.9C325.1 104 331.4 104.8 336.9 105.1C342.4 105.5 349.4 105.1 352.1 105.8C354.9 106.4 355.9 108.3 353.4 108.9C350.9 109.6 343.1 109.5 336.9 109.6C330.8 109.6 322.6 109.4 316.7 109.2C310.8 109 304 109.1 301.5 108.3C298.9 107.5 298.5 105.2 301.5 104.5Z" fill="#F5E6BE"/><path d="M-15.2 123.5C-13.5 122.4 -8.9 122.8 -5.1 122.9C-1.3 123 5.1 122.9 7.6 124.1C10.1 125.4 10.6 128.6 10.1 130.5C9.7 132.4 8 134.8 5.1 135.5C2.1 136.3 -4.2 136 -7.6 134.9C-11 133.8 -13.9 131.1 -15.2 129.2C-16.5 127.3 -16.9 124.6 -15.2 123.5Z" fill="#F5E6BE"/><path d="M440.8 123.5C442.5 122.4 447.1 122.8 450.9 122.9C454.7 123 461.1 122.9 463.6 124.1C466.1 125.4 466.6 128.6 466.1 130.5C465.7 132.4 464 134.8 461.1 135.5C458.1 136.3 451.8 136 448.4 134.9C445 133.8 442.1 131.1 440.8 129.2C439.5 127.3 439.1 124.6 440.8 123.5Z" fill="#F5E6BE"/><path d="M397.7 58.3C400.7 57.3 410.8 56.6 418 56.4C425.2 56.2 436.6 56 440.8 57C445 58 445 60.8 443.3 62.1C441.6 63.3 435.7 64.3 430.7 64.6C425.6 64.9 418 64.4 412.9 64C407.9 63.5 402.8 63 400.3 62.1C397.7 61.1 394.8 59.2 397.7 58.3Z" fill="#F5E6BE"/><path d="M418 67.1C419.9 66.4 426.7 66.3 430.7 66.5C434.7 66.7 440.4 67.4 442.1 68.4C443.8 69.3 443.1 71.5 440.8 72.2C438.5 72.9 431.7 73 428.1 72.8C424.5 72.6 421 71.9 419.3 70.9C417.6 70 416.1 67.9 418 67.1Z" fill="#F5E6BE"/><path d="M427.5 113.4C428.6 112.4 433.2 112.4 434.5 113.4C435.7 114.3 436.2 118.1 435.1 119.1C434 120.1 429.4 120.4 428.1 119.4C426.9 118.5 426.4 114.4 427.5 113.4Z" fill="#C0F064"/><path d="M55.7 99.4C57 97.5 62.5 97.3 65.9 97.5C69.2 97.7 73.5 98.8 76 100.7C78.5 102.6 81.5 106.7 81.1 108.9C80.6 111.2 76.4 112.4 73.5 114C70.5 115.6 66.7 117.8 63.3 118.4C60 119.1 54 119.4 53.2 117.8C52.4 116.2 57.8 112 58.3 108.9C58.7 105.9 54.5 101.3 55.7 99.4Z" fill="#C0F064"/><path d="M53.2 120.3C55.7 119.4 63.8 119.5 68.4 119.7C73 119.9 79.4 120.3 81.1 121.6C82.8 122.9 81.5 126.2 78.5 127.3C75.6 128.4 67.6 128.2 63.3 127.9C59.1 127.6 54.9 126.7 53.2 125.4C51.5 124.1 50.7 121.3 53.2 120.3Z" fill="#C0F064"/><path d="M319.2 124.1C321.3 122.5 327.2 122.2 331.9 122.2C336.5 122.2 342.8 122.8 347.1 124.1C351.3 125.5 355.9 127.9 357.2 130.5C358.5 133 357.2 137.4 354.7 139.3C352.1 141.2 346.6 142.1 342 141.9C337.4 141.7 330.6 139.8 326.8 138.1C323 136.4 320.5 134.1 319.2 131.7C317.9 129.4 317.1 125.7 319.2 124.1Z" fill="#F5E6BE"/><path d="M36.7 165.3C38.8 164.5 46 164.6 50.7 164.7C55.3 164.8 62.7 165 64.6 165.9C66.5 166.9 64.8 169.5 62.1 170.4C59.3 171.2 52.1 171.1 48.1 171C44.1 170.9 39.9 170.7 38 169.7C36.1 168.8 34.6 166.1 36.7 165.3Z" fill="#C0F064"/><path d="M130.5 165.3C131.7 164.7 137.9 164.7 139.3 165.3C140.8 165.9 140.6 168.5 139.3 169.1C138.1 169.7 133.2 169.7 131.7 169.1C130.3 168.5 129.2 165.9 130.5 165.3Z" fill="#C0F064"/><path d="M150.7 164C152.4 163.2 160.2 163.2 162.1 164C164 164.9 163.8 168.3 162.1 169.1C160.4 169.9 153.9 169.9 152 169.1C150.1 168.3 149 164.9 150.7 164Z" fill="#C0F064"/><path d="M437 159.6C439.1 158 448.4 158.1 450.9 159.6C453.5 161.1 454.3 166.9 452.2 168.5C450.1 170.1 440.8 170.6 438.3 169.1C435.7 167.6 434.9 161.2 437 159.6Z" fill="#C0F064"/><path d="M-7.6 178C-2.1 176.2 13.5 178.2 25.3 178.6C37.2 179 52.8 180 63.3 180.5C73.9 181 80.2 181.5 88.7 181.8C97.1 182.1 110 180.8 114 182.4C118 184 117 189.7 112.7 191.3C108.5 192.9 96.9 192.1 88.7 191.9C80.4 191.7 73.9 190.4 63.3 190C52.8 189.6 37.2 189.5 25.3 189.4C13.5 189.3 -2.1 191.3 -7.6 189.4C-13.1 187.5 -13.1 179.8 -7.6 178Z" fill="#C0F064"/><path d="M448.4 178C453.9 176.2 469.5 178.2 481.3 178.6C493.2 179 508.8 180 519.3 180.5C529.9 181 536.2 181.5 544.7 181.8C553.1 182.1 566 180.8 570 182.4C574 184 573 189.7 568.7 191.3C564.5 192.9 552.9 192.1 544.7 191.9C536.4 191.7 529.9 190.4 519.3 190C508.8 189.6 493.2 189.5 481.3 189.4C469.5 189.3 453.9 191.3 448.4 189.4C442.9 187.5 442.9 179.8 448.4 178Z" fill="#C0F064"/><path d="M-5.1 180.5C0 179.4 14.4 180.1 25.3 180.5C36.3 180.9 54.7 181.7 60.8 183C66.9 184.4 65.9 188 62.1 188.7C58.3 189.5 46.2 187.8 38 187.5C29.8 187.2 19.8 186.9 12.7 186.8C5.5 186.8 -2.1 188.3 -5.1 187.2C-8 186.2 -10.1 181.6 -5.1 180.5Z" fill="#20B2AA"/><path d="M450.9 180.5C456 179.4 470.4 180.1 481.3 180.5C492.3 180.9 510.7 181.7 516.8 183C522.9 184.4 521.9 188 518.1 188.7C514.3 189.5 502.2 187.8 494 187.5C485.8 187.2 475.8 186.9 468.7 186.8C461.5 186.8 453.9 188.3 450.9 187.2C448 186.2 445.9 181.6 450.9 180.5Z" fill="#20B2AA"/><path d="M2.5 182.4C4.2 182 13.1 182.5 17.7 182.8C22.4 183.1 29.1 183.8 30.4 184.3C31.7 184.8 29.1 185.8 25.3 185.9C21.5 186.1 11.4 185.9 7.6 185.3C3.8 184.7 0.8 182.8 2.5 182.4Z" fill="#B0E0E6"/><path d="M70.9 183.7C73.7 182.8 82.3 182.8 88.7 183C95 183.2 105.6 183.8 108.9 184.9C112.3 186.1 112.3 189.1 108.9 190C105.6 190.9 94.8 190.9 88.7 190.6C82.5 190.3 75.2 189.3 72.2 188.1C69.2 186.9 68.2 184.5 70.9 183.7Z" fill="#20B2AA"/><path d="M83.6 185.6C84.9 185.1 93.3 185.2 96.3 185.6C99.2 185.9 102.6 187 101.3 187.5C100.1 187.9 91.6 188.4 88.7 188.1C85.7 187.8 82.3 186 83.6 185.6Z" fill="#B0E0E6"/><path d="M181.1 190.4C184.5 189.4 196.5 190.2 202.7 190.4C208.8 190.5 215.3 190.2 217.9 191.3C220.4 192.4 220.8 196 217.9 197C214.9 197.9 206 197.1 200.1 197C194.2 196.9 185.6 197.4 182.4 196.3C179.2 195.2 177.8 191.4 181.1 190.4Z" fill="#C0F064"/><path d="M184.9 191.6C187.9 191 197.6 191.5 202.7 191.6C207.7 191.8 213.2 191.8 215.3 192.5C217.4 193.3 217.9 195.5 215.3 196.1C212.8 196.7 205.2 196.2 200.1 196.1C195.1 196 187.5 196.2 184.9 195.4C182.4 194.7 182 192.3 184.9 191.6Z" fill="#20B2AA"/><path d="M190 193.2C193 192.9 204.8 192.9 207.7 193.2C210.7 193.4 210.7 194.5 207.7 194.8C204.8 195.1 193 195.1 190 194.8C187 194.5 187 193.4 190 193.2Z" fill="#B0E0E6"/><path d="M121.6 189.2C124.1 188.6 132.6 188.5 136.8 188.7C141 189 145.7 189.7 146.9 190.6C148.2 191.6 147.4 193.7 144.4 194.4C141.4 195.1 133 195.1 129.2 194.8C125.4 194.5 122.9 193.5 121.6 192.5C120.3 191.6 119.1 189.9 121.6 189.2Z" fill="#F5E6BE"/><path d="M164.7 191.6C166.6 191.1 174.2 191.4 177.3 191.6C180.5 191.9 183.7 192.6 183.7 193.2C183.7 193.7 180.3 194.8 177.3 195.1C174.4 195.3 168 195.4 165.9 194.8C163.8 194.2 162.8 192.2 164.7 191.6Z" fill="#F5E6BE"/><path d="M0 189C3 187.1 11.8 188.6 17.7 189C23.6 189.4 32.3 189.8 35.5 191.3C38.6 192.7 39.3 196.1 36.7 197.6C34.2 199.1 26.4 199.7 20.3 200.1C14.1 200.6 3.4 202 0 200.1C-3.4 198.3 -3 190.8 0 189Z" fill="#F5E6BE"/><path d="M249.5 191C252.1 190.2 259.9 190.5 266 190.6C272.1 190.8 283.1 190.9 286.3 191.9C289.4 192.9 288.4 195.5 285 196.3C281.6 197.2 271.7 197.1 266 197C260.3 196.9 253.5 196.7 250.8 195.7C248.1 194.7 247 191.9 249.5 191Z" fill="#F5E6BE"/><path d="M282.5 196.3C286.7 195.2 303.8 197 316.7 197C329.5 197 352.1 195.4 359.7 196.3C367.3 197.3 367.3 201.3 362.3 202.7C357.2 204 341.2 204.4 329.3 204.6C317.5 204.8 299.1 205.3 291.3 203.9C283.5 202.6 278.2 197.5 282.5 196.3Z" fill="#F5E6BE"/><path d="M286.3 192.3C290.9 191.4 305.5 192.9 316.7 192.9C327.9 193 347.1 191.6 353.4 192.5C359.7 193.4 359.7 197.2 354.7 198.2C349.6 199.3 334 198.9 323 198.9C312 198.8 294.9 199.1 288.8 198C282.7 196.9 281.6 193.1 286.3 192.3Z" fill="#C0F064"/><path d="M298.9 194.4C300.8 194.1 309.3 194.1 311.6 194.4C313.9 194.8 314.8 196 312.9 196.3C311 196.7 302.5 196.7 300.2 196.3C297.9 196 297 194.8 298.9 194.4Z" fill="#20B2AA"/><path d="M331.9 194.8C334.4 194.5 344.5 194.5 347.1 194.8C349.6 195.1 349.6 196.4 347.1 196.7C344.5 197 334.4 197 331.9 196.7C329.3 196.4 329.3 195.1 331.9 194.8Z" fill="#20B2AA"/><path d="M-72.2 178C-66.9 176.1 -50.9 178.7 -38 178.6C-25.1 178.5 -2.1 175.3 5.1 177.3C12.2 179.3 12.2 188.4 5.1 190.6C-2.1 192.8 -25.5 190.7 -38 190.6C-50.5 190.5 -64 192.1 -69.7 190C-75.4 187.9 -77.5 179.9 -72.2 178Z" fill="#C0F064"/><path d="M383.8 178C389.1 176.1 405.1 178.7 418 178.6C430.9 178.5 453.9 175.3 461.1 177.3C468.2 179.3 468.2 188.4 461.1 190.6C453.9 192.8 430.5 190.7 418 190.6C405.5 190.5 392 192.1 386.3 190C380.6 187.9 378.5 179.9 383.8 178Z" fill="#C0F064"/><path d="M-67.1 182.1C-62.5 181.2 -50 182.6 -38 182.4C-26 182.2 -2.1 180 5.1 181.1C12.2 182.2 12.2 187.6 5.1 189C-2.1 190.3 -26.2 189.4 -38 189.2C-49.8 189.1 -61 189.3 -65.9 188.1C-70.7 186.9 -71.8 183.1 -67.1 182.1Z" fill="#20B2AA"/><path d="M388.9 182.1C393.5 181.2 406 182.6 418 182.4C430 182.2 453.9 180 461.1 181.1C468.2 182.2 468.2 187.6 461.1 189C453.9 190.3 429.8 189.4 418 189.2C406.2 189.1 395 189.3 390.1 188.1C385.3 186.9 384.2 183.1 388.9 182.1Z" fill="#20B2AA"/><path d="M418 184.3C420.1 183.9 437.8 183.8 443.3 184C448.8 184.3 453 185.2 450.9 185.6C448.8 186 436.2 186.7 430.7 186.5C425.2 186.2 415.9 184.7 418 184.3Z" fill="#B0E0E6"/><path d="M0 204.6L76 203.9L152 204.6L228 205.2L304 205.2L380 205.2L456 204.6L456 229.3L0 229.3Z" fill="#F5E6BE"/><g clip-path="url(#landc)"><path d="M-15.2 22.8L38 22.8L76 25.3L126.7 21.5L152 24.7L177.3 30.4L177.3 58.3L162.1 63.3L154.5 76L139.3 88.7L126.7 88.7L121.6 78.5L101.3 76L88.7 68.4L70.9 65.9L50.7 58.3L30.4 53.2L12.7 50.7L-15.2 50.7Z" fill="#DEB887"/><path d="M440.8 22.8L494 22.8L532 25.3L582.7 21.5L608 24.7L633.3 30.4L633.3 58.3L618.1 63.3L610.5 76L595.3 88.7L582.7 88.7L577.6 78.5L557.3 76L544.7 68.4L526.9 65.9L506.7 58.3L486.4 53.2L468.7 50.7L440.8 50.7Z" fill="#DEB887"/><path d="M-15.2 50.7L12.7 50.7L30.4 53.2L50.7 58.3L50.7 68.4L-15.2 68.4Z" fill="#F5E6BE"/><path d="M440.8 50.7L468.7 50.7L486.4 53.2L506.7 58.3L506.7 68.4L440.8 68.4Z" fill="#F5E6BE"/><path d="M25.3 24.1L57 25.3L78.5 27.2L114 27.9L145.7 27.9L164.7 27.9L164.7 31.7L114 31L78.5 31L50.7 31.7L25.3 30.4Z" fill="#F5E6BE"/><path d="M5.1 35.5C5.5 34.3 8.4 33.1 10.1 32.9C11.8 32.7 14.6 33.2 15.2 34.2C15.8 35.1 15.2 37.7 13.9 38.6C12.7 39.6 9.1 40.4 7.6 39.9C6.1 39.4 4.6 36.6 5.1 35.5Z" fill="#FFE100"/><path d="M83.6 20.3L126.7 15.2L152 20.3L190 22.2L228 25.3L243.2 30.4L233.1 35.5L210.3 32.9L190 30.4L171 27.9L152 25.3L126.7 24.1L101.3 26L83.6 27.2Z" fill="#C0F064"/><path d="M126.7 17.7C127.1 17 134.1 16.6 139.3 17.1C144.6 17.6 152 19.9 158.3 20.9C164.7 21.8 169.9 22.1 177.3 22.8C184.7 23.5 195.1 24.5 202.7 25.3C210.3 26.2 220.4 26.9 222.9 27.9C225.5 28.8 222.1 30.9 217.9 31C213.6 31.1 204.4 29.4 197.6 28.5C190.8 27.6 184.1 26.2 177.3 25.3C170.6 24.5 163.8 24.1 157.1 23.4C150.3 22.8 141.9 22.5 136.8 21.5C131.7 20.6 126.2 18.5 126.7 17.7Z" fill="#20B2AA"/><path d="M159.6 26.6C162.6 26 171 26.7 177.3 27.2C183.7 27.8 192.5 28.8 197.6 29.8C202.7 30.7 209 32 207.7 32.9C206.5 33.9 195.9 35.4 190 35.5C184.1 35.6 177.3 34.3 172.3 33.6C167.2 32.8 161.7 32.2 159.6 31C157.5 29.9 156.6 27.2 159.6 26.6Z" fill="#F5E6BE"/><path d="M197.6 38C198.4 36.6 201 35.8 202.7 36.1C204.4 36.4 207.3 38.3 207.7 39.9C208.2 41.5 206.5 44.1 205.2 45.6C203.9 47.1 201.4 49 200.1 48.8C198.9 48.6 198 46.1 197.6 44.3C197.2 42.5 196.8 39.4 197.6 38Z" fill="#20B2AA"/><path d="M6.3 38C6.1 36.8 8.4 35.6 10.1 34.2C11.8 32.8 14.4 31.1 16.5 29.8C18.6 28.4 20.5 26.8 22.8 26C25.1 25.1 28.7 24.4 30.4 24.7C32.1 25 33.8 26.7 32.9 27.9C32.1 29 27.2 30.2 25.3 31.7C23.4 33.1 22.8 35 21.5 36.7C20.3 38.4 19.4 41.1 17.7 41.8C16 42.5 13.3 41.8 11.4 41.2C9.5 40.5 6.5 39.2 6.3 38Z" fill="#F5E6BE"/><path d="M6.3 37.4C6.3 36.4 7.4 35.5 8.9 34.2C10.3 32.9 13.5 30.9 15.2 29.8C16.9 28.6 18.2 27.2 19 27.2C19.8 27.2 20.9 28.6 20.3 29.8C19.6 30.9 16.7 32.8 15.2 34.2C13.7 35.6 12.5 37 11.4 38C10.3 39 9.7 40 8.9 39.9C8 39.8 6.3 38.3 6.3 37.4Z" fill="#C0F064"/><path d="M7.6 36.7C7.8 36.1 9.5 34.8 10.1 34.8C10.8 34.8 11.6 36.1 11.4 36.7C11.2 37.4 9.5 38.6 8.9 38.6C8.2 38.6 7.4 37.4 7.6 36.7Z" fill="#20B2AA"/><path d="M-5.1 48.1C-3.6 47.1 0 47 2.5 46.9C5.1 46.8 8 46.9 10.1 47.5C12.2 48.1 15.2 49.5 15.2 50.7C15.2 51.8 12.7 53.6 10.1 54.5C7.6 55.3 2.7 55.9 0 55.7C-2.7 55.5 -5.5 54.5 -6.3 53.2C-7.2 51.9 -6.5 49.2 -5.1 48.1Z" fill="#9AB932"/><path d="M450.9 48.1C452.4 47.1 456 47 458.5 46.9C461.1 46.8 464 46.9 466.1 47.5C468.2 48.1 471.2 49.5 471.2 50.7C471.2 51.8 468.7 53.6 466.1 54.5C463.6 55.3 458.7 55.9 456 55.7C453.3 55.5 450.5 54.5 449.7 53.2C448.8 51.9 449.5 49.2 450.9 48.1Z" fill="#9AB932"/><path d="M444.6 59.5C445.4 58.3 449 58.6 450.9 58.9C452.8 59.2 455.6 60.3 456 61.4C456.4 62.6 455.2 65 453.5 65.9C451.8 66.7 447.3 67.6 445.9 66.5C444.4 65.4 443.8 60.8 444.6 59.5Z" fill="#C0F064"/><path d="M-13.9 49.4C-12.9 50.2 -10.1 50.6 -7.6 50.7C-5.1 50.8 -0.4 50.7 1.3 50C3 49.4 3 48 2.5 46.9C2.1 45.7 -0.2 44.3 -1.3 43.1C-2.3 41.8 -2.5 39.8 -3.8 39.3C-5.1 38.7 -7.8 39.2 -8.9 39.9C-9.9 40.6 -9.3 42.8 -10.1 43.7C-11 44.7 -13.3 44.7 -13.9 45.6C-14.6 46.5 -15 48.6 -13.9 49.4Z" fill="#C0F064"/><path d="M442.1 49.4C443.1 50.2 445.9 50.6 448.4 50.7C450.9 50.8 455.6 50.7 457.3 50C459 49.4 459 48 458.5 46.9C458.1 45.7 455.8 44.3 454.7 43.1C453.7 41.8 453.5 39.8 452.2 39.3C450.9 38.7 448.2 39.2 447.1 39.9C446.1 40.6 446.7 42.8 445.9 43.7C445 44.7 442.7 44.7 442.1 45.6C441.4 46.5 441 48.6 442.1 49.4Z" fill="#C0F064"/><path d="M448.4 41.2C448.7 40.6 450.4 40.2 450.9 40.5C451.5 40.8 451.9 42.5 451.6 43.1C451.2 43.6 449.6 44 449 43.7C448.5 43.4 448.1 41.7 448.4 41.2Z" fill="#20B2AA"/><path d="M2.5 8.9L76 8.9L126.7 9.2L152 9.9L171 12.4L190 15.6L209 16.8L228 18.1L253.3 20L285 22.5L285 27.4L272.3 29.9L253.3 31.8L234.3 33.7L215.3 32.4L202.7 29.9L190 26.7L158.3 25.5L145.7 24.8L141.9 31.2L120.3 31.2L110.2 29.5L76 29.5L63.3 28.6L54.5 22.9L38 20.4L25.3 19.8L2.5 18.5Z" fill="#C0F064"/><path d="M6.3 9L76 9L126.7 9.4L152 10L171 12.5L190 15.7L209 17L228 18.2L253.3 20.1L283.7 22.7L283.7 26.6L272.3 29.1L253.3 31L234.3 32.9L215.3 31.7L202.7 29.1L190 26L158.3 24.7L145.7 24.1L141.9 30.4L120.3 30.4L110.2 28.8L76 28.8L63.3 27.9L54.5 22.2L38 19.6L25.3 19L6.3 17.7Z" fill="#20B2AA"/><path d="M10.1 9.1L76 9.1L126.7 9.5L152 10.1L171 12.7L190 15.8L209 17.1L228 18.4L253.3 20.3L282.5 22.8L282.5 26L272.3 28.5L253.3 30.4L234.3 32.3L215.3 31L202.7 28.5L190 25.3L158.3 24.1L145.7 23.4L141.9 29.8L120.3 29.8L110.2 28.1L76 28.1L63.3 27.2L54.5 21.5L38 19L25.3 18.4L10.1 17.1Z" fill="#7896F0"/><path d="M13.9 9.5L76 9.5L126.7 9.9L152 10.5L171 13L190 16.2L209 17.5L228 18.7L253.3 20.6L281.2 23.2L281.2 25.1L272.3 27.6L253.3 29.5L234.3 31.4L215.3 30.1L202.7 27.6L190 24.4L158.3 23.2L145.7 22.5L141.9 28.9L120.3 28.9L110.2 27.2L76 27.2L63.3 26.3L54.5 20.6L38 18.1L25.3 17.5L13.9 16.2Z" fill="#4169E1"/><path d="M17.7 10.4L76 10.4L126.7 10.8L152 11.4L171 13.9L190 17.1L209 18.4L228 19.6L253.3 21.5L276.1 24.1L276.1 23.7L272.3 26.2L253.3 28.1L234.3 30L215.3 28.8L202.7 26.2L190 23.1L158.3 21.8L145.7 21.2L141.9 27.5L120.3 27.5L110.2 25.8L76 25.8L63.3 25L54.5 19.3L38 16.7L25.3 16.1L17.7 14.8Z" fill="#0000CD"/><path d="M27.9 10.8C31 10 43.5 10.2 50.7 10.1C57.8 10.1 64.8 10.3 70.9 10.6C77.1 11 84.9 11.4 87.4 12.3C89.9 13.2 89.7 15.2 86.1 16.1C82.5 16.9 72.2 17.2 65.9 17.4C59.5 17.5 53.8 17.2 48.1 16.7C42.4 16.3 35 15.6 31.7 14.6C28.3 13.6 24.7 11.5 27.9 10.8Z" fill="#9370DB"/><path d="M67.1 15.5C69.2 14.7 76.2 15.1 81.1 15.5C85.9 15.8 91.2 16.6 96.3 17.4C101.3 18.1 109.1 18.7 111.5 19.9C113.8 21.1 113.2 23.6 110.2 24.6C107.2 25.5 99.2 25.5 93.7 25.6C88.2 25.7 81.5 25.8 77.3 25C73 24.1 70.1 21.8 68.4 20.3C66.7 18.7 65 16.3 67.1 15.5Z" fill="#9370DB"/><path d="M112.7 10.5C114.8 9.8 123.3 9.9 126.7 10.5C130 11.1 133.4 13 133 13.9C132.6 14.9 127.3 16 124.1 16.2C121 16.4 115.9 15.9 114 14.9C112.1 14 110.6 11.3 112.7 10.5Z" fill="#9370DB"/><path d="M148.2 13.9C151.2 12.9 164 14 171 14.6C178 15.1 185.1 16 190 17.1C194.9 18.2 199.9 19.7 200.1 20.9C200.3 22.1 196.1 23.6 191.3 24.1C186.4 24.5 177.3 24 171 23.4C164.7 22.9 157.1 22.5 153.3 20.9C149.5 19.3 145.2 15 148.2 13.9Z" fill="#9370DB"/><path d="M228 19C229.9 17.9 236 18.3 240.7 18.6C245.3 19 253.5 19.9 255.9 21.2C258.2 22.4 257.1 25.2 254.6 26.3C252.1 27.5 244.9 28 240.7 27.9C236.4 27.7 231.4 26.8 229.3 25.3C227.2 23.9 226.1 20.1 228 19Z" fill="#9370DB"/><path d="M131.7 12.7C133 11.8 138.9 11.9 141.9 12.3C144.8 12.7 149 14.2 149.5 15.2C149.9 16.2 146.9 17.9 144.4 18.4C141.9 18.8 136.4 18.7 134.3 17.7C132.2 16.8 130.5 13.6 131.7 12.7Z" fill="#4169E1"/><path d="M202.7 17.1C204.4 16.3 211.5 16.8 215.3 17.4C219.1 17.9 225 19.3 225.5 20.3C225.9 21.3 221.2 23.1 217.9 23.4C214.5 23.8 207.7 23.2 205.2 22.2C202.7 21.1 201 17.9 202.7 17.1Z" fill="#4169E1"/><path d="M116.5 19C117.6 17.7 122.9 17.9 126.7 18.4C130.5 18.8 136.8 20.2 139.3 21.5C141.9 22.9 143.1 25.5 141.9 26.6C140.6 27.7 135.3 28 131.7 27.9C128.1 27.8 122.9 27.4 120.3 26C117.8 24.5 115.5 20.3 116.5 19Z" fill="#7896F0"/><path d="M121.6 21.5C122 20.8 127.1 20.5 129.2 20.9C131.3 21.3 134.7 23.3 134.3 24.1C133.8 24.8 128.8 25.8 126.7 25.3C124.6 24.9 121.2 22.3 121.6 21.5Z" fill="#20B2AA"/><path d="M200.1 27.2C202.9 26.9 210.3 27.6 215.3 27.9C220.4 28.2 227.2 28.4 230.5 29.1C233.9 29.9 236.9 31.5 235.6 32.3C234.3 33.1 227.6 34.2 222.9 34.2C218.3 34.2 211.7 33 207.7 32.3C203.7 31.6 200.1 30.6 198.9 29.8C197.6 28.9 197.4 27.6 200.1 27.2Z" fill="#4169E1"/><path d="M48.1 32.9C50.2 31.8 56.2 31.8 60.8 31.7C65.4 31.6 71.8 31.7 76 32.3C80.2 32.9 84.9 34.1 86.1 35.5C87.4 36.8 86.1 39.3 83.6 40.5C81.1 41.8 75.6 42.7 70.9 43.1C66.3 43.4 59.5 43.2 55.7 42.4C51.9 41.7 49.4 40.2 48.1 38.6C46.9 37 46 34.1 48.1 32.9Z" fill="#FFE100"/><path d="M105.1 34.2C107.7 33.4 114.6 33 120.3 32.9C126 32.8 133.8 33.1 139.3 33.6C144.8 34 151.2 34.4 153.3 35.5C155.4 36.5 155.4 39.1 152 39.9C148.6 40.7 139.3 40.5 133 40.5C126.7 40.5 118.6 40.3 114 39.9C109.4 39.5 106.6 39 105.1 38C103.7 37 102.6 35 105.1 34.2Z" fill="#FFE100"/><path d="M31.7 29.1C32.5 28.5 36.7 28.6 38 29.1C39.3 29.7 40.1 31.7 39.3 32.3C38.4 32.9 34.2 33.5 32.9 32.9C31.7 32.4 30.8 29.8 31.7 29.1Z" fill="#FFE100"/><path d="M152 32.9C153.3 31.9 159 32 162.1 32.3C165.3 32.6 170.2 33.8 171 34.8C171.8 35.9 169.9 38 167.2 38.6C164.5 39.3 157.1 39.6 154.5 38.6C152 37.7 150.7 34 152 32.9Z" fill="#FFE100"/><path d="M152 43.7C153.3 42.9 158.3 42.9 159.6 43.7C160.9 44.5 160.9 47.9 159.6 48.8C158.3 49.6 153.3 49.6 152 48.8C150.7 47.9 150.7 44.5 152 43.7Z" fill="#FFE100"/><path d="M139.3 45.6C142.1 44.2 149.5 43.7 154.5 43.7C159.6 43.7 166.8 43.8 169.7 45.6C172.7 47.4 173.1 51.7 172.3 54.5C171.4 57.2 168 60.5 164.7 62.1C161.3 63.6 155.8 64.4 152 64C148.2 63.5 144.2 61.5 141.9 59.5C139.5 57.5 138.5 54.3 138.1 51.9C137.6 49.6 136.6 47 139.3 45.6Z" fill="#F5E6BE"/><path d="M162.1 41.8C163.8 40.3 169.9 40.7 172.3 41.8C174.6 42.9 175.6 45.8 176.1 48.1C176.5 50.5 176.5 54.4 174.8 55.7C173.1 57.1 168 57.2 165.9 56.4C163.8 55.5 162.8 53.1 162.1 50.7C161.5 48.2 160.4 43.3 162.1 41.8Z" fill="#DEB887"/><path d="M121.6 40.5C123.9 39.5 130 39.5 134.3 39.9C138.5 40.3 145.7 41.7 146.9 43.1C148.2 44.4 144.8 47.1 141.9 48.1C138.9 49.2 132.8 49.7 129.2 49.4C125.6 49.1 121.6 47.7 120.3 46.2C119.1 44.8 119.3 41.6 121.6 40.5Z" fill="#9AB932"/><path d="M50.7 48.1C52.6 47.1 64.3 44.8 68.4 44.3C72.5 43.8 86.6 43.1 91.2 43.1C95.8 43.1 109.7 44 114 44.3C118.3 44.7 131 45.6 134.3 46.2C137.6 46.9 145.7 49.5 146.9 50.7C148.2 51.9 147.9 56.9 146.9 58.3C145.9 59.7 138.6 63.5 136.8 64.6C135 65.7 131 68.7 129.2 69.7C127.4 70.6 121.9 73.6 119.1 74.1C116.3 74.6 104.4 74.9 101.3 74.7C98.3 74.5 91.2 72.8 88.7 72.2C86.1 71.6 78.5 69.6 76 69C73.5 68.5 65.5 67.3 63.3 66.5C61.2 65.7 55.9 62.6 54.5 61.4C53.1 60.2 49.8 55.8 49.4 54.5C49 53.1 48.8 49.1 50.7 48.1Z" fill="#C0F064"/><path d="M55.7 50.7C57.4 49.3 62.5 47.7 65.9 47.5C69.2 47.3 74.7 48 76 49.4C77.3 50.8 75.6 54.3 73.5 55.7C71.4 57.2 66.3 58.3 63.3 58.3C60.4 58.3 57 57 55.7 55.7C54.5 54.5 54 52 55.7 50.7Z" fill="#9AB932"/><path d="M81.1 45.6C82.8 44.7 90.4 44.5 93.7 45C97.1 45.4 100.9 47.1 101.3 48.1C101.8 49.2 99.2 50.9 96.3 51.3C93.3 51.7 86.1 51.6 83.6 50.7C81.1 49.7 79.4 46.5 81.1 45.6Z" fill="#9AB932"/><path d="M70.9 60.8C72.6 59.8 78.5 59.1 81.1 59.5C83.6 60 86.6 62.1 86.1 63.3C85.7 64.6 81.1 66.8 78.5 67.1C76 67.5 72.2 66.3 70.9 65.2C69.7 64.2 69.2 61.8 70.9 60.8Z" fill="#9AB932"/><path d="M121.6 46.9C123.3 45.8 130.9 47.1 134.3 48.1C137.6 49.2 141.9 51.7 141.9 53.2C141.9 54.7 137.2 56.8 134.3 57C131.3 57.2 126.2 56.2 124.1 54.5C122 52.8 119.9 47.9 121.6 46.9Z" fill="#9AB932"/><path d="M106.4 67.1C107.9 66.2 113.6 65.4 116.5 65.9C119.5 66.3 124.1 68.5 124.1 69.7C124.1 70.8 119.3 72.5 116.5 72.8C113.8 73.1 109.4 72.5 107.7 71.6C106 70.6 104.9 68.1 106.4 67.1Z" fill="#9AB932"/><path d="M126.7 58.3C128.6 57.8 134.7 58.7 136.8 59.5C138.9 60.4 140.2 62.4 139.3 63.3C138.5 64.3 134.1 65.4 131.7 65.2C129.4 65 126.2 63.2 125.4 62.1C124.6 60.9 124.8 58.7 126.7 58.3Z" fill="#9AB932"/><path d="M0 55.7C4.2 54.4 9.7 53.8 15.2 53.8C20.7 53.8 27.4 54.6 32.9 55.7C38.4 56.9 43.5 59.1 48.1 60.8C52.8 62.5 57.8 63.8 60.8 65.9C63.8 68 66.3 71.6 65.9 73.5C65.4 75.4 61.6 77.1 58.3 77.3C54.9 77.5 50.2 75.8 45.6 74.7C41 73.7 35.9 72 30.4 70.9C24.9 69.9 17.7 69.2 12.7 68.4C7.6 67.6 3.8 66.9 0 65.9C-3.8 64.8 -10.1 63.8 -10.1 62.1C-10.1 60.4 -4.2 57.1 0 55.7Z" fill="#9AB932"/><path d="M456 55.7C460.2 54.4 465.7 53.8 471.2 53.8C476.7 53.8 483.4 54.6 488.9 55.7C494.4 56.9 499.5 59.1 504.1 60.8C508.8 62.5 513.8 63.8 516.8 65.9C519.8 68 522.3 71.6 521.9 73.5C521.4 75.4 517.6 77.1 514.3 77.3C510.9 77.5 506.2 75.8 501.6 74.7C497 73.7 491.9 72 486.4 70.9C480.9 69.9 473.7 69.2 468.7 68.4C463.6 67.6 459.8 66.9 456 65.9C452.2 64.8 445.9 63.8 445.9 62.1C445.9 60.4 451.8 57.1 456 55.7Z" fill="#9AB932"/><path d="M65.9 54.5C67.3 53.7 73.7 53.3 76 53.8C78.3 54.4 80.2 56.7 79.8 57.6C79.4 58.6 75.6 59.4 73.5 59.5C71.4 59.6 68.4 59.1 67.1 58.3C65.9 57.4 64.4 55.2 65.9 54.5Z" fill="#DEB887"/><path d="M81.1 50.7C82.1 49.6 86.1 49.3 88.7 49.4C91.2 49.5 94.6 50.2 96.3 51.3C98 52.4 99.6 54.6 98.8 55.7C98 56.9 93.9 58.3 91.2 58.3C88.5 58.3 84 57 82.3 55.7C80.6 54.5 80 51.7 81.1 50.7Z" fill="#20B2AA"/><path d="M106.4 53.2C108.1 52.4 114 51.5 116.5 51.9C119.1 52.4 122 54.7 121.6 55.7C121.2 56.8 116.5 58.1 114 58.3C111.5 58.5 107.7 57.8 106.4 57C105.1 56.2 104.7 54 106.4 53.2Z" fill="#20B2AA"/><path d="M87.4 62.1C88 61.3 90.6 60.8 92.5 61.4C94.4 62.1 96.7 64.1 98.8 65.9C100.9 67.7 103.2 70.2 105.1 72.2C107 74.2 110 76.8 110.2 77.9C110.4 79 108.1 79.1 106.4 78.5C104.7 78 102.2 76.2 100.1 74.7C98 73.3 95.6 71.1 93.7 69.7C91.8 68.2 89.7 67.1 88.7 65.9C87.6 64.6 86.8 62.8 87.4 62.1Z" fill="#B0E0E6"/><path d="M89.3 63C89.7 62.4 91.5 61.9 93.1 62.7C94.7 63.5 97.2 66.1 98.8 67.8C100.4 69.5 102.4 71.9 102.6 72.8C102.8 73.8 101.3 74 100.1 73.5C98.8 72.9 96.6 70.9 95 69.7C93.4 68.4 91.5 67 90.6 65.9C89.6 64.7 88.9 63.5 89.3 63Z" fill="#7896F0"/><path d="M94.4 66.1C94.7 65.6 96.2 65.8 96.9 66.5C97.6 67.2 98.8 69.4 98.8 70.3C98.8 71.2 97.5 71.9 96.9 71.8C96.3 71.7 95.4 70.6 95 69.7C94.6 68.7 94 66.6 94.4 66.1Z" fill="#0000CD"/><path d="M96.3 62.1C97.1 61 103.4 60.7 106.4 60.8C109.4 60.9 113.2 61.8 114 62.7C114.8 63.7 113.6 65.8 111.5 66.5C109.4 67.2 103.9 67.9 101.3 67.1C98.8 66.4 95.4 63.1 96.3 62.1Z" fill="#DEB887"/><path d="M-22.8 68.4L15.2 67.8L43.1 72.2L48.1 76L76 78.5L78.5 88.7L68.4 97.5L45.6 98.8L19 100.1L-22.8 98.8Z" fill="#DEB887"/><path d="M433.2 68.4L471.2 67.8L499.1 72.2L504.1 76L532 78.5L534.5 88.7L524.4 97.5L501.6 98.8L475 100.1L433.2 98.8Z" fill="#DEB887"/><path d="M-20.3 78.5C-17.7 76.8 -12.2 76 -7.6 76C-3 76 2.5 77.9 7.6 78.5C12.7 79.2 17.7 79.4 22.8 79.8C27.9 80.2 34.4 80 38 81.1C41.6 82.1 43.7 84 44.3 86.1C45 88.2 44.5 91.9 41.8 93.7C39.1 95.5 33.1 96.3 27.9 96.9C22.6 97.5 16 97.5 10.1 97.5C4.2 97.5 -2.5 97.5 -7.6 96.9C-12.7 96.3 -17.7 95.5 -20.3 93.7C-22.8 91.9 -22.8 88.7 -22.8 86.1C-22.8 83.6 -22.8 80.2 -20.3 78.5Z" fill="#FFE100"/><path d="M435.7 78.5C438.3 76.8 443.8 76 448.4 76C453 76 458.5 77.9 463.6 78.5C468.7 79.2 473.7 79.4 478.8 79.8C483.9 80.2 490.4 80 494 81.1C497.6 82.1 499.7 84 500.3 86.1C501 88.2 500.5 91.9 497.8 93.7C495.1 95.5 489.1 96.3 483.9 96.9C478.6 97.5 472 97.5 466.1 97.5C460.2 97.5 453.5 97.5 448.4 96.9C443.3 96.3 438.3 95.5 435.7 93.7C433.2 91.9 433.2 88.7 433.2 86.1C433.2 83.6 433.2 80.2 435.7 78.5Z" fill="#FFE100"/><path d="M-15.2 81.7C-13.5 80.4 -9.3 80.8 -6.3 81.1C-3.4 81.4 1.5 82.2 2.5 83.6C3.6 85 2.1 88 0 89.3C-2.1 90.6 -7.4 91.3 -10.1 91.2C-12.9 91.1 -15.6 90.2 -16.5 88.7C-17.3 87.1 -16.9 83 -15.2 81.7Z" fill="#FFA500"/><path d="M440.8 81.7C442.5 80.4 446.7 80.8 449.7 81.1C452.6 81.4 457.5 82.2 458.5 83.6C459.6 85 458.1 88 456 89.3C453.9 90.6 448.6 91.3 445.9 91.2C443.1 91.1 440.4 90.2 439.5 88.7C438.7 87.1 439.1 83 440.8 81.7Z" fill="#FFA500"/><path d="M17.7 84.9C20.1 83.9 27 83.8 30.4 84.2C33.8 84.7 37.4 86 38 87.4C38.6 88.8 36.7 91.5 34.2 92.5C31.7 93.4 25.8 93.5 22.8 93.1C19.8 92.7 17.3 91.3 16.5 89.9C15.6 88.6 15.4 85.8 17.7 84.9Z" fill="#FFA500"/><path d="M10.1 88C10.9 87.2 12.9 87.4 13.9 88C15 88.7 16.7 90.6 16.5 91.8C16.3 93 13.8 95 12.7 95.3C11.5 95.5 9.9 94.3 9.5 93.1C9.1 91.9 9.4 88.9 10.1 88Z" fill="#FF4500"/><path d="M0 86.1C1.3 84.9 5.7 84.2 7.6 84.9C9.5 85.5 11.6 88.4 11.4 89.9C11.2 91.5 8.2 93.9 6.3 94.4C4.4 94.8 1.1 93.8 0 92.5C-1.1 91.1 -1.3 87.4 0 86.1Z" fill="#DEB887"/><path d="M51.9 82.3C53 80.6 55.9 80.8 58.3 81.1C60.6 81.4 63.8 82.9 65.9 84.2C68 85.6 70.9 87.6 70.9 89.3C70.9 91 68.2 93.3 65.9 94.4C63.5 95.4 59.3 96.2 57 95.6C54.7 95.1 52.8 93.4 51.9 91.2C51.1 89 50.9 84 51.9 82.3Z" fill="#FFE100"/><path d="M79.8 72.2C81.1 70.7 85.7 71.4 88.7 71.6C91.6 71.8 95.2 72.4 97.5 73.5C99.9 74.5 102.4 76.5 102.6 77.9C102.8 79.3 101.1 80.9 98.8 81.7C96.5 82.5 91.6 83.2 88.7 83C85.7 82.8 82.5 82.2 81.1 80.4C79.6 78.6 78.5 73.7 79.8 72.2Z" fill="#FFE100"/><path d="M83.6 76C84 75.2 89.3 74.9 91.2 75.4C93.1 75.8 95.4 77.7 95 78.5C94.6 79.4 90.6 80.9 88.7 80.4C86.8 80 83.2 76.8 83.6 76Z" fill="#FFA500"/><path d="M122.9 68.4C124.1 67.1 127.3 66.7 129.2 67.1C131.1 67.6 133.4 68.8 134.3 70.9C135.1 73 135.1 77.6 134.3 79.8C133.4 82 130.9 84 129.2 84.2C127.5 84.4 125.4 82.6 124.1 81.1C122.9 79.5 121.8 76.8 121.6 74.7C121.4 72.6 121.6 69.7 122.9 68.4Z" fill="#FFE100"/><path d="M131.7 76C133.4 73.9 138.3 72.4 141.9 72.2C145.5 72 151.6 72.8 153.3 74.7C155 76.6 154.3 81.5 152 83.6C149.7 85.7 142.7 87.2 139.3 87.4C136 87.6 133 86.8 131.7 84.9C130.5 83 130 78.1 131.7 76Z" fill="#F5E6BE"/><path d="M92.5 83.6C93.9 81.7 98.2 81.2 101.3 81.1C104.5 81 110.2 81.3 111.5 83C112.7 84.7 110.6 87.7 108.9 91.2C107.2 94.7 103.4 102.2 101.3 103.9C99.2 105.6 97.7 103.2 96.3 101.3C94.8 99.4 93.1 95.4 92.5 92.5C91.8 89.5 91 85.5 92.5 83.6Z" fill="#9AB932"/><path d="M95 88.7C95.4 87.4 99 86.8 100.1 87.4C101.1 88 101.8 91.2 101.3 92.5C100.9 93.7 98.6 95.6 97.5 95C96.5 94.4 94.6 89.9 95 88.7Z" fill="#DEB887"/><path d="M116.5 79.8C118.2 79 123.3 80.9 126.7 82.3C130 83.8 134.9 85.7 136.8 88.7C138.7 91.6 138.9 97.7 138.1 100.1C137.2 102.4 133.8 102 131.7 102.6C129.6 103.2 126.9 105.1 125.4 103.9C123.9 102.6 124.3 97.7 122.9 95C121.4 92.3 117.6 89.9 116.5 87.4C115.5 84.9 114.8 80.6 116.5 79.8Z" fill="#9AB932"/><path d="M124.1 88.7C124.8 87.2 129 87.6 130.5 88.7C131.9 89.7 133.6 93.5 133 95C132.4 96.5 128.1 98.6 126.7 97.5C125.2 96.5 123.5 90.1 124.1 88.7Z" fill="#C0F064"/><path d="M119.1 105.1L164.7 105.1L190 114L190 127.9L119.1 127.9Z" fill="#F5E6BE"/><path d="M141.9 111.5C142.5 110.4 145.9 109.6 146.9 110.2C148 110.8 148.8 114.2 148.2 115.3C147.6 116.3 144.2 117.2 143.1 116.5C142.1 115.9 141.2 112.5 141.9 111.5Z" fill="#20B2AA"/><path d="M172.3 118.4C172.7 117.9 177.8 118.4 179.9 119.1C182 119.7 185.4 121.7 184.9 122.2C184.5 122.8 179.4 122.9 177.3 122.2C175.2 121.6 171.8 119 172.3 118.4Z" fill="#20B2AA"/><path d="M12.7 95C15.2 93.6 24.5 95.6 30.4 95.6C36.3 95.6 43.5 94.5 48.1 95C52.8 95.5 57 97.3 58.3 98.8C59.5 100.3 58.3 102.5 55.7 103.9C53.2 105.2 47.7 106.7 43.1 107C38.4 107.3 32.5 106.3 27.9 105.8C23.2 105.2 17.7 105.7 15.2 103.9C12.7 102.1 10.1 96.4 12.7 95Z" fill="#DEB887"/><path d="M17.7 110.2C19.1 108.6 27.9 107.8 30.4 107.7C32.9 107.5 41 108.3 43.1 108.9C45.1 109.6 49.9 112.5 50.7 114C51.4 115.5 51 122.1 50.7 124.1C50.3 126.2 47.8 132.5 46.9 134.3C46 136 43.1 140.6 41.8 141.9C40.5 143.1 35.8 146.6 34.2 146.9C32.6 147.3 26.9 146.7 25.3 145.7C23.8 144.7 19.9 139 19 136.8C18.1 134.6 16.6 126.8 16.5 124.1C16.3 121.5 16.3 111.8 17.7 110.2Z" fill="#C0F064"/><path d="M21.5 117.8C23 116.5 27.2 115.7 29.1 116.5C31 117.4 33.4 121.2 32.9 122.9C32.5 124.6 28.7 126.5 26.6 126.7C24.5 126.9 21.1 125.6 20.3 124.1C19.4 122.7 20.1 119.1 21.5 117.8Z" fill="#9AB932"/><path d="M35.5 130.5C36.5 129 41.6 128.4 43.1 129.2C44.5 130 45.4 134.1 44.3 135.5C43.3 137 38.2 138.9 36.7 138.1C35.3 137.2 34.4 131.9 35.5 130.5Z" fill="#9AB932"/><path d="M38 112.7C39.1 111.5 44.1 110.6 45.6 111.5C47.1 112.3 47.9 116.5 46.9 117.8C45.8 119.1 40.7 119.9 39.3 119.1C37.8 118.2 36.9 114 38 112.7Z" fill="#9AB932"/><path d="M30.4 149.5C30.8 148.5 34.2 148.4 35.5 148.8C36.7 149.3 38.4 151.1 38 152C37.6 152.9 34.2 155 32.9 154.5C31.7 154.1 30 150.4 30.4 149.5Z" fill="#F5E6BE"/><path d="M50.7 102.6C51.5 101.3 56.2 100.7 58.3 100.7C60.4 100.7 63.1 101.4 63.3 102.6C63.5 103.8 61.2 106.7 59.5 107.7C57.8 108.6 54.7 109.1 53.2 108.3C51.7 107.5 49.8 103.9 50.7 102.6Z" fill="#F5E6BE"/><path d="M48.1 106.4C48.6 105.7 51.1 105.3 51.9 105.8C52.8 106.2 53.6 108.2 53.2 108.9C52.8 109.7 50.2 110.6 49.4 110.2C48.6 109.8 47.7 107.1 48.1 106.4Z" fill="#FFE100"/><path d="M15.2 120.3C15.6 118.6 18.2 118.9 19 120.3C19.8 121.8 20.7 127.5 20.3 129.2C19.8 130.9 17.3 131.9 16.5 130.5C15.6 129 14.8 122 15.2 120.3Z" fill="#F5E6BE"/><path d="M15.6 130.5C15.8 129.8 16.8 129.8 17.1 130.5C17.4 131.1 17.4 133.6 17.1 134.3C16.8 134.9 15.8 134.9 15.6 134.3C15.3 133.6 15.3 131.1 15.6 130.5Z" fill="#FFA500"/><path d="M144.4 141.9C145.5 140 149.9 140 152 140.6C154.1 141.2 156.9 143.8 157.1 145.7C157.3 147.6 155.2 150.9 153.3 152C151.4 153.1 147.1 153.7 145.7 152C144.2 150.3 143.3 143.8 144.4 141.9Z" fill="#C0F064"/><path d="M157.1 133C158.1 131.9 164.5 130.7 167.2 130.5C169.9 130.3 172.9 130.8 173.5 131.7C174.2 132.7 173.1 135.3 171 136.2C168.9 137 163.2 137.3 160.9 136.8C158.5 136.3 156 134.1 157.1 133Z" fill="#C0F064"/><path d="M176.1 136.2C177.1 135.3 180.7 135.6 182.4 136.8C184.1 138 186.4 141.7 186.2 143.1C186 144.6 182.8 145.9 181.1 145.7C179.4 145.5 176.9 143.5 176.1 141.9C175.2 140.3 175 137 176.1 136.2Z" fill="#C0F064"/><path d="M154.5 148.2C155 147.2 160.2 147.1 162.1 147.6C164 148 166.4 149.8 165.9 150.7C165.5 151.7 161.5 153.7 159.6 153.3C157.7 152.8 154.1 149.2 154.5 148.2Z" fill="#C0F064"/><path d="M171 145.7C172.1 144.5 176.5 144.6 178.6 145C180.7 145.5 183.5 146.9 183.7 148.2C183.9 149.5 181.8 152 179.9 152.6C178 153.3 173.7 153.2 172.3 152C170.8 150.8 169.9 146.8 171 145.7Z" fill="#F5E6BE"/><path d="M162.1 140.6C163 140 167.2 139.5 168.5 140C169.7 140.4 170.6 142.5 169.7 143.1C168.9 143.8 164.7 144.2 163.4 143.8C162.1 143.3 161.3 141.2 162.1 140.6Z" fill="#F5E6BE"/><path d="M177.3 155.8C178.2 154.7 184.3 155 186.2 155.8C188.1 156.6 189.6 159.8 188.7 160.9C187.9 161.9 183 163 181.1 162.1C179.2 161.3 176.5 156.9 177.3 155.8Z" fill="#C0F064"/><path d="M240.7 22.8L285 24.1L304 25.3L331.9 30.4L334.4 50.7L331.9 76L324.3 83.6L316.7 81.1L306.5 70.9L298.9 53.2L288.8 40.5L259.7 40.5L240.7 35.5Z" fill="#F5E6BE"/><path d="M307.8 29.1C310.1 27.9 318.1 27.7 324.3 27.9C330.4 28.1 340.5 28.9 344.5 30.4C348.5 31.9 350 34.9 348.3 36.7C346.6 38.5 339.3 40.6 334.4 41.2C329.5 41.7 323.2 40.8 319.2 39.9C315.2 39 312.2 37.3 310.3 35.5C308.4 33.7 305.5 30.4 307.8 29.1Z" fill="#9AB932"/><path d="M293.9 32.9C295.1 31.7 298.9 30 301.5 30.4C304 30.8 307 32.9 309.1 35.5C311.2 38 313.7 42.9 314.1 45.6C314.6 48.3 313.1 51.1 311.6 51.9C310.1 52.8 307.4 52.1 305.3 50.7C303.2 49.2 300.8 45.2 298.9 43.1C297 41 294.7 39.7 293.9 38C293 36.3 292.6 34.2 293.9 32.9Z" fill="#DEB887"/><path d="M302.1 44.3C302.5 43.3 305.1 42.9 305.9 43.7C306.7 44.5 307.6 48.3 307.2 49.4C306.7 50.5 304.2 50.9 303.4 50C302.5 49.2 301.7 45.4 302.1 44.3Z" fill="#FFE100"/><path d="M302.7 48.1C303.5 46.7 309.7 46.8 311.6 46.9C313.5 46.9 320.2 47.9 321.7 48.8C323.3 49.7 326.7 54.1 326.8 55.7C326.9 57.3 324.4 63.5 323 64.6C321.6 65.7 314.8 66.9 312.9 66.5C311 66.1 305 62.6 304 60.8C303 59 302 49.5 302.7 48.1Z" fill="#C0F064"/><path d="M313.5 50.7C314.4 49.4 318.1 49.3 319.8 50C321.5 50.8 323.7 53.3 323.6 55.1C323.5 56.9 320.8 60.4 319.2 60.8C317.6 61.2 315.1 59.3 314.1 57.6C313.2 55.9 312.6 51.9 313.5 50.7Z" fill="#20B2AA"/><path d="M316 53.2C316.5 52.5 319.1 52.6 319.8 53.2C320.6 53.8 320.9 56.3 320.5 57C320 57.7 318 58.3 317.3 57.6C316.6 57 315.6 53.9 316 53.2Z" fill="#B0E0E6"/><path d="M304.6 57.6C305.2 57 307.3 57 307.8 57.6C308.3 58.3 308.3 60.8 307.8 61.4C307.3 62.1 305.2 62.1 304.6 61.4C304.1 60.8 304.1 58.3 304.6 57.6Z" fill="#B0E0E6"/><path d="M309.7 58.3C310.2 57.6 312.3 57.6 312.9 58.3C313.4 58.9 313.4 61.4 312.9 62.1C312.3 62.7 310.2 62.7 309.7 62.1C309.2 61.4 309.2 58.9 309.7 58.3Z" fill="#B0E0E6"/><path d="M312.9 67.1C314.1 65.7 319.4 65.7 321.7 66.5C324.1 67.3 326.8 70.3 326.8 72.2C326.8 74.1 323.8 77.4 321.7 77.9C319.6 78.4 315.6 77.2 314.1 75.4C312.7 73.6 311.6 68.6 312.9 67.1Z" fill="#DEB887"/><path d="M301.5 62.1C301.3 61 302.8 61.1 304 62.1C305.2 63 307.1 66.2 308.4 67.8C309.8 69.3 311.9 70.7 312.2 71.6C312.6 72.4 311.5 73.4 310.3 72.8C309.2 72.3 306.7 70.2 305.3 68.4C303.8 66.6 301.7 63.1 301.5 62.1Z" fill="#FFE100"/><path d="M316.7 70.3C317.5 70.1 320.5 71.1 321.7 72.2C323 73.3 324.5 75.9 324.3 76.6C324.1 77.4 321.7 77.2 320.5 76.6C319.2 76.1 317.3 74.5 316.7 73.5C316 72.4 315.8 70.5 316.7 70.3Z" fill="#FFE100"/><path d="M249.5 36.7C250 36.1 254.2 35.8 255.9 36.1C257.6 36.4 260.1 38 259.7 38.6C259.2 39.3 255 40.2 253.3 39.9C251.6 39.6 249.1 37.4 249.5 36.7Z" fill="#4169E1"/><path d="M269.8 36.1C270.4 35.7 275.5 36.2 277.4 36.7C279.3 37.3 281.8 38.8 281.2 39.3C280.6 39.7 275.5 39.8 273.6 39.3C271.7 38.7 269.2 36.5 269.8 36.1Z" fill="#4169E1"/><path d="M281.2 36.1C282.3 36 286.7 36.9 288.8 38C290.9 39.1 292.2 40.7 293.9 42.4C295.6 44.1 298.7 47.1 298.9 48.1C299.1 49.2 296.8 49.6 295.1 48.8C293.4 47.9 290.9 44.8 288.8 43.1C286.7 41.4 283.7 39.8 282.5 38.6C281.2 37.5 280.1 36.2 281.2 36.1Z" fill="#20B2AA"/><path d="M283.7 37.6C284.4 37.5 288.4 38.9 290.1 39.9C291.8 40.9 293.8 43.1 293.9 43.7C294 44.3 292 43.8 290.7 43.3C289.4 42.8 287.4 41.5 286.3 40.5C285.1 39.6 283.1 37.7 283.7 37.6Z" fill="#4169E1"/><path d="M286.3 27.9C287.1 27.2 292.2 27.8 293.9 28.5C295.6 29.2 297.2 31.7 296.4 32.3C295.6 32.9 290.5 33 288.8 32.3C287.1 31.6 285.4 28.5 286.3 27.9Z" fill="#20B2AA"/><path d="M324.3 50.7C326 49.4 331 49.2 334.4 49.4C337.8 49.6 341.2 51.1 344.5 51.9C347.9 52.8 352.3 53.2 354.7 54.5C357 55.7 359.1 58.1 358.5 59.5C357.8 61 354.5 62.6 350.9 63.3C347.3 64.1 340.7 64.2 336.9 64C333.1 63.8 330.2 63.2 328.1 62.1C326 60.9 324.9 58.9 324.3 57C323.6 55.1 322.6 51.9 324.3 50.7Z" fill="#C0F064"/><path d="M338.2 51.9C339.7 50.8 345.2 50.8 348.3 51.3C351.5 51.8 355.9 53.6 357.2 55.1C358.5 56.6 357.8 59.1 355.9 60.2C354 61.2 348.5 61.8 345.8 61.4C343.1 61.1 340.7 59.9 339.5 58.3C338.2 56.7 336.7 53.1 338.2 51.9Z" fill="#20B2AA"/><path d="M331.9 41.2C333.8 40 340.3 40 344.5 40.5C348.8 41.1 353.8 43.1 357.2 44.3C360.6 45.6 364.4 47 364.8 48.1C365.2 49.3 363.1 51 359.7 51.3C356.4 51.6 349 50.7 344.5 50C340.1 49.4 335.2 49 333.1 47.5C331 46 330 42.3 331.9 41.2Z" fill="#F5E6BE"/><path d="M347.1 46.9C348.5 46 353.6 45.8 357.2 46.2C360.8 46.7 366.3 48.3 368.6 49.4C370.9 50.5 372.8 51.9 371.1 52.6C369.4 53.2 362.3 53.4 358.5 53.2C354.7 53 350.2 52.4 348.3 51.3C346.4 50.2 345.6 47.7 347.1 46.9Z" fill="#DEB887"/><path d="M326.8 68.4C328.1 67.2 332.7 66.9 334.4 67.8C336.1 68.6 337.4 71.9 336.9 73.5C336.5 75 333.6 77.1 331.9 77.3C330.2 77.5 327.6 76.2 326.8 74.7C326 73.3 325.5 69.6 326.8 68.4Z" fill="#F5E6BE"/><path d="M328.1 78.5C329.1 77.9 331.9 78.5 333.1 79.8C334.4 81.1 336.1 84.7 335.7 86.1C335.2 87.6 332.1 89.1 330.6 88.7C329.1 88.2 327.2 85.3 326.8 83.6C326.4 81.9 327 79.2 328.1 78.5Z" fill="#DEB887"/><path d="M324.3 86.1C325.5 85.7 329.3 86.6 331.9 87.4C334.4 88.2 339.5 90.4 339.5 91.2C339.5 92 334.4 92.7 331.9 92.5C329.3 92.3 325.5 91 324.3 89.9C323 88.9 323 86.6 324.3 86.1Z" fill="#F5E6BE"/><path d="M288.8 20.9C289.6 20 296.1 16.9 298.9 15.8C301.7 14.8 313.4 11.1 316.7 10.1C320 9.1 328.1 6.2 331.9 5.7C335.7 5.2 350.1 5 354.7 5.1C359.2 5.1 374.4 5.6 377.5 6.3C380.5 7.1 383.9 11 385.1 12.7C386.2 14.3 388.4 20.5 388.9 22.8C389.4 25.1 390.4 33.1 390.1 35.5C389.9 37.9 387.3 45.4 386.3 46.9C385.3 48.3 381.4 50 380 50C378.6 50 374.2 46.8 372.4 46.9C370.6 46.9 364.3 50.3 362.3 50.7C360.2 51 354.2 51 352.1 50.7C350.1 50.3 343.8 48.1 342 46.9C340.2 45.6 335.4 39.6 334.4 38C333.4 36.4 333.6 31.3 331.9 30.4C330.1 29.4 319.7 28.9 316.7 28.5C313.6 28.1 304 26.3 301.5 26C298.9 25.6 292.6 25.2 291.3 24.7C290.1 24.2 288 21.8 288.8 20.9Z" fill="#C0F064"/><path d="M290.1 21.5C290.8 20.8 297.4 17.5 300.2 16.5C303 15.4 314.8 11.8 317.9 10.8C321.1 9.8 328.2 6.8 331.9 6.3C335.5 5.8 350.2 5.6 354.7 5.7C359.1 5.8 373.3 6.3 376.2 7C379.1 7.7 382.7 11.1 383.8 12.7C384.9 14.2 387.1 20.5 387.6 22.8C388.1 25.1 389.1 33.2 388.9 35.5C388.6 37.7 386 44.3 385.1 45.6C384.2 46.9 381.3 48.3 380 48.1C378.7 48 374.2 44.2 372.4 44.3C370.6 44.5 364.3 48.9 362.3 49.4C360.2 49.9 354 49.8 352.1 49.4C350.2 49 344.9 46.8 343.3 45.6C341.6 44.4 336.7 39 335.7 37.4C334.7 35.8 335 30.7 333.1 29.8C331.2 28.8 319.8 28.3 316.7 27.9C313.5 27.4 303.9 25.7 301.5 25.3C299.1 25 293.7 24.4 292.6 24.1C291.5 23.7 289.3 22.3 290.1 21.5Z" fill="#20B2AA"/><path d="M291.3 21.5C292.1 20.9 298.7 18.1 301.5 17.1C304.3 16.1 315.9 12.4 319.2 11.4C322.5 10.4 330.9 7.7 334.4 7.2C337.9 6.7 350.6 6.3 354.7 6.3C358.7 6.4 372.1 7 374.9 7.6C377.7 8.2 381.4 11.1 382.5 12.7C383.7 14.2 385.8 20.5 386.3 22.8C386.8 25.1 387.9 33.3 387.6 35.5C387.3 37.6 384.6 43.3 383.8 44.3C383 45.4 380.9 46.5 380 46.2C379.1 46 375.9 42.9 374.9 41.8C373.9 40.7 371.4 36.1 369.9 35.5C368.3 34.8 361.5 35.2 359.7 35.5C358 35.7 353.7 38 352.1 38C350.6 38 346.1 36 344.5 35.5C343 35 337.9 33.6 336.9 32.9C335.9 32.3 336.4 29.7 334.4 29.1C332.4 28.5 320 27.4 316.7 27C313.4 26.5 303.7 25.1 301.5 24.7C299.2 24.3 294.9 23.8 293.9 23.4C292.9 23.1 290.6 22.2 291.3 21.5Z" fill="#0000CD"/><path d="M374.9 15.2C376.2 13.5 381.9 15.2 383.8 17.7C385.7 20.3 386.1 26.6 386.3 30.4C386.5 34.2 385.9 38.2 385.1 40.5C384.2 42.9 382.5 44.8 381.3 44.3C380 43.9 378.3 40.7 377.5 38C376.6 35.3 376.6 31.7 376.2 27.9C375.8 24.1 373.7 16.9 374.9 15.2Z" fill="#4169E1"/><path d="M293.9 21.2C294.1 19.8 300.2 17.7 304 16.5C307.8 15.2 312.7 13.8 316.7 13.6C320.7 13.3 326 13.3 328.1 14.8C330.2 16.4 331.2 21 329.3 22.8C327.4 24.6 321.1 25.3 316.7 25.6C312.2 25.8 306.5 25.1 302.7 24.3C298.9 23.6 293.7 22.5 293.9 21.2Z" fill="#9370DB"/><path d="M326.8 12.7C327.9 11.2 331 9.4 334.4 8.9C337.8 8.3 344.5 8.6 347.1 9.5C349.6 10.4 350.4 12.7 349.6 14.6C348.8 16.5 345 19.7 342 20.9C339 22.1 334.2 22.1 331.9 21.5C329.5 21 328.9 19.2 328.1 17.7C327.2 16.3 325.7 14.1 326.8 12.7Z" fill="#9370DB"/><path d="M342 20.9C344.1 20.1 350 20.1 354.7 20.3C359.3 20.5 366.3 20.9 369.9 22.2C373.5 23.4 375.8 26 376.2 27.9C376.6 29.8 375.1 32.6 372.4 33.6C369.7 34.5 363.7 34.1 359.7 33.6C355.7 33 351.3 31.8 348.3 30.4C345.4 29 343.1 26.9 342 25.3C340.9 23.8 339.9 21.7 342 20.9Z" fill="#9370DB"/><path d="M354.7 9.5C356.8 8.6 366.1 8.3 369.9 8.9C373.7 9.4 377.5 11.4 377.5 12.7C377.5 13.9 373.2 16.1 369.9 16.5C366.5 16.8 359.7 15.7 357.2 14.6C354.7 13.4 352.6 10.4 354.7 9.5Z" fill="#9370DB"/><path d="M336.9 32.3C338.2 30.7 343.5 30.3 347.1 30.4C350.7 30.5 355.5 31.7 358.5 32.9C361.4 34.2 364.2 36 364.8 38C365.4 40 364 43.3 362.3 45C360.6 46.7 357.2 48 354.7 48.1C352.1 48.2 349.6 47 347.1 45.6C344.5 44.2 341.2 42.1 339.5 39.9C337.8 37.7 335.7 33.9 336.9 32.3Z" fill="#4169E1"/><path d="M339.5 35.5C340.7 34.5 345.4 33.4 348.3 33.6C351.3 33.8 355.3 35.4 357.2 36.7C359.1 38.1 360.4 40.3 359.7 41.8C359.1 43.3 355.7 45.4 353.4 45.6C351.1 45.8 347.9 44.1 345.8 43.1C343.7 42 341.8 40.5 340.7 39.3C339.7 38 338.2 36.4 339.5 35.5Z" fill="#7896F0"/><path d="M344.5 39.9C344.7 39.1 349.2 38.3 350.9 38.6C352.6 39 354.9 41 354.7 41.8C354.5 42.6 351.3 44 349.6 43.7C347.9 43.4 344.3 40.7 344.5 39.9Z" fill="#B0E0E6"/><path d="M350.9 16.2C351.3 16 353 16 353.4 16.2C353.8 16.4 353.8 17.3 353.4 17.5C353 17.7 351.3 17.7 350.9 17.5C350.4 17.3 350.4 16.4 350.9 16.2Z" fill="#FFE100"/><path d="M363.5 14.9L369.9 12.7L373.7 11.1L380 10.1L392.7 9.5L405.3 8.4L418 8.1L428.1 9.5L433.2 10.8L440.8 10.8L435.7 12.7L433.2 13.9L432.6 15.8L431.3 17.7L431.3 19L429.4 20.9L428.1 22.8L428.1 24.7L425.6 25.1L423.1 27.2L418 27.7L414.2 29.1L410.4 30.7L406 31L404.7 32.3L403.4 34.2L402.2 36.1L400.3 38.1L397.7 37.2L395.2 36.7L392.7 34.8L390.8 32.9L389.5 31L388.2 29.1L388.9 27.2L390.1 26L387 25.3L387 23.4L385.7 21.5L383.2 19.3L380 17.7L374.9 17.5L369.2 17.7L366.1 16.5Z" fill="#20B2AA"/><path d="M377.5 10.1C379.8 9.1 387 8.3 392.7 7.9C398.4 7.4 406.8 7.4 411.7 7.6C416.5 7.8 420.5 8.1 421.8 8.9C423.1 9.6 422.4 11.6 419.3 12C416.1 12.5 408.1 11.4 402.8 11.4C397.5 11.4 391.6 11.6 387.6 12C383.6 12.5 380.4 14.2 378.7 13.9C377 13.6 375.1 11.1 377.5 10.1Z" fill="#4169E1"/><path d="M391.4 8.5C392.9 8.1 399.2 8 402.8 8.1C406.4 8.2 412.1 8.5 412.9 8.9C413.8 9.2 411 10.1 407.9 10.4C404.7 10.6 396.7 10.7 393.9 10.4C391.2 10.1 389.9 8.9 391.4 8.5Z" fill="#0000CD"/><path d="M382.5 15.2C383.2 14.1 386.3 15.2 387.6 16.5C388.9 17.7 389.5 20.5 390.1 22.8C390.8 25.1 391.6 28.5 391.4 30.4C391.2 32.3 389.9 34.2 388.9 34.2C387.8 34.2 385.9 32.3 385.1 30.4C384.2 28.5 384.2 25.3 383.8 22.8C383.4 20.3 381.9 16.3 382.5 15.2Z" fill="#4169E1"/><path d="M412.9 12.7C414 11.4 420.3 12 423.1 12.7C425.8 13.3 428.6 14.8 429.4 16.5C430.2 18.2 429.4 21 428.1 22.8C426.9 24.6 423.9 26.6 421.8 27.2C419.7 27.9 416.3 27.8 415.5 26.6C414.6 25.4 417.2 22.6 416.7 20.3C416.3 17.9 411.9 13.9 412.9 12.7Z" fill="#7896F0"/><path d="M418 15.2C419.3 14.2 424.1 14.9 425.6 15.8C427.1 16.8 427.5 19.5 426.9 20.9C426.2 22.3 423.3 24 421.8 24.1C420.3 24.2 418.6 23 418 21.5C417.4 20.1 416.7 16.1 418 15.2Z" fill="#4169E1"/><path d="M386.3 12.7C387.8 11.6 393.3 11.5 397.7 11.4C402.2 11.3 409.6 11.2 412.9 12C416.3 12.9 417.4 14.7 418 16.5C418.6 18.3 417.8 21 416.7 22.8C415.7 24.6 413.4 26 411.7 27.2C410 28.5 408.1 29.1 406.6 30.4C405.1 31.7 404 34.2 402.8 34.8C401.6 35.5 400.7 35.1 399.6 34.2C398.6 33.2 397.6 30.8 396.5 29.1C395.3 27.4 393.9 26 392.7 24.1C391.4 22.2 389.9 19.6 388.9 17.7C387.8 15.8 384.9 13.7 386.3 12.7Z" fill="#C0F064"/><path d="M388.9 13.9C390.2 13.1 395.2 12.8 399 12.7C402.8 12.6 408.9 12.5 411.7 13.3C414.4 14.1 415 16.2 415.5 17.7C415.9 19.3 415.3 21.3 414.2 22.8C413.1 24.3 410.6 25.4 409.1 26.6C407.7 27.8 406.5 28.8 405.3 29.8C404.2 30.7 403 32.2 402.2 32.3C401.3 32.4 401 31.3 400.3 30.4C399.5 29.4 398.8 28 397.7 26.6C396.7 25.2 395.1 23.6 393.9 22.2C392.8 20.7 391.6 19.1 390.8 17.7C389.9 16.4 387.5 14.8 388.9 13.9Z" fill="#9AB932"/><path d="M392.7 14.6C393.7 13.8 397.5 13.6 400.3 13.6C403 13.6 407.1 13.7 409.1 14.6C411.1 15.5 412.3 17.5 412.3 19C412.3 20.5 410.7 22.4 409.1 23.4C407.6 24.5 404.7 25.4 402.8 25.3C400.9 25.2 399.2 24 397.7 22.8C396.3 21.6 394.8 19.7 393.9 18.4C393.1 17 391.6 15.4 392.7 14.6Z" fill="#F5E6BE"/><path d="M396.5 15.8C397 15 400.9 15 402.8 15.2C404.7 15.4 407.4 16.1 407.9 17.1C408.3 18 406.7 20.4 405.3 20.9C404 21.4 401.1 21.1 399.6 20.3C398.2 19.4 395.9 16.7 396.5 15.8Z" fill="#DEB887"/><path d="M421.8 10.8C422.6 9.9 429.4 9.8 431.9 10.1C434.5 10.4 437.2 11.5 437 12.7C436.8 13.8 432.4 16.7 430.7 17.1C429 17.5 428.3 16.3 426.9 15.2C425.4 14.1 421 11.6 421.8 10.8Z" fill="#0000CD"/><path d="M359.7 102.6C361 101.2 366.5 101.7 369.9 102C373.2 102.3 377.5 103.3 380 104.5C382.5 105.7 385.1 107.5 385.1 108.9C385.1 110.4 382.5 112.6 380 113.4C377.5 114.1 372.8 113.9 369.9 113.4C366.9 112.8 364 112 362.3 110.2C360.6 108.4 358.5 104 359.7 102.6Z" fill="#F5E6BE"/><path d="M362.3 106.4C363.5 105.8 367.8 105.5 369.9 105.8C372 106.1 375.1 107.5 374.9 108.3C374.7 109.1 370.7 110.6 368.6 110.8C366.5 111 363.3 110.3 362.3 109.6C361.2 108.8 361 107 362.3 106.4Z" fill="#DEB887"/><path d="M367.3 115.3C369 113.7 374.9 113.8 377.5 114.6C380 115.5 382.1 117.9 382.5 120.3C383 122.8 381.7 127.5 380 129.2C378.3 130.9 374.5 131.3 372.4 130.5C370.3 129.6 368.2 126.7 367.3 124.1C366.5 121.6 365.6 116.8 367.3 115.3Z" fill="#C0F064"/><path d="M385.1 130.5C387 129.5 392.2 129.2 395.2 129.8C398.2 130.5 402.2 132.5 402.8 134.3C403.4 136.1 401.3 139.5 399 140.6C396.7 141.7 391.4 141.4 388.9 140.6C386.3 139.8 384.4 137.2 383.8 135.5C383.2 133.8 383.2 131.4 385.1 130.5Z" fill="#F5E6BE"/><path d="M391.4 122.9C392.2 121.6 396.5 121.7 397.7 122.9C399 124 399.8 128.6 399 129.8C398.2 131.1 393.9 131.6 392.7 130.5C391.4 129.3 390.6 124.1 391.4 122.9Z" fill="#C0F064"/><path d="M377.5 132.4C378.3 130.9 383.4 130.6 385.1 131.7C386.8 132.9 388.4 137.9 387.6 139.3C386.8 140.8 381.7 141.8 380 140.6C378.3 139.4 376.6 133.8 377.5 132.4Z" fill="#C0F064"/><path d="M397.7 116.5C399.4 115.6 405.5 116.3 407.9 117.2C410.2 118 412.1 120.2 411.7 121.6C411.2 123 407.7 125.2 405.3 125.4C403 125.6 399 124.3 397.7 122.9C396.5 121.4 396 117.5 397.7 116.5Z" fill="#F5E6BE"/><path d="M367.3 138.1C368.4 136.8 373.5 136.4 374.9 137.4C376.4 138.5 377.3 143.1 376.2 144.4C375.1 145.7 370.1 146.1 368.6 145C367.1 144 366.3 139.3 367.3 138.1Z" fill="#F5E6BE"/><path d="M374.9 145.7C376.4 144.4 380.6 143.6 382.5 144.4C384.4 145.2 386.8 148.8 386.3 150.7C385.9 152.6 382.1 155.6 380 155.8C377.9 156 374.5 153.7 373.7 152C372.8 150.3 373.5 146.9 374.9 145.7Z" fill="#F5E6BE"/><path d="M365.4 131.7C365.6 130.5 367.3 131.3 368 133C368.6 134.7 369.4 140.6 369.2 141.9C369 143.1 367.3 142.3 366.7 140.6C366.1 138.9 365.2 133 365.4 131.7Z" fill="#FFE100"/><path d="M359.7 157.1C360.6 155.6 364.4 154.5 366.1 155.8C367.8 157.1 368.8 161.7 369.9 164.7C370.9 167.6 372.2 170.8 372.4 173.5C372.6 176.3 372.4 179.7 371.1 181.1C369.9 182.6 366.3 183.5 364.8 182.4C363.3 181.3 362.9 177.8 362.3 174.8C361.6 171.8 361.4 167.6 361 164.7C360.6 161.7 358.9 158.5 359.7 157.1Z" fill="#20B2AA"/><path d="M362.3 160.9C362.7 159.4 364.9 159.6 366.1 160.9C367.2 162.1 368.7 165.7 369.2 168.5C369.8 171.2 370 175.6 369.2 177.3C368.5 179 365.8 179.9 364.8 178.6C363.9 177.3 364 172.7 363.5 169.7C363.1 166.8 361.8 162.3 362.3 160.9Z" fill="#7896F0"/><path d="M364.2 164.7C364.4 163.6 366.2 164.7 366.7 165.9C367.2 167.2 367.6 171.2 367.3 172.3C367.1 173.3 365.7 173.5 365.2 172.3C364.7 171 363.9 165.7 364.2 164.7Z" fill="#B0E0E6"/><path d="M210.3 169.7C211.3 168.4 216 165.9 217.9 165.3C219.8 164.7 221.9 164.8 221.7 165.9C221.5 167.1 218.3 171 216.6 172.3C214.9 173.5 212.6 174 211.5 173.5C210.5 173.1 209.2 171.1 210.3 169.7Z" fill="#C0F064"/><path d="M0 204.6L76 203.9L152 204.6L228 205.2L304 205.2L380 205.2L456 204.6L456 229.3L0 229.3Z" fill="#F5E6BE"/></g><path d="M59.5 57L62.1 55.1L65.2 54.7L67.1 55.4L66.5 57L64.6 57.6L64 58.9L66.5 60.2L67.8 62.1L67.8 64L68.4 65.9L67.8 67.1L65.2 67.5L62.7 66.8L61.8 65.2L62.7 63L61.4 61.1L60.2 59.5Z" fill="#9AB932"/><path d="M66.2 63.3C66.5 62.7 67.8 62.3 68.1 62.7C68.5 63.1 68.6 65.2 68.4 65.9C68.2 66.5 67.2 66.9 66.9 66.5C66.5 66.1 66 64 66.2 63.3Z" fill="#FF4500"/><rect x="0" y="-1.3" width="456" height="6.3" fill="#FFFFFF"/><rect x="0" y="223.2" width="456" height="6.1" fill="#FFFFFF"/><rect x="8.2" y="190.9" width="10" height="6.8" fill="#FFFFFF"/><path d="M-69.2 194.2L-58.9 194.2L-58.9 190.9L1.3 190.9L1.3 201.4L-69.2 201.4Z" fill="#FFFFFF"/><path d="M386.8 194.2L397.1 194.2L397.1 190.9L457.3 190.9L457.3 201.4L386.8 201.4Z" fill="#FFFFFF"/></g><g clip-path="url(#mapc)"><use href="#coast" fill="none" stroke="#000" stroke-width="1.25" stroke-linejoin="round"/></g><rect x="0.5" y="0.5" width="454.8" height="227.6" fill="none" stroke="#333" stroke-width="1"/></g><text x="509.6" y="34.9" font-size="25.7" text-anchor="start" letter-spacing="0" font-weight="bold" xml:space="preserve">JJA</text><g transform="translate(234.2,16.9) scale(0.9,1)"><text x="0" y="0" font-size="16.9" text-anchor="middle" letter-spacing="0.25" xml:space="preserve">f1850c5_t6 (yrs 2-3)</text></g><text x="6.4" y="38.7" font-size="12" text-anchor="start" letter-spacing="0.25" xml:space="preserve">TOA clearsky net SW flux</text><text x="193.5" y="41.6" font-size="12" text-anchor="start" letter-spacing="0.19" xml:space="preserve">mean= 281.95</text><text x="462" y="41.6" font-size="12" text-anchor="end" letter-spacing="0.2" xml:space="preserve">W/m~S~2~N~</text><text x="479.2" y="78.3" font-size="11" text-anchor="start" letter-spacing="0.1" xml:space="preserve">Min =   0.00 Max = 417.97</text><g transform="translate(233.6,305.2) scale(0.9,1)"><text x="0" y="0" font-size="16.9" text-anchor="middle" letter-spacing="0.25" xml:space="preserve">CERES</text></g><text x="6.4" y="325.7" font-size="12" text-anchor="start" letter-spacing="0.25" xml:space="preserve">TOA clearsky net SW flux</text><text x="193.5" y="328.6" font-size="12" text-anchor="start" letter-spacing="0.19" xml:space="preserve">mean= 285.10</text><text x="462" y="328.6" font-size="12" text-anchor="end" letter-spacing="0.2" xml:space="preserve">W/m~S~2~N~</text><text x="479.2" y="365.3" font-size="11" text-anchor="start" letter-spacing="0.1" xml:space="preserve">Min =  -0.00 Max = 418.68</text><g transform="translate(233.4,593.7) scale(0.9,1)"><text x="0" y="0" font-size="16.9" text-anchor="middle" letter-spacing="0.25" xml:space="preserve">f1850c5_t6 - CERES</text></g><text x="5.3" y="614.8" font-size="12" text-anchor="start" letter-spacing="0.25" xml:space="preserve">mean =  -3.16</text><text x="195.7" y="615.1" font-size="12" text-anchor="start" letter-spacing="0.19" xml:space="preserve">rmse =  12.95</text><text x="462" y="615.6" font-size="12" text-anchor="end" letter-spacing="0.2" xml:space="preserve">W/m~S~2~N~</text><text x="479.2" y="652.3" font-size="11" text-anchor="start" letter-spacing="0.1" xml:space="preserve">Min = -154.55 Max =  43.49</text><rect x="522.7" y="97.10" width="20" height="11.23" fill="#FF1493" stroke="#000" stroke-width="0.6"/><rect x="522.7" y="108.33" width="20" height="11.23" fill="#FFB6C1" stroke="#000" stroke-width="0.6"/><rect x="522.7" y="119.56" width="20" height="11.23" fill="#B22222" stroke="#000" stroke-width="0.6"/><rect x="522.7" y="130.79" width="20" height="11.23" fill="#FF4500" stroke="#000" stroke-width="0.6"/><rect x="522.7" y="142.02" width="20" height="11.23" fill="#FFA500" stroke="#000" stroke-width="0.6"/><rect x="522.7" y="153.25" width="20" height="11.23" fill="#FFE100" stroke="#000" stroke-width="0.6"/><rect x="522.7" y="164.48" width="20" height="11.23" fill="#DEB887" stroke="#000" stroke-width="0.6"/><rect x="522.7" y="175.71" width="20" height="11.23" fill="#F5E6BE" stroke="#000" stroke-width="0.6"/><rect x="522.7" y="186.94" width="20" height="11.23" fill="#9AB932" stroke="#000" stroke-width="0.6"/><rect x="522.7" y="198.17" width="20" height="11.23" fill="#C0F064" stroke="#000" stroke-width="0.6"/><rect x="522.7" y="209.40" width="20" height="11.23" fill="#20B2AA" stroke="#000" stroke-width="0.6"/><rect x="522.7" y="220.63" width="20" height="11.23" fill="#B0E0E6" stroke="#000" stroke-width="0.6"/><rect x="522.7" y="231.86" width="20" height="11.23" fill="#7896F0" stroke="#000" stroke-width="0.6"/><rect x="522.7" y="243.09" width="20" height="11.23" fill="#4169E1" stroke="#000" stroke-width="0.6"/><rect x="522.7" y="254.32" width="20" height="11.23" fill="#0000CD" stroke="#000" stroke-width="0.6"/><rect x="522.7" y="265.55" width="20" height="11.23" fill="#9370DB" stroke="#000" stroke-width="0.6"/><text x="558.2" y="111.03" font-size="9" text-anchor="middle">440</text><text x="558.2" y="122.26" font-size="9" text-anchor="middle">400</text><text x="558.2" y="133.49" font-size="9" text-anchor="middle">360</text><text x="558.2" y="144.72" font-size="9" text-anchor="middle">320</text><text x="558.2" y="155.95" font-size="9" text-anchor="middle">280</text><text x="558.2" y="167.18" font-size="9" text-anchor="middle">240</text><text x="558.2" y="178.41" font-size="9" text-anchor="middle">200</text><text x="558.2" y="189.64" font-size="9" text-anchor="middle">175</text><text x="558.2" y="200.87" font-size="9" text-anchor="middle">150</text><text x="558.2" y="212.10" font-size="9" text-anchor="middle">125</text><text x="558.2" y="223.33" font-size="9" text-anchor="middle">100</text><text x="558.2" y="234.56" font-size="9" text-anchor="middle">75</text><text x="558.2" y="245.79" font-size="9" text-anchor="middle">50</text><text x="558.2" y="257.02" font-size="9" text-anchor="middle">25</text><text x="558.2" y="268.25" font-size="9" text-anchor="middle">0</text><rect x="523" y="384.10" width="20" height="11.23" fill="#FF1493" stroke="#000" stroke-width="0.6"/><rect x="523" y="395.33" width="20" height="11.23" fill="#FFB6C1" stroke="#000" stroke-width="0.6"/><rect x="523" y="406.56" width="20" height="11.23" fill="#B22222" stroke="#000" stroke-width="0.6"/><rect x="523" y="417.79" width="20" height="11.23" fill="#FF4500" stroke="#000" stroke-width="0.6"/><rect x="523" y="429.02" width="20" height="11.23" fill="#FFA500" stroke="#000" stroke-width="0.6"/><rect x="523" y="440.25" width="20" height="11.23" fill="#FFE100" stroke="#000" stroke-width="0.6"/><rect x="523" y="451.48" width="20" height="11.23" fill="#DEB887" stroke="#000" stroke-width="0.6"/><rect x="523" y="462.71" width="20" height="11.23" fill="#F5E6BE" stroke="#000" stroke-width="0.6"/><rect x="523" y="473.94" width="20" height="11.23" fill="#9AB932" stroke="#000" stroke-width="0.6"/><rect x="523" y="485.17" width="20" height="11.23" fill="#C0F064" stroke="#000" stroke-width="0.6"/><rect x="523" y="496.40" width="20" height="11.23" fill="#20B2AA" stroke="#000" stroke-width="0.6"/><rect x="523" y="507.63" width="20" height="11.23" fill="#B0E0E6" stroke="#000" stroke-width="0.6"/><rect x="523" y="518.86" width="20" height="11.23" fill="#7896F0" stroke="#000" stroke-width="0.6"/><rect x="523" y="530.09" width="20" height="11.23" fill="#4169E1" stroke="#000" stroke-width="0.6"/><rect x="523" y="541.32" width="20" height="11.23" fill="#0000CD" stroke="#000" stroke-width="0.6"/><rect x="523" y="552.55" width="20" height="11.23" fill="#9370DB" stroke="#000" stroke-width="0.6"/><text x="558.4" y="398.03" font-size="9" text-anchor="middle">440</text><text x="558.4" y="409.26" font-size="9" text-anchor="middle">400</text><text x="558.4" y="420.49" font-size="9" text-anchor="middle">360</text><text x="558.4" y="431.72" font-size="9" text-anchor="middle">320</text><text x="558.4" y="442.95" font-size="9" text-anchor="middle">280</text><text x="558.4" y="454.18" font-size="9" text-anchor="middle">240</text><text x="558.4" y="465.41" font-size="9" text-anchor="middle">200</text><text x="558.4" y="476.64" font-size="9" text-anchor="middle">175</text><text x="558.4" y="487.87" font-size="9" text-anchor="middle">150</text><text x="558.4" y="499.10" font-size="9" text-anchor="middle">125</text><text x="558.4" y="510.33" font-size="9" text-anchor="middle">100</text><text x="558.4" y="521.56" font-size="9" text-anchor="middle">75</text><text x="558.4" y="532.79" font-size="9" text-anchor="middle">50</text><text x="558.4" y="544.02" font-size="9" text-anchor="middle">25</text><text x="558.4" y="555.25" font-size="9" text-anchor="middle">0</text><rect x="527.2" y="671.10" width="20" height="11.23" fill="#FF1493" stroke="#000" stroke-width="0.6"/><rect x="527.2" y="682.33" width="20" height="11.23" fill="#FFB6C1" stroke="#000" stroke-width="0.6"/><rect x="527.2" y="693.56" width="20" height="11.23" fill="#B22222" stroke="#000" stroke-width="0.6"/><rect x="527.2" y="704.79" width="20" height="11.23" fill="#FF4500" stroke="#000" stroke-width="0.6"/><rect x="527.2" y="716.02" width="20" height="11.23" fill="#FFA500" stroke="#000" stroke-width="0.6"/><rect x="527.2" y="727.25" width="20" height="11.23" fill="#FFE100" stroke="#000" stroke-width="0.6"/><rect x="527.2" y="738.48" width="20" height="11.23" fill="#DEB887" stroke="#000" stroke-width="0.6"/><rect x="527.2" y="749.71" width="20" height="11.23" fill="#F5E6BE" stroke="#000" stroke-width="0.6"/><rect x="527.2" y="760.94" width="20" height="11.23" fill="#9AB932" stroke="#000" stroke-width="0.6"/><rect x="527.2" y="772.17" width="20" height="11.23" fill="#C0F064" stroke="#000" stroke-width="0.6"/><rect x="527.2" y="783.40" width="20" height="11.23" fill="#20B2AA" stroke="#000" stroke-width="0.6"/><rect x="527.2" y="794.63" width="20" height="11.23" fill="#B0E0E6" stroke="#000" stroke-width="0.6"/><rect x="527.2" y="805.86" width="20" height="11.23" fill="#7896F0" stroke="#000" stroke-width="0.6"/><rect x="527.2" y="817.09" width="20" height="11.23" fill="#4169E1" stroke="#000" stroke-width="0.6"/><rect x="527.2" y="828.32" width="20" height="11.23" fill="#0000CD" stroke="#000" stroke-width="0.6"/><rect x="527.2" y="839.55" width="20" height="11.23" fill="#9370DB" stroke="#000" stroke-width="0.6"/><text x="562" y="685.03" font-size="9" text-anchor="middle">80</text><text x="562" y="696.26" font-size="9" text-anchor="middle">60</text><text x="562" y="707.49" font-size="9" text-anchor="middle">40</text><text x="562" y="718.72" font-size="9" text-anchor="middle">30</text><text x="562" y="729.95" font-size="9" text-anchor="middle">20</text><text x="562" y="741.18" font-size="9" text-anchor="middle">10</text><text x="562" y="752.41" font-size="9" text-anchor="middle">5</text><text x="562" y="763.64" font-size="9" text-anchor="middle">0</text><text x="562" y="774.87" font-size="9" text-anchor="middle">-5</text><text x="562" y="786.10" font-size="9" text-anchor="middle">-10</text><text x="562" y="797.33" font-size="9" text-anchor="middle">-20</text><text x="562" y="808.56" font-size="9" text-anchor="middle">-30</text><text x="562" y="819.79" font-size="9" text-anchor="middle">-40</text><text x="562" y="831.02" font-size="9" text-anchor="middle">-60</text><text x="562" y="842.25" font-size="9" text-anchor="middle">-80</text></svg></body></html>
